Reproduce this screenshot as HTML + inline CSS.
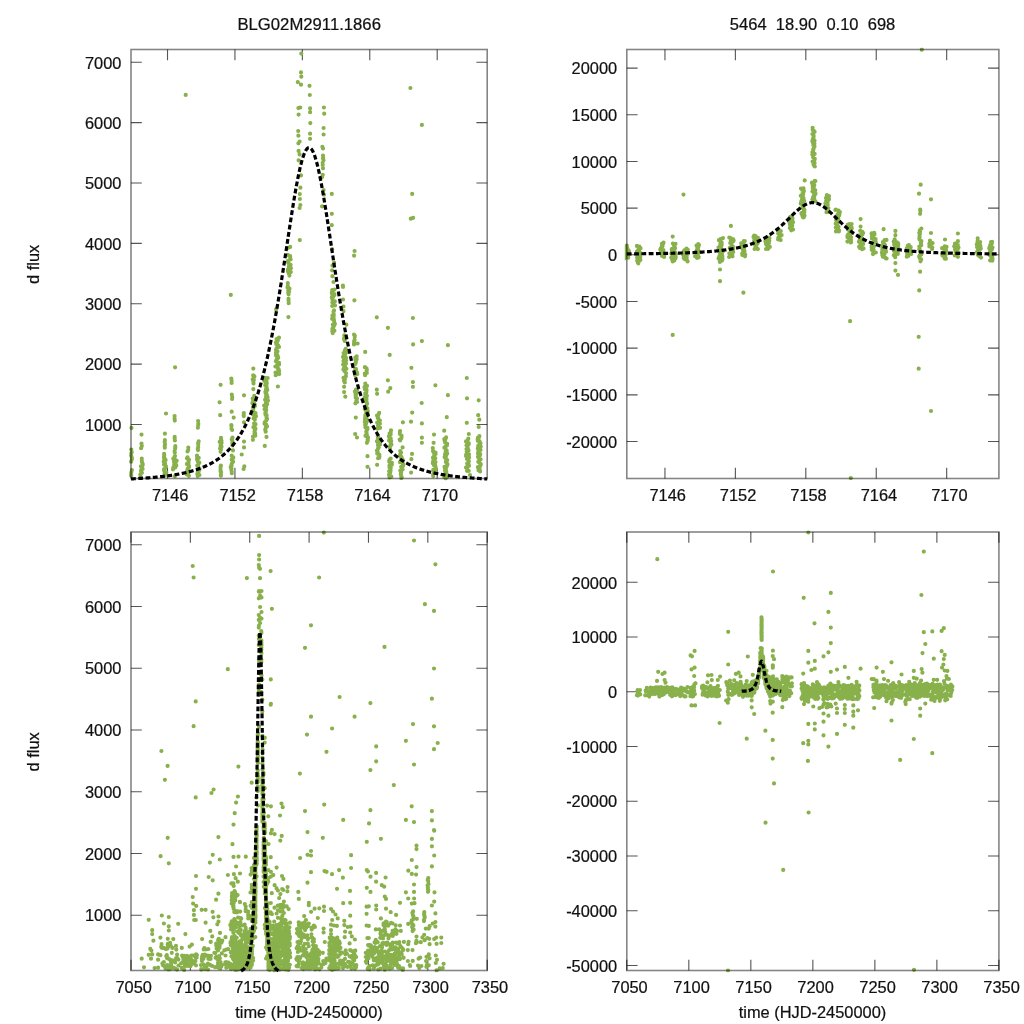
<!DOCTYPE html><html><head><meta charset="utf-8"><style>html,body{margin:0;padding:0;background:#fff;overflow:hidden}svg{display:block}</style></head><body><svg width="1024" height="1024" viewBox="0 0 1024 1024" font-family="'Liberation Sans', sans-serif" font-size="16.4">
<style>text{fill:#111;stroke:#111;stroke-width:0.22px}</style><rect width="1024" height="1024" fill="#fff"/>
<path d="M167.52 478.5v-10.8M167.52 49.5v10.8M234.94 478.5v-10.8M234.94 49.5v10.8M302.36 478.5v-10.8M302.36 49.5v10.8M369.78 478.5v-10.8M369.78 49.5v10.8M437.20 478.5v-10.8M437.20 49.5v10.8M131.0 424.50h10.8M487.2 424.50h-10.8M131.0 364.13h10.8M487.2 364.13h-10.8M131.0 303.77h10.8M487.2 303.77h-10.8M131.0 243.40h10.8M487.2 243.40h-10.8M131.0 183.03h10.8M487.2 183.03h-10.8M131.0 122.67h10.8M487.2 122.67h-10.8M131.0 62.30h10.8M487.2 62.30h-10.8" stroke="#555" stroke-width="1.1" fill="none"/>
<text x="170.22" y="501.30" text-anchor="middle">7146</text>
<text x="237.64" y="501.30" text-anchor="middle">7152</text>
<text x="305.06" y="501.30" text-anchor="middle">7158</text>
<text x="372.48" y="501.30" text-anchor="middle">7164</text>
<text x="439.90" y="501.30" text-anchor="middle">7170</text>
<text x="121.40" y="430.70" text-anchor="end">1000</text>
<text x="121.40" y="370.33" text-anchor="end">2000</text>
<text x="121.40" y="309.97" text-anchor="end">3000</text>
<text x="121.40" y="249.60" text-anchor="end">4000</text>
<text x="121.40" y="189.23" text-anchor="end">5000</text>
<text x="121.40" y="128.87" text-anchor="end">6000</text>
<text x="121.40" y="68.50" text-anchor="end">7000</text>
<path d="M664.95 478.5v-10.8M664.95 49.5v10.8M735.38 478.5v-10.8M735.38 49.5v10.8M805.81 478.5v-10.8M805.81 49.5v10.8M876.24 478.5v-10.8M876.24 49.5v10.8M946.67 478.5v-10.8M946.67 49.5v10.8M626.8 441.52h10.8M998.9 441.52h-10.8M626.8 394.84h10.8M998.9 394.84h-10.8M626.8 348.16h10.8M998.9 348.16h-10.8M626.8 301.48h10.8M998.9 301.48h-10.8M626.8 254.80h10.8M998.9 254.80h-10.8M626.8 208.12h10.8M998.9 208.12h-10.8M626.8 161.44h10.8M998.9 161.44h-10.8M626.8 114.76h10.8M998.9 114.76h-10.8M626.8 68.08h10.8M998.9 68.08h-10.8" stroke="#555" stroke-width="1.1" fill="none"/>
<text x="667.65" y="501.30" text-anchor="middle">7146</text>
<text x="738.08" y="501.30" text-anchor="middle">7152</text>
<text x="808.51" y="501.30" text-anchor="middle">7158</text>
<text x="878.94" y="501.30" text-anchor="middle">7164</text>
<text x="949.37" y="501.30" text-anchor="middle">7170</text>
<text x="617.20" y="447.72" text-anchor="end">-20000</text>
<text x="617.20" y="401.04" text-anchor="end">-15000</text>
<text x="617.20" y="354.36" text-anchor="end">-10000</text>
<text x="617.20" y="307.68" text-anchor="end">-5000</text>
<text x="617.20" y="261.00" text-anchor="end">0</text>
<text x="617.20" y="214.32" text-anchor="end">5000</text>
<text x="617.20" y="167.64" text-anchor="end">10000</text>
<text x="617.20" y="120.96" text-anchor="end">15000</text>
<text x="617.20" y="74.28" text-anchor="end">20000</text>
<path d="M131.00 970.5v-10.8M131.00 532.0v10.8M190.37 970.5v-10.8M190.37 532.0v10.8M249.73 970.5v-10.8M249.73 532.0v10.8M309.10 970.5v-10.8M309.10 532.0v10.8M368.47 970.5v-10.8M368.47 532.0v10.8M427.83 970.5v-10.8M427.83 532.0v10.8M487.20 970.5v-10.8M487.20 532.0v10.8M131.0 915.20h10.8M487.2 915.20h-10.8M131.0 853.47h10.8M487.2 853.47h-10.8M131.0 791.73h10.8M487.2 791.73h-10.8M131.0 730.00h10.8M487.2 730.00h-10.8M131.0 668.27h10.8M487.2 668.27h-10.8M131.0 606.54h10.8M487.2 606.54h-10.8M131.0 544.80h10.8M487.2 544.80h-10.8" stroke="#555" stroke-width="1.1" fill="none"/>
<text x="133.70" y="993.30" text-anchor="middle">7050</text>
<text x="193.07" y="993.30" text-anchor="middle">7100</text>
<text x="252.43" y="993.30" text-anchor="middle">7150</text>
<text x="311.80" y="993.30" text-anchor="middle">7200</text>
<text x="371.17" y="993.30" text-anchor="middle">7250</text>
<text x="430.53" y="993.30" text-anchor="middle">7300</text>
<text x="489.90" y="993.30" text-anchor="middle">7350</text>
<text x="121.40" y="921.40" text-anchor="end">1000</text>
<text x="121.40" y="859.67" text-anchor="end">2000</text>
<text x="121.40" y="797.93" text-anchor="end">3000</text>
<text x="121.40" y="736.20" text-anchor="end">4000</text>
<text x="121.40" y="674.47" text-anchor="end">5000</text>
<text x="121.40" y="612.74" text-anchor="end">6000</text>
<text x="121.40" y="551.00" text-anchor="end">7000</text>
<path d="M626.80 970.5v-10.8M626.80 532.0v10.8M688.82 970.5v-10.8M688.82 532.0v10.8M750.83 970.5v-10.8M750.83 532.0v10.8M812.85 970.5v-10.8M812.85 532.0v10.8M874.87 970.5v-10.8M874.87 532.0v10.8M936.88 970.5v-10.8M936.88 532.0v10.8M998.90 970.5v-10.8M998.90 532.0v10.8M626.8 965.48h10.8M998.9 965.48h-10.8M626.8 910.74h10.8M998.9 910.74h-10.8M626.8 856.00h10.8M998.9 856.00h-10.8M626.8 801.26h10.8M998.9 801.26h-10.8M626.8 746.52h10.8M998.9 746.52h-10.8M626.8 691.78h10.8M998.9 691.78h-10.8M626.8 637.04h10.8M998.9 637.04h-10.8M626.8 582.30h10.8M998.9 582.30h-10.8" stroke="#555" stroke-width="1.1" fill="none"/>
<text x="629.50" y="993.30" text-anchor="middle">7050</text>
<text x="691.52" y="993.30" text-anchor="middle">7100</text>
<text x="753.53" y="993.30" text-anchor="middle">7150</text>
<text x="815.55" y="993.30" text-anchor="middle">7200</text>
<text x="877.57" y="993.30" text-anchor="middle">7250</text>
<text x="939.58" y="993.30" text-anchor="middle">7300</text>
<text x="1001.60" y="993.30" text-anchor="middle">7350</text>
<text x="617.20" y="971.68" text-anchor="end">-50000</text>
<text x="617.20" y="916.94" text-anchor="end">-40000</text>
<text x="617.20" y="862.20" text-anchor="end">-30000</text>
<text x="617.20" y="807.46" text-anchor="end">-20000</text>
<text x="617.20" y="752.72" text-anchor="end">-10000</text>
<text x="617.20" y="697.98" text-anchor="end">0</text>
<text x="617.20" y="643.24" text-anchor="end">10000</text>
<text x="617.20" y="588.50" text-anchor="end">20000</text>
<defs><clipPath id="cTL"><rect x="129.0" y="47.5" width="360.20" height="433.00"/></clipPath><clipPath id="cTR"><rect x="624.8" y="47.5" width="376.10" height="433.00"/></clipPath><clipPath id="cBL"><rect x="129.0" y="530.0" width="360.20" height="442.50"/></clipPath><clipPath id="cBR"><rect x="624.8" y="530.0" width="376.10" height="442.50"/></clipPath></defs>
<path clip-path="url(#cTL)" d="M185.7 94.9h0M230.8 294.9h0M131.5 427.9h0M131.3 449.5h0M131.7 452.1h0M131.3 453.6h0M131.2 455.8h0M131.9 457.8h0M131.9 459.2h0M131.1 461.7h0M131.9 470.2h0M131.3 472.5h0M131.2 474.5h0M131.2 475.7h0M141.5 434.6h0M141.5 443.7h0M141.8 446.0h0M141.1 448.2h0M141.8 458.7h0M141.8 461.0h0M142.1 462.6h0M142.7 463.9h0M142.7 464.9h0M140.9 466.3h0M142.0 467.6h0M142.6 468.9h0M141.1 470.2h0M141.1 471.7h0M141.9 472.8h0M140.3 474.5h0M140.6 476.3h0M166.0 413.5h0M164.9 433.7h0M164.9 440.2h0M164.7 441.9h0M165.0 444.2h0M164.8 445.8h0M164.8 447.7h0M164.1 453.9h0M164.2 455.2h0M164.0 456.9h0M164.0 458.3h0M165.2 459.4h0M165.6 460.1h0M163.7 461.5h0M165.0 463.2h0M164.0 464.6h0M165.4 465.4h0M166.0 466.5h0M165.2 468.2h0M164.0 469.4h0M164.1 470.4h0M166.2 472.7h0M164.6 473.5h0M166.2 474.6h0M164.6 475.7h0M175.1 367.3h0M174.6 416.0h0M174.6 418.8h0M174.8 420.6h0M174.7 436.9h0M174.7 438.7h0M174.9 440.5h0M175.3 446.2h0M175.3 446.9h0M175.1 448.7h0M174.6 451.4h0M174.8 452.5h0M175.0 456.0h0M174.6 456.7h0M173.3 458.8h0M174.8 459.4h0M176.7 460.8h0M174.0 461.8h0M174.3 462.9h0M175.6 464.0h0M176.3 465.4h0M174.1 465.3h0M175.3 467.4h0M173.2 467.8h0M173.0 469.4h0M174.9 476.2h0M188.3 447.5h0M188.2 450.1h0M187.5 451.5h0M187.6 457.4h0M186.9 458.3h0M189.0 459.8h0M188.4 462.0h0M188.5 463.0h0M186.9 464.1h0M188.9 465.9h0M189.0 467.1h0M187.8 468.7h0M188.1 469.8h0M187.3 470.4h0M188.9 471.7h0M187.9 472.9h0M186.8 474.5h0M188.9 475.8h0M198.1 421.0h0M198.3 423.8h0M198.2 425.1h0M197.9 427.7h0M198.7 441.3h0M198.2 442.9h0M198.2 444.3h0M198.2 447.0h0M197.8 448.7h0M198.0 450.1h0M197.0 455.7h0M197.0 456.1h0M198.7 457.9h0M197.0 458.9h0M197.4 460.3h0M197.9 461.6h0M199.3 462.7h0M198.2 464.6h0M197.2 465.5h0M198.3 467.1h0M199.6 468.8h0M199.3 470.0h0M197.9 470.9h0M198.4 472.2h0M197.3 473.9h0M199.4 475.0h0M197.7 475.9h0M220.6 384.8h0M219.6 402.3h0M220.2 415.2h0M221.0 437.9h0M221.0 439.5h0M221.5 440.8h0M219.7 441.9h0M221.6 442.8h0M221.1 444.3h0M220.5 445.8h0M221.5 446.7h0M220.1 448.5h0M220.9 449.6h0M220.6 451.8h0M220.9 465.6h0M220.6 466.9h0M220.5 469.4h0M220.6 471.4h0M221.1 472.2h0M220.9 474.4h0M220.9 475.7h0M231.3 378.5h0M231.6 380.7h0M231.6 383.0h0M231.8 394.7h0M232.2 397.3h0M232.1 398.9h0M231.7 411.7h0M233.7 417.6h0M231.4 425.1h0M231.4 426.0h0M231.5 428.8h0M232.1 430.0h0M232.5 437.7h0M231.7 439.3h0M232.4 441.2h0M232.3 443.2h0M232.4 445.4h0M233.0 450.4h0M231.7 455.7h0M233.3 457.4h0M231.7 459.4h0M232.6 460.2h0M233.1 461.8h0M232.0 463.3h0M231.5 464.9h0M231.6 465.6h0M230.7 467.1h0M231.5 468.4h0M231.3 469.6h0M231.7 471.6h0M231.8 473.2h0M244.0 395.3h0M243.8 413.1h0M243.7 415.0h0M243.8 416.1h0M244.0 422.3h0M244.0 441.6h0M244.0 447.4h0M241.7 454.5h0M244.3 466.4h0M243.6 469.0h0M301.3 53.6h0M301.0 72.4h0M301.3 76.7h0M297.8 82.1h0M301.0 84.7h0M298.4 108.1h0M300.2 107.5h0M298.6 114.6h0M298.2 131.0h0M298.4 135.7h0M299.6 141.5h0M298.4 143.3h0M298.6 150.9h0M299.6 154.4h0M298.6 160.3h0M309.5 85.8h0M309.8 95.0h0M310.1 108.3h0M310.1 112.2h0M310.3 123.1h0M310.1 133.7h0M310.1 138.8h0M323.9 107.5h0M324.2 113.7h0M323.6 128.0h0M323.6 134.5h0M322.4 146.8h0M323.0 148.5h0M323.0 155.6h0M323.2 157.4h0M323.0 158.6h0M323.5 160.3h0M322.7 162.8h0M322.7 164.9h0M410.4 88.0h0M421.9 124.9h0M301.0 175.4h0M300.4 187.7h0M299.8 194.1h0M299.9 199.0h0M300.4 205.0h0M299.6 208.0h0M299.8 240.1h0M290.2 246.9h0M287.8 248.0h0M287.8 254.9h0M290.1 256.1h0M290.2 257.0h0M290.3 258.5h0M290.6 259.4h0M287.8 261.2h0M287.9 262.1h0M288.8 263.6h0M290.6 264.8h0M290.3 265.2h0M288.9 266.7h0M290.9 268.2h0M288.4 269.4h0M288.0 269.7h0M287.9 271.2h0M290.8 272.1h0M288.8 273.4h0M289.4 275.6h0M287.8 283.2h0M323.0 168.3h0M322.7 174.8h0M322.1 177.1h0M323.6 190.0h0M324.0 194.7h0M322.1 206.4h0M331.8 193.9h0M331.8 213.8h0M331.8 225.2h0M332.1 249.2h0M334.1 262.7h0M332.4 265.6h0M332.1 270.3h0M332.4 276.2h0M333.5 282.0h0M354.6 251.0h0M354.1 255.7h0M342.9 285.5h0M412.2 193.9h0M410.8 218.7h0M413.1 217.8h0M287.8 286.2h0M287.5 287.6h0M289.5 288.5h0M288.3 290.4h0M289.1 291.4h0M288.2 292.7h0M288.6 294.3h0M288.5 298.9h0M288.6 300.8h0M288.7 303.2h0M288.4 317.1h0M276.1 309.4h0M279.0 337.7h0M277.9 338.5h0M276.6 339.1h0M277.9 340.2h0M277.3 341.2h0M276.0 342.4h0M276.3 344.1h0M276.9 344.2h0M278.1 345.4h0M279.0 346.9h0M276.6 348.2h0M276.4 349.2h0M276.0 350.2h0M277.5 351.3h0M276.9 351.7h0M276.0 352.7h0M276.8 354.0h0M275.9 355.3h0M277.6 355.8h0M277.9 357.1h0M278.2 357.8h0M276.8 359.1h0M276.7 359.8h0M275.9 361.2h0M277.6 362.3h0M279.0 362.8h0M279.1 364.5h0M277.3 364.5h0M275.4 366.5h0M277.1 366.8h0M277.6 367.7h0M278.6 369.1h0M278.3 369.7h0M279.1 371.0h0M275.5 372.5h0M276.4 373.0h0M279.2 374.1h0M275.7 375.2h0M277.9 386.5h0M253.3 368.6h0M253.2 375.4h0M254.4 376.4h0M253.6 378.3h0M252.7 379.4h0M253.8 380.0h0M253.4 382.0h0M253.5 383.6h0M253.3 389.1h0M254.3 395.9h0M255.1 397.8h0M252.7 398.5h0M253.2 400.7h0M254.0 402.2h0M252.4 403.2h0M254.8 404.5h0M265.7 378.0h0M267.7 378.0h0M266.0 379.3h0M266.4 380.4h0M264.4 380.9h0M266.7 382.7h0M266.8 383.3h0M265.4 384.7h0M265.2 385.3h0M266.5 386.0h0M266.6 387.7h0M266.7 388.1h0M266.0 389.3h0M267.3 389.9h0M265.4 391.9h0M266.2 392.3h0M265.7 393.3h0M266.8 394.8h0M266.7 395.2h0M266.0 396.7h0M267.6 397.2h0M267.0 397.9h0M265.1 399.8h0M268.0 400.6h0M266.6 401.2h0M266.0 402.4h0M266.4 403.8h0M267.1 404.2h0M265.5 405.6h0M334.4 289.6h0M332.2 290.0h0M332.5 291.4h0M331.8 292.7h0M334.4 294.1h0M332.2 294.5h0M334.4 295.1h0M333.2 296.8h0M331.8 297.5h0M332.4 299.0h0M332.5 299.5h0M332.7 300.9h0M334.9 301.3h0M332.4 302.4h0M333.3 304.1h0M335.0 305.4h0M332.2 306.0h0M334.0 310.4h0M333.5 311.7h0M333.7 312.8h0M333.8 315.1h0M332.4 315.6h0M333.6 317.3h0M332.1 318.8h0M333.8 319.4h0M334.1 321.2h0M334.3 322.9h0M334.9 323.9h0M332.8 324.8h0M333.9 326.1h0M333.2 327.2h0M332.4 328.8h0M334.4 330.7h0M332.3 331.3h0M332.7 333.1h0M343.0 286.9h0M343.0 299.5h0M343.5 306.5h0M343.5 311.2h0M346.4 324.7h0M344.3 335.3h0M344.2 337.6h0M344.0 339.2h0M344.8 340.9h0M345.7 348.9h0M344.9 350.3h0M346.2 351.8h0M346.6 352.3h0M343.6 353.1h0M345.0 354.5h0M344.0 355.4h0M344.9 356.3h0M343.0 356.9h0M346.0 357.9h0M344.0 359.6h0M346.1 360.6h0M343.5 361.0h0M344.5 362.3h0M346.0 363.4h0M343.1 364.6h0M344.7 365.3h0M345.2 366.9h0M344.0 368.2h0M346.4 368.8h0M343.4 369.6h0M344.3 370.3h0M344.6 371.2h0M346.1 373.3h0M345.9 376.3h0M343.5 377.8h0M344.9 379.3h0M344.0 380.8h0M344.8 382.4h0M344.1 386.8h0M344.1 392.1h0M345.3 396.7h0M354.4 300.3h0M354.0 334.6h0M354.8 335.8h0M354.7 337.1h0M354.6 339.8h0M354.1 341.3h0M354.0 343.3h0M354.0 344.4h0M357.6 343.5h0M356.7 356.3h0M355.3 357.7h0M356.7 359.2h0M355.5 360.1h0M355.9 361.4h0M355.8 362.6h0M355.3 364.0h0M355.2 368.6h0M356.1 369.2h0M355.3 371.2h0M357.0 372.7h0M357.3 374.1h0M355.1 375.1h0M356.0 389.6h0M357.1 390.1h0M354.9 391.5h0M356.5 393.5h0M355.5 394.3h0M355.7 396.1h0M355.7 397.5h0M357.0 398.4h0M356.4 400.5h0M357.1 402.0h0M355.4 403.3h0M365.2 351.9h0M364.9 367.2h0M366.5 368.4h0M366.8 369.7h0M366.7 370.6h0M366.8 372.9h0M364.8 373.6h0M365.1 375.2h0M365.3 383.5h0M365.5 384.9h0M367.0 385.9h0M364.5 387.2h0M364.9 389.2h0M366.5 389.7h0M366.5 390.7h0M366.3 392.6h0M365.2 393.7h0M366.9 395.8h0M365.4 396.7h0M364.6 397.4h0M366.5 398.9h0M365.1 400.3h0M366.6 401.9h0M367.1 403.8h0M376.8 317.3h0M412.9 318.0h0M387.9 327.8h0M421.9 341.1h0M413.1 344.4h0M447.9 345.2h0M389.7 354.9h0M411.4 367.8h0M387.9 380.3h0M412.9 382.1h0M412.9 386.8h0M435.4 385.3h0M466.8 378.0h0M376.8 389.7h0M377.1 393.8h0M390.3 388.2h0M388.2 391.7h0M447.9 395.2h0M467.0 398.3h0M478.7 400.3h0M421.7 403.0h0M254.9 405.9h0M253.2 406.8h0M253.3 408.3h0M253.2 409.8h0M252.9 410.7h0M253.4 411.9h0M255.5 413.0h0M253.9 413.5h0M253.6 414.8h0M256.0 416.2h0M255.0 417.4h0M253.6 418.4h0M254.8 419.8h0M254.1 423.5h0M255.5 424.2h0M254.7 425.8h0M253.4 427.2h0M255.4 428.6h0M255.2 429.6h0M254.9 430.1h0M254.5 431.3h0M254.5 433.3h0M255.2 433.4h0M255.3 435.7h0M253.0 436.5h0M252.9 439.8h0M264.1 405.5h0M266.1 406.9h0M265.2 408.5h0M264.6 409.2h0M266.2 410.0h0M265.9 411.6h0M265.3 413.1h0M265.5 414.4h0M266.6 415.2h0M266.4 416.1h0M266.5 417.3h0M267.1 418.8h0M266.4 419.8h0M266.3 420.5h0M264.7 422.3h0M264.6 423.8h0M266.1 424.6h0M265.8 425.2h0M267.0 426.4h0M265.8 427.8h0M265.4 429.8h0M265.2 429.8h0M265.7 431.7h0M266.5 436.9h0M264.8 445.9h0M355.8 417.6h0M355.2 434.0h0M357.0 437.5h0M365.1 406.6h0M366.0 406.7h0M367.4 408.3h0M364.8 409.1h0M366.2 410.9h0M367.8 411.3h0M366.3 412.5h0M367.9 414.0h0M365.4 415.2h0M366.5 416.9h0M365.2 417.3h0M365.0 419.0h0M367.0 419.8h0M366.9 421.4h0M364.8 421.9h0M366.0 423.7h0M365.2 424.7h0M365.3 425.4h0M365.4 427.3h0M367.4 427.8h0M367.4 429.2h0M366.7 430.5h0M366.3 431.5h0M366.5 432.7h0M366.8 434.5h0M366.8 435.3h0M365.5 435.8h0M368.0 437.4h0M367.8 439.0h0M367.6 439.9h0M367.7 441.0h0M366.9 442.8h0M367.5 456.2h0M367.5 466.8h0M379.2 412.9h0M378.4 414.6h0M377.0 415.5h0M377.9 416.5h0M377.8 417.9h0M378.5 418.9h0M379.7 420.5h0M379.9 420.6h0M377.2 422.6h0M379.9 423.7h0M378.7 424.4h0M378.1 425.4h0M378.3 426.9h0M380.1 427.8h0M377.4 428.7h0M377.7 436.1h0M378.2 436.9h0M377.9 438.3h0M379.7 439.4h0M376.9 441.3h0M379.0 441.6h0M378.0 443.1h0M380.0 444.5h0M378.0 445.2h0M378.8 447.2h0M378.5 447.9h0M378.0 448.7h0M376.9 450.6h0M377.4 451.5h0M377.8 452.4h0M377.2 453.6h0M379.4 454.8h0M379.4 456.4h0M379.2 457.8h0M378.1 458.2h0M377.1 464.8h0M391.0 430.3h0M390.7 432.0h0M389.6 433.6h0M390.7 434.3h0M388.9 436.3h0M389.6 437.7h0M390.7 438.4h0M389.1 440.4h0M391.2 441.2h0M390.6 442.6h0M390.7 444.2h0M391.4 444.7h0M390.1 446.3h0M389.9 448.4h0M390.7 458.5h0M389.6 459.6h0M389.2 461.0h0M389.4 462.0h0M391.9 462.8h0M391.8 464.8h0M389.5 465.5h0M389.5 467.3h0M390.7 467.9h0M390.3 468.8h0M390.6 470.6h0M389.1 471.3h0M390.2 472.6h0M389.9 473.5h0M389.0 474.8h0M391.3 476.6h0M389.5 477.4h0M402.9 422.3h0M400.1 431.1h0M399.9 432.1h0M399.9 434.0h0M401.5 435.5h0M401.6 437.0h0M401.2 438.6h0M399.7 439.6h0M400.2 440.5h0M402.6 447.4h0M400.2 451.0h0M401.0 452.4h0M400.3 454.4h0M400.0 455.2h0M400.2 456.6h0M401.5 457.2h0M401.4 458.9h0M402.5 459.4h0M403.0 460.5h0M399.9 462.2h0M402.7 463.8h0M403.1 464.1h0M403.1 465.5h0M401.2 466.8h0M402.3 467.8h0M402.6 469.4h0M400.3 470.6h0M400.8 470.9h0M401.1 472.4h0M400.8 473.9h0M401.1 475.5h0M401.2 475.8h0M401.7 477.3h0M401.3 478.1h0M412.2 412.6h0M411.0 421.7h0M412.0 453.9h0M411.4 459.2h0M411.1 472.6h0M421.9 423.4h0M421.9 437.7h0M421.9 442.8h0M434.0 434.6h0M433.6 442.8h0M432.8 448.0h0M433.0 450.9h0M433.4 451.9h0M435.5 452.5h0M435.6 453.9h0M434.4 454.5h0M434.2 455.8h0M433.0 457.7h0M435.3 458.3h0M434.4 460.1h0M433.2 461.1h0M435.5 462.1h0M432.8 463.2h0M435.1 465.0h0M433.9 465.1h0M435.5 466.4h0M435.6 468.2h0M435.8 469.1h0M433.3 469.8h0M434.5 471.9h0M433.8 473.2h0M434.1 473.3h0M433.1 474.6h0M433.2 475.9h0M446.8 417.2h0M444.2 430.7h0M446.1 437.4h0M444.3 439.0h0M445.4 439.3h0M444.6 440.8h0M445.1 442.4h0M446.4 443.8h0M447.2 443.8h0M446.9 445.4h0M445.2 446.9h0M444.4 447.7h0M445.4 448.3h0M446.7 450.5h0M445.6 451.5h0M446.1 452.9h0M447.2 453.6h0M445.0 454.3h0M446.0 455.8h0M444.6 457.0h0M445.1 457.7h0M446.2 459.1h0M447.2 460.2h0M446.0 461.3h0M445.9 462.1h0M447.2 464.2h0M447.5 464.2h0M446.9 466.0h0M444.5 466.8h0M445.9 468.7h0M445.1 469.1h0M445.0 470.4h0M446.2 471.4h0M446.4 473.3h0M444.8 474.0h0M447.1 474.5h0M447.1 476.7h0M444.3 477.0h0M445.7 478.5h0M466.8 422.8h0M468.8 434.0h0M468.3 438.7h0M467.6 440.3h0M466.0 441.4h0M466.8 441.9h0M468.8 443.3h0M468.7 444.2h0M466.5 445.3h0M467.5 446.7h0M467.9 448.5h0M466.5 449.0h0M468.5 450.5h0M466.7 451.5h0M467.4 452.5h0M469.0 454.4h0M466.2 454.6h0M466.0 456.0h0M469.1 457.5h0M467.0 458.9h0M468.1 459.2h0M468.8 461.2h0M468.4 462.6h0M467.2 463.4h0M468.6 464.3h0M469.0 465.8h0M466.7 467.1h0M466.0 467.5h0M467.1 468.6h0M467.0 470.8h0M468.7 470.9h0M470.0 475.0h0M478.2 415.2h0M479.3 419.7h0M478.7 427.0h0M479.4 436.2h0M478.0 437.6h0M478.6 438.6h0M477.7 439.4h0M477.8 440.8h0M479.6 441.5h0M480.5 443.3h0M479.3 444.7h0M478.2 445.8h0M480.7 446.6h0M480.3 447.1h0M477.8 448.4h0M480.5 450.0h0M478.4 450.9h0M478.4 452.0h0M478.0 453.4h0M480.2 454.1h0M479.9 455.3h0M478.0 456.7h0M478.4 457.7h0M480.6 459.3h0M479.3 460.4h0M478.3 461.8h0M478.4 461.9h0M480.1 463.5h0M480.8 464.2h0M480.3 465.8h0M477.9 467.2h0M478.8 468.5h0M479.7 469.3h0M478.5 470.2h0M480.1 471.4h0" stroke="#88b04b" stroke-width="4.2" stroke-linecap="round" fill="none"/>
<path clip-path="url(#cTR)" d="M626.8 245.6h0M625.3 246.6h0M626.3 247.5h0M627.0 247.2h0M625.7 248.5h0M627.8 249.4h0M624.6 250.7h0M629.0 251.1h0M628.8 251.6h0M627.9 252.3h0M627.5 253.2h0M625.1 254.3h0M626.9 254.5h0M628.4 255.3h0M624.8 256.7h0M628.2 257.7h0M624.4 258.5h0M636.9 245.9h0M639.3 246.7h0M639.7 248.5h0M640.5 248.2h0M638.4 249.4h0M639.0 250.6h0M637.1 251.6h0M636.9 251.6h0M638.7 252.4h0M640.4 253.0h0M639.9 254.7h0M638.9 255.6h0M637.6 256.1h0M640.3 257.2h0M637.1 257.6h0M637.9 258.4h0M638.5 258.7h0M640.4 260.0h0M637.1 260.5h0M639.0 261.2h0M637.8 262.4h0M638.2 263.4h0M663.5 242.6h0M661.9 243.8h0M663.2 243.6h0M662.4 244.5h0M662.5 246.2h0M661.6 247.0h0M661.7 246.9h0M660.8 248.6h0M660.3 249.5h0M663.4 250.0h0M663.2 250.3h0M661.2 251.9h0M661.1 251.9h0M663.9 253.1h0M664.2 253.7h0M662.3 255.0h0M664.2 255.7h0M661.9 255.8h0M664.1 256.9h0M672.7 236.6h0M672.9 243.5h0M675.5 243.8h0M673.8 244.7h0M674.5 246.3h0M674.1 247.1h0M674.1 247.8h0M675.1 248.3h0M672.2 248.9h0M671.7 249.4h0M672.6 250.9h0M672.0 252.0h0M675.1 252.3h0M671.4 253.4h0M675.9 254.2h0M675.3 254.4h0M672.4 255.6h0M675.7 256.9h0M671.3 257.5h0M673.4 258.1h0M675.4 258.4h0M671.9 259.1h0M674.3 260.4h0M672.7 261.4h0M686.5 248.6h0M687.8 249.8h0M684.4 250.3h0M684.3 250.7h0M683.8 251.4h0M683.8 252.6h0M685.0 253.5h0M687.6 253.9h0M683.2 255.0h0M685.8 255.9h0M685.5 256.7h0M686.7 257.2h0M683.7 258.0h0M684.6 259.1h0M685.7 259.2h0M686.9 260.1h0M687.6 261.4h0M683.5 194.6h0M698.2 244.0h0M699.0 245.1h0M696.5 245.5h0M698.1 246.8h0M698.3 247.3h0M697.3 248.0h0M697.6 249.7h0M698.2 250.3h0M696.7 250.7h0M696.5 251.8h0M699.4 252.3h0M696.0 252.7h0M696.7 253.7h0M697.7 255.4h0M695.1 256.2h0M698.7 257.1h0M696.9 257.8h0M698.2 257.6h0M723.0 238.1h0M720.5 239.0h0M718.9 240.2h0M720.3 240.6h0M720.8 241.6h0M721.7 242.7h0M720.4 243.6h0M721.4 244.3h0M721.7 244.8h0M721.3 246.1h0M719.7 246.4h0M718.5 247.7h0M720.0 248.1h0M721.2 248.6h0M722.6 250.5h0M720.8 250.2h0M722.9 251.3h0M722.1 252.5h0M720.9 252.6h0M720.1 253.6h0M721.4 254.7h0M722.2 255.4h0M719.4 256.2h0M722.4 257.1h0M718.8 258.5h0M718.6 258.4h0M722.5 259.2h0M722.0 260.6h0M719.8 261.5h0M719.9 261.9h0M720.0 269.5h0M720.0 281.2h0M730.9 225.9h0M729.3 237.6h0M731.0 238.4h0M733.3 239.3h0M730.9 240.6h0M733.6 240.4h0M733.3 241.3h0M731.1 242.0h0M730.2 243.0h0M731.4 244.1h0M731.5 245.3h0M732.1 246.3h0M732.9 246.6h0M729.8 247.9h0M733.2 248.7h0M731.5 249.1h0M732.4 249.7h0M731.6 250.7h0M733.2 251.9h0M730.9 252.8h0M729.3 253.3h0M731.3 254.4h0M732.2 254.5h0M731.6 255.4h0M732.5 256.3h0M729.1 257.0h0M744.8 241.0h0M743.8 241.2h0M743.7 242.4h0M741.2 243.3h0M743.6 243.5h0M744.0 245.0h0M741.8 245.1h0M744.6 246.5h0M742.7 247.2h0M741.1 247.5h0M744.0 248.5h0M742.7 249.2h0M744.5 251.0h0M743.4 251.7h0M743.0 252.4h0M744.3 252.8h0M742.2 253.8h0M745.2 254.7h0M742.4 254.9h0M745.0 256.3h0M743.4 292.7h0M754.2 235.6h0M755.5 236.1h0M753.5 237.1h0M757.9 237.8h0M755.3 238.8h0M755.2 239.4h0M754.2 240.6h0M757.3 241.4h0M754.3 242.0h0M757.9 242.7h0M757.3 243.8h0M756.0 245.0h0M755.2 245.5h0M755.6 245.9h0M756.0 246.8h0M757.1 248.3h0M754.6 249.0h0M757.9 249.1h0M767.8 237.5h0M769.4 237.9h0M768.9 239.6h0M765.8 239.7h0M769.3 240.8h0M765.4 241.3h0M768.9 242.9h0M767.4 243.5h0M766.0 243.9h0M766.3 244.7h0M767.9 246.4h0M769.8 246.9h0M767.5 247.4h0M768.1 248.8h0M766.0 249.0h0M778.3 229.6h0M778.3 230.2h0M780.8 231.1h0M779.3 231.9h0M778.2 233.4h0M779.8 233.5h0M779.2 234.6h0M781.6 235.1h0M780.5 236.0h0M778.3 237.8h0M778.5 238.6h0M779.1 238.8h0M778.1 239.5h0M780.7 240.1h0M790.4 216.8h0M791.6 217.8h0M792.5 218.3h0M791.6 219.1h0M789.9 220.7h0M792.4 220.8h0M789.3 222.1h0M793.0 222.3h0M791.1 223.9h0M790.4 224.6h0M789.9 224.5h0M792.3 225.5h0M790.4 226.2h0M789.8 228.0h0M791.8 228.4h0M793.1 229.5h0M791.3 230.3h0M801.0 188.5h0M803.5 188.3h0M802.2 190.0h0M803.9 191.1h0M803.3 192.5h0M803.2 193.2h0M802.4 193.9h0M803.1 194.6h0M800.8 195.8h0M802.9 197.4h0M803.5 198.1h0M802.2 198.7h0M801.7 200.5h0M804.2 200.8h0M801.2 201.7h0M801.4 202.6h0M800.7 203.6h0M803.3 204.4h0M803.5 206.2h0M802.5 207.0h0M803.2 208.4h0M804.1 209.3h0M804.4 210.1h0M803.9 211.0h0M804.3 212.1h0M801.5 213.1h0M801.6 214.1h0M804.5 215.4h0M802.6 216.4h0M804.0 216.9h0M803.3 217.5h0M804.7 180.4h0M812.6 127.8h0M812.7 129.9h0M813.6 130.5h0M814.6 131.8h0M812.4 134.0h0M813.5 135.2h0M813.6 136.3h0M813.5 137.4h0M812.9 139.1h0M814.5 140.7h0M812.3 141.0h0M812.9 142.6h0M814.4 143.7h0M813.2 145.0h0M814.5 146.5h0M813.7 148.6h0M813.2 149.3h0M813.2 150.8h0M812.4 152.4h0M814.6 153.9h0M812.3 154.5h0M812.9 156.4h0M813.2 157.4h0M814.8 158.8h0M814.4 160.0h0M812.6 161.6h0M814.6 163.0h0M813.4 164.1h0M814.2 165.8h0M814.8 166.5h0M814.8 180.9h0M815.4 181.1h0M811.9 182.7h0M813.7 183.9h0M812.4 183.9h0M814.3 185.2h0M812.7 186.1h0M813.8 187.1h0M812.7 188.2h0M814.9 190.1h0M815.3 190.3h0M812.4 191.5h0M814.1 192.9h0M815.5 193.7h0M814.1 194.5h0M814.5 195.4h0M813.1 197.0h0M813.1 197.2h0M814.2 198.4h0M812.4 199.6h0M813.9 200.8h0M815.4 201.4h0M826.9 195.0h0M829.0 196.2h0M826.0 197.9h0M827.6 198.9h0M829.0 199.2h0M826.2 200.8h0M827.8 202.1h0M827.2 202.7h0M825.4 203.4h0M827.7 204.8h0M826.9 205.8h0M826.0 206.8h0M828.4 208.1h0M827.9 208.4h0M827.7 209.1h0M828.3 211.1h0M828.3 211.9h0M826.5 212.2h0M835.8 209.7h0M835.4 210.0h0M838.5 210.6h0M839.9 212.2h0M838.8 213.1h0M839.4 213.9h0M837.6 214.4h0M838.7 215.3h0M839.2 215.3h0M837.8 216.6h0M835.9 217.4h0M838.3 218.7h0M836.9 218.8h0M836.1 219.9h0M837.4 220.8h0M839.0 221.8h0M837.5 222.6h0M836.6 223.2h0M835.7 223.7h0M836.9 225.2h0M837.5 225.4h0M838.5 226.9h0M836.1 227.5h0M835.8 227.6h0M838.3 229.4h0M837.7 229.5h0M839.1 230.6h0M838.9 231.4h0M836.0 231.4h0M851.6 224.0h0M849.3 224.1h0M847.9 224.6h0M847.9 225.7h0M850.3 227.0h0M851.6 227.3h0M848.0 227.9h0M851.7 228.7h0M847.8 229.4h0M850.6 230.8h0M849.5 231.2h0M851.3 232.1h0M851.8 233.2h0M848.2 234.4h0M850.3 234.5h0M848.3 236.0h0M847.4 235.9h0M851.1 237.3h0M847.5 237.3h0M850.0 239.0h0M850.2 239.2h0M851.0 240.1h0M847.4 241.6h0M851.1 242.2h0M850.7 242.4h0M860.6 219.1h0M860.6 226.6h0M860.2 230.8h0M862.4 231.8h0M863.1 233.0h0M862.2 232.8h0M862.5 234.2h0M859.3 235.3h0M859.8 235.9h0M859.1 236.3h0M861.6 237.8h0M860.8 238.2h0M859.9 238.7h0M860.7 239.3h0M859.4 240.8h0M858.9 241.8h0M862.7 242.6h0M862.6 243.2h0M863.2 243.9h0M862.3 244.0h0M860.5 244.7h0M861.6 246.3h0M859.1 246.8h0M859.8 247.9h0M863.5 248.4h0M862.1 249.2h0M874.2 232.9h0M871.6 233.4h0M874.5 234.2h0M872.0 235.1h0M872.7 236.4h0M871.9 237.2h0M873.6 237.5h0M871.9 238.4h0M875.6 239.0h0M874.3 240.5h0M875.7 241.7h0M875.8 242.2h0M873.0 242.8h0M873.1 243.3h0M872.7 244.6h0M871.6 245.8h0M873.8 246.6h0M872.2 246.8h0M871.6 247.3h0M872.3 248.0h0M871.7 249.8h0M873.5 249.7h0M872.9 250.8h0M873.2 251.3h0M875.8 252.5h0M873.0 254.1h0M883.6 229.2h0M884.6 240.0h0M886.5 239.9h0M884.2 241.0h0M882.9 242.2h0M883.0 242.7h0M883.5 243.2h0M884.9 244.8h0M883.4 245.0h0M882.5 245.8h0M883.6 247.2h0M882.3 247.5h0M884.3 248.8h0M882.3 249.7h0M884.8 249.7h0M885.7 250.6h0M886.0 251.7h0M881.9 252.7h0M882.5 253.7h0M884.4 253.8h0M883.2 255.2h0M882.3 255.0h0M882.8 256.7h0M885.1 257.4h0M886.6 258.5h0M885.9 258.5h0M895.4 230.9h0M895.4 235.2h0M894.7 239.4h0M894.6 240.1h0M893.7 241.7h0M897.0 242.4h0M894.7 242.9h0M898.2 243.4h0M894.2 244.8h0M898.2 245.2h0M896.1 245.5h0M894.9 247.1h0M898.1 247.6h0M897.7 248.6h0M894.7 249.6h0M896.5 249.7h0M893.9 250.8h0M897.5 251.3h0M897.7 252.9h0M896.5 252.8h0M897.8 253.8h0M893.8 255.2h0M894.8 256.3h0M895.2 257.2h0M895.4 263.1h0M895.4 270.6h0M898.0 274.9h0M908.9 245.2h0M907.9 245.7h0M910.7 247.2h0M906.9 248.0h0M908.9 248.4h0M909.5 248.9h0M910.1 250.5h0M908.2 251.0h0M906.5 251.7h0M909.6 252.2h0M907.1 253.5h0M911.2 254.0h0M907.3 254.7h0M908.3 255.9h0M906.8 256.7h0M920.7 184.7h0M919.0 193.7h0M920.2 209.6h0M920.3 211.1h0M920.1 213.8h0M921.4 228.5h0M919.8 230.3h0M920.0 231.8h0M919.3 232.8h0M919.9 233.9h0M919.5 235.9h0M919.6 236.9h0M919.3 238.5h0M919.6 239.5h0M921.4 241.1h0M920.8 242.8h0M921.0 243.0h0M921.2 245.2h0M919.3 246.5h0M919.6 248.1h0M919.3 249.3h0M919.7 249.8h0M919.8 251.1h0M921.3 252.5h0M921.3 254.6h0M919.6 255.7h0M919.2 256.4h0M919.7 258.0h0M921.2 259.4h0M920.5 261.3h0M920.1 271.7h0M919.2 290.4h0M931.0 199.3h0M931.0 233.0h0M930.0 240.5h0M930.1 241.8h0M932.6 243.1h0M929.3 243.9h0M930.3 245.1h0M929.4 246.5h0M932.0 247.3h0M932.3 247.6h0M932.1 248.9h0M945.0 239.5h0M944.7 246.4h0M946.5 246.9h0M944.5 247.2h0M942.1 248.2h0M943.7 248.7h0M946.1 250.4h0M945.5 250.6h0M946.0 251.7h0M943.5 252.7h0M945.3 253.6h0M942.4 253.5h0M945.8 254.3h0M942.5 255.6h0M945.2 256.6h0M945.0 257.7h0M944.7 258.6h0M945.9 258.7h0M957.9 233.5h0M957.9 241.2h0M955.0 243.5h0M957.8 244.9h0M954.8 245.6h0M954.2 246.3h0M958.5 247.5h0M955.7 247.3h0M957.9 249.1h0M955.0 249.3h0M955.7 250.3h0M956.3 250.5h0M955.6 251.7h0M956.7 252.3h0M958.6 253.2h0M957.6 254.4h0M954.8 255.5h0M957.7 256.3h0M957.9 256.8h0M977.7 238.4h0M977.5 241.5h0M980.1 242.2h0M978.8 243.3h0M976.8 244.4h0M979.1 244.3h0M980.4 245.9h0M979.5 246.4h0M977.0 247.1h0M980.8 248.5h0M979.3 248.5h0M979.6 249.9h0M977.9 250.4h0M977.6 251.2h0M976.9 252.2h0M979.0 252.9h0M978.9 254.2h0M979.2 254.4h0M977.8 254.8h0M979.3 256.2h0M980.1 256.6h0M981.0 257.6h0M991.0 242.1h0M992.1 241.8h0M991.7 243.7h0M991.3 244.5h0M991.1 244.9h0M990.2 245.1h0M991.6 246.9h0M992.5 247.5h0M989.4 247.7h0M989.3 248.5h0M991.9 249.4h0M990.2 250.4h0M990.5 251.6h0M989.9 252.6h0M990.2 252.6h0M989.9 253.3h0M989.8 255.1h0M990.7 255.9h0M990.9 255.7h0M992.3 256.9h0M991.8 258.3h0M992.5 258.7h0M991.3 259.0h0M990.1 260.5h0M992.4 260.6h0M921.8 49.7h0M672.7 334.9h0M850.1 321.2h0M918.7 336.8h0M918.7 368.7h0M931.0 411.0h0M850.8 478.1h0" stroke="#88b04b" stroke-width="4.2" stroke-linecap="round" fill="none"/>
<path clip-path="url(#cBL)" d="M192.7 566.0h0M193.6 577.5h0M305.0 647.8h0M227.8 669.2h0M195.7 701.4h0M323.8 532.6h0M414.0 540.5h0M435.4 564.3h0M319.1 577.5h0M424.9 604.2h0M434.0 610.9h0M311.0 625.3h0M384.5 646.9h0M434.0 668.5h0M339.6 697.0h0M370.4 703.1h0M431.9 698.7h0M193.6 726.2h0M161.4 751.0h0M167.6 765.9h0M164.9 779.8h0M238.4 766.6h0M213.6 789.5h0M211.5 793.0h0M195.7 797.4h0M237.9 796.5h0M236.1 802.6h0M234.7 813.2h0M233.5 824.6h0M307.0 734.6h0M299.9 773.6h0M305.0 811.1h0M281.5 803.5h0M282.7 807.2h0M280.0 815.5h0M311.0 716.7h0M354.6 716.7h0M332.1 728.5h0M413.0 724.1h0M434.0 726.3h0M405.9 740.8h0M437.7 743.0h0M434.0 749.2h0M376.2 746.4h0M326.5 751.8h0M376.2 761.3h0M414.0 764.5h0M370.4 770.1h0M393.8 785.1h0M324.2 804.6h0M411.7 806.3h0M370.4 810.2h0M431.9 811.1h0M343.2 819.9h0M369.0 823.4h0M405.9 819.9h0M414.0 822.1h0M431.9 820.4h0M434.0 830.0h0M167.7 837.8h0M218.4 837.1h0M232.5 844.2h0M160.6 856.2h0M168.8 863.3h0M212.7 854.8h0M209.9 862.6h0M219.8 859.5h0M233.5 856.9h0M238.5 856.6h0M236.1 866.5h0M196.0 876.0h0M208.7 877.0h0M212.7 880.3h0M227.9 875.0h0M233.9 874.2h0M235.6 878.2h0M237.8 881.7h0M231.4 883.4h0M196.0 888.8h0M218.4 893.7h0M234.6 891.0h0M235.3 892.9h0M232.1 893.0h0M234.4 894.5h0M232.0 895.4h0M233.0 896.2h0M235.1 897.5h0M233.3 898.6h0M233.6 900.2h0M231.7 900.2h0M232.5 901.6h0M233.7 902.9h0M231.7 903.4h0M307.5 832.1h0M322.8 837.8h0M311.0 851.0h0M307.5 854.8h0M311.0 855.5h0M300.1 858.0h0M351.1 855.2h0M351.1 868.0h0M311.0 872.2h0M324.5 871.1h0M326.6 871.8h0M332.0 874.2h0M339.1 870.1h0M342.9 877.7h0M307.5 882.7h0M337.0 888.8h0M350.0 890.9h0M281.7 835.9h0M280.3 840.6h0M282.0 876.0h0M283.4 878.9h0M298.3 891.9h0M366.8 841.8h0M380.9 838.8h0M434.2 830.7h0M431.9 838.9h0M431.9 846.3h0M434.2 855.5h0M431.9 866.4h0M416.5 845.6h0M416.5 849.1h0M411.8 860.0h0M416.5 867.1h0M408.3 870.7h0M411.8 873.9h0M416.1 874.6h0M366.8 870.1h0M367.9 871.4h0M376.1 872.9h0M370.5 876.7h0M385.6 877.5h0M376.1 881.7h0M381.8 885.2h0M384.2 886.7h0M366.8 887.8h0M370.5 891.9h0M414.0 884.5h0M414.0 891.9h0M428.3 878.0h0M427.7 880.0h0M428.2 881.2h0M428.5 884.1h0M427.6 885.6h0M427.9 887.3h0M427.9 889.3h0M428.3 890.4h0M428.0 891.8h0M434.5 892.3h0M405.9 892.3h0M161.8 915.5h0M168.8 917.0h0M148.7 919.8h0M163.9 923.5h0M168.8 926.3h0M168.8 930.5h0M178.2 923.8h0M152.2 930.2h0M152.2 934.1h0M185.4 934.1h0M160.4 937.6h0M153.4 940.7h0M167.8 938.8h0M173.3 939.1h0M181.8 947.9h0M150.3 948.9h0M151.4 950.5h0M148.7 954.8h0M152.2 954.4h0M151.0 958.7h0M141.7 958.7h0M144.0 967.3h0M158.1 954.4h0M160.4 955.2h0M158.1 959.7h0M154.6 968.0h0M158.1 967.7h0M171.8 952.8h0M182.7 956.7h0M186.6 957.5h0M192.7 897.0h0M216.1 899.7h0M193.1 903.6h0M196.2 905.9h0M193.9 910.2h0M193.9 914.9h0M194.2 920.0h0M195.8 920.0h0M201.7 909.8h0M205.6 909.8h0M205.6 922.7h0M212.6 911.8h0M213.4 917.3h0M218.5 916.5h0M218.5 921.6h0M217.3 924.3h0M210.3 930.9h0M220.0 932.9h0M212.2 936.4h0M210.7 941.9h0M202.1 939.1h0M225.5 937.2h0M191.9 944.6h0M189.6 946.6h0M225.5 955.5h0M288.6 909.1h0M279.2 898.1h0M283.9 901.6h0M298.8 898.9h0M304.2 916.1h0M306.0 920.0h0M308.0 926.2h0M308.8 902.8h0M308.8 905.2h0M311.1 911.8h0M314.6 908.7h0M319.3 908.3h0M324.0 906.7h0M324.0 911.0h0M317.8 918.0h0M308.8 923.5h0M343.2 903.2h0M350.2 902.8h0M350.2 915.7h0M331.0 909.0h0M333.0 911.5h0M335.5 914.5h0M337.7 918.4h0M332.2 920.0h0M344.3 920.8h0M344.3 925.1h0M347.8 927.0h0M350.6 926.6h0M345.1 931.7h0M350.2 932.5h0M344.7 937.2h0M351.8 936.4h0M354.9 939.5h0M337.3 937.6h0M331.0 924.7h0M334.0 925.5h0M336.9 925.9h0M331.0 930.2h0M331.0 934.1h0M323.6 928.6h0M323.6 932.5h0M308.8 946.2h0M322.8 952.8h0M326.4 958.7h0M366.6 906.7h0M366.6 913.8h0M366.6 925.5h0M367.4 938.0h0M384.8 896.6h0M386.0 898.9h0M400.0 902.8h0M408.2 898.5h0M414.1 898.5h0M411.8 903.6h0M414.5 903.2h0M368.8 906.3h0M376.2 905.5h0M376.2 909.5h0M386.0 908.7h0M390.7 912.2h0M396.1 914.9h0M380.9 918.4h0M386.0 921.6h0M368.8 925.9h0M375.8 929.4h0M380.9 930.9h0M380.9 934.8h0M368.8 938.0h0M375.8 939.9h0M400.0 925.5h0M400.8 930.9h0M413.1 911.4h0M412.4 912.9h0M412.8 915.0h0M413.4 916.3h0M413.4 917.0h0M413.4 919.1h0M411.8 920.3h0M411.5 921.4h0M411.6 922.7h0M412.6 924.5h0M413.4 925.3h0M412.1 926.9h0M412.7 928.3h0M413.6 929.4h0M412.6 931.1h0M408.2 923.9h0M416.8 918.8h0M424.3 912.0h0M424.2 913.2h0M424.1 914.7h0M424.6 916.2h0M424.7 917.7h0M423.9 920.1h0M424.0 921.1h0M425.8 928.6h0M424.2 934.8h0M427.4 938.0h0M408.6 941.8h0M408.2 944.2h0M407.8 950.1h0M412.5 950.1h0M434.2 901.6h0M431.9 905.5h0M435.4 913.4h0M435.4 922.0h0M432.7 923.5h0M429.6 926.2h0M428.8 928.6h0M435.4 926.6h0M429.2 938.8h0M429.6 944.2h0M436.2 937.6h0M434.2 939.1h0M441.3 937.6h0M436.6 943.8h0M441.3 943.0h0M428.8 954.4h0M429.6 958.3h0M428.8 965.3h0M435.8 955.5h0M437.0 959.8h0M435.8 963.0h0M443.6 963.8h0M442.8 968.0h0M439.7 968.4h0M436.6 970.4h0M240.0 873.5h0M233.7 885.9h0M233.4 883.4h0M280.4 894.1h0M287.4 891.3h0M287.6 887.1h0M283.3 890.0h0M282.2 889.1h0M170.1 942.9h0M168.4 944.3h0M166.9 948.2h0M176.0 945.9h0M163.5 947.8h0M161.2 946.8h0M167.7 944.5h0M161.6 944.1h0M162.0 948.0h0M165.7 948.9h0M172.4 947.9h0M176.3 949.6h0M170.8 945.8h0M168.2 946.6h0M167.8 943.9h0M167.5 948.6h0M166.8 955.2h0M187.6 965.8h0M178.4 959.6h0M171.2 960.0h0M162.8 965.0h0M168.7 967.9h0M187.1 963.2h0M170.0 965.1h0M166.7 966.5h0M181.7 967.9h0M163.9 962.0h0M185.0 961.8h0M174.9 960.2h0M184.9 966.1h0M176.2 958.0h0M177.8 959.1h0M166.3 956.1h0M185.2 962.8h0M174.0 967.9h0M184.8 965.1h0M163.4 965.5h0M187.5 959.7h0M165.6 968.5h0M171.2 962.6h0M164.7 966.6h0M172.5 960.8h0M170.5 968.7h0M183.5 959.3h0M171.3 965.8h0M184.0 956.6h0M162.4 963.4h0M184.1 969.9h0M170.7 960.9h0M175.4 968.6h0M177.3 958.1h0M167.8 958.0h0M178.5 965.5h0M181.1 963.3h0M168.6 969.4h0M169.2 959.2h0M182.1 955.6h0M175.1 962.4h0M187.0 955.8h0M177.1 969.6h0M171.3 965.5h0M187.5 966.0h0M167.1 958.2h0M177.1 954.6h0M185.2 961.1h0M184.1 955.8h0M183.0 961.9h0M167.2 965.1h0M206.0 949.4h0M204.4 948.1h0M208.4 949.0h0M203.7 949.4h0M219.2 941.6h0M218.8 938.8h0M221.8 953.4h0M219.0 956.2h0M215.2 952.9h0M216.6 948.4h0M221.5 942.6h0M216.3 945.5h0M219.5 947.8h0M219.6 946.0h0M222.3 940.7h0M218.1 940.0h0M218.0 950.5h0M216.2 943.7h0M214.4 952.8h0M219.2 945.3h0M224.3 950.3h0M226.5 949.5h0M228.1 949.1h0M190.5 964.6h0M195.4 961.1h0M193.9 962.7h0M191.1 964.8h0M188.8 964.0h0M191.5 959.8h0M193.1 955.7h0M188.6 959.7h0M193.2 963.4h0M196.1 954.3h0M190.0 956.9h0M196.6 957.5h0M193.1 961.2h0M191.6 962.5h0M195.9 957.7h0M190.4 966.3h0M190.8 960.7h0M191.0 959.6h0M196.0 965.3h0M191.3 955.5h0M196.9 955.2h0M215.1 967.2h0M207.9 963.7h0M221.3 966.5h0M208.0 969.5h0M207.7 955.6h0M212.0 965.9h0M204.8 954.6h0M220.3 967.0h0M217.0 966.9h0M206.3 966.2h0M205.0 956.0h0M203.8 964.6h0M220.3 968.4h0M209.9 956.1h0M210.3 959.1h0M204.4 968.1h0M201.9 958.7h0M202.7 954.9h0M201.3 969.0h0M210.6 958.8h0M218.6 967.7h0M202.1 956.4h0M217.8 965.7h0M220.3 966.8h0M215.6 957.7h0M203.4 958.8h0M201.9 959.2h0M205.1 968.9h0M204.5 967.9h0M219.7 966.7h0M218.0 962.8h0M216.4 956.9h0M201.9 961.0h0M220.5 962.1h0M209.9 964.9h0M217.4 959.2h0M208.4 958.8h0M219.2 962.0h0M201.0 965.1h0M208.9 957.9h0M219.9 958.3h0M222.0 964.9h0M219.8 966.6h0M201.3 969.6h0M210.9 955.8h0M225.4 962.3h0M226.3 967.7h0M229.7 964.0h0M226.0 962.2h0M228.5 962.6h0M228.5 966.7h0M227.4 963.6h0M225.6 964.6h0M238.1 954.9h0M231.2 951.5h0M240.6 967.2h0M240.0 941.4h0M232.2 965.4h0M239.0 946.2h0M235.4 959.5h0M234.6 960.2h0M234.3 957.0h0M240.5 968.3h0M238.5 956.2h0M236.5 942.9h0M237.3 945.5h0M238.5 954.2h0M236.2 952.3h0M230.6 942.0h0M239.9 958.5h0M240.4 952.0h0M230.6 964.0h0M235.1 968.1h0M239.6 948.3h0M238.6 956.3h0M236.2 969.9h0M238.5 956.9h0M240.0 948.6h0M238.8 969.2h0M233.4 939.4h0M240.6 949.1h0M238.5 963.6h0M237.3 950.7h0M237.3 942.3h0M235.6 956.7h0M234.5 942.8h0M232.4 965.6h0M237.9 961.0h0M234.2 952.7h0M239.3 946.7h0M234.8 961.6h0M233.0 952.0h0M231.5 941.0h0M234.5 957.0h0M230.6 967.8h0M231.8 968.2h0M230.8 945.2h0M237.6 949.2h0M240.1 954.6h0M235.1 945.8h0M237.2 948.8h0M237.6 946.9h0M231.0 969.0h0M234.5 950.4h0M238.0 967.7h0M238.8 962.0h0M238.9 960.6h0M237.9 956.3h0M237.2 966.6h0M233.3 944.1h0M240.7 951.8h0M233.8 954.0h0M230.9 952.4h0M231.7 939.0h0M237.6 958.8h0M237.7 965.8h0M236.4 956.1h0M239.2 962.0h0M231.4 956.3h0M238.4 947.0h0M237.1 957.7h0M235.3 945.7h0M236.5 962.7h0M230.5 943.0h0M234.1 952.6h0M235.8 965.6h0M240.6 943.4h0M233.4 940.7h0M232.9 958.5h0M233.5 964.7h0M238.4 948.3h0M235.2 969.7h0M238.1 965.4h0M239.5 964.6h0M234.9 940.6h0M234.9 963.3h0M240.1 955.9h0M240.2 953.6h0M233.5 959.8h0M234.2 947.5h0M232.8 940.1h0M232.6 948.0h0M233.4 964.8h0M239.2 960.6h0M231.5 929.5h0M235.3 921.1h0M236.9 922.6h0M240.6 924.0h0M239.7 933.3h0M231.1 929.4h0M230.3 925.0h0M240.4 922.2h0M236.7 937.8h0M235.7 923.5h0M235.4 926.0h0M239.9 930.9h0M240.4 930.8h0M238.3 924.7h0M238.9 932.9h0M235.7 922.7h0M237.2 931.6h0M231.3 923.2h0M231.2 927.5h0M234.8 936.0h0M233.7 924.3h0M233.8 929.2h0M240.7 935.1h0M233.3 932.8h0M233.4 921.6h0M232.0 937.2h0M240.5 924.7h0M232.6 926.2h0M235.4 927.5h0M234.4 924.8h0M231.3 929.5h0M240.7 929.8h0M231.7 921.3h0M239.3 928.0h0M239.7 924.0h0M233.5 906.0h0M236.0 911.1h0M234.3 912.1h0M238.0 911.3h0M238.1 917.6h0M233.1 906.3h0M236.4 895.1h0M236.9 912.4h0M231.9 897.0h0M232.1 897.4h0M236.3 896.1h0M240.2 911.6h0M235.3 900.3h0M233.5 907.2h0M240.0 902.2h0M237.6 895.1h0M240.7 918.2h0M239.9 901.8h0M233.6 908.7h0M234.3 919.1h0M288.0 936.1h0M282.1 955.3h0M284.6 941.1h0M281.9 922.4h0M286.7 935.2h0M288.7 955.3h0M279.1 952.1h0M282.1 934.2h0M280.6 935.2h0M281.0 930.9h0M281.2 953.4h0M279.9 965.5h0M290.0 936.9h0M287.9 945.1h0M283.1 942.7h0M289.7 939.1h0M280.8 963.8h0M285.3 930.1h0M282.4 937.5h0M285.4 929.1h0M285.0 930.8h0M280.5 968.7h0M280.6 923.4h0M285.1 960.5h0M285.0 923.6h0M286.6 931.8h0M290.0 953.1h0M289.8 945.4h0M287.9 953.4h0M280.6 953.3h0M287.9 929.8h0M281.5 926.0h0M289.4 952.5h0M282.1 961.1h0M283.5 950.5h0M287.3 952.9h0M286.6 940.3h0M288.0 960.9h0M282.9 937.4h0M281.0 938.9h0M285.3 961.8h0M283.5 940.8h0M289.4 927.3h0M286.9 927.9h0M286.1 956.0h0M284.2 939.4h0M287.4 943.9h0M280.6 956.8h0M287.0 942.0h0M279.8 925.9h0M284.2 943.1h0M282.1 964.1h0M279.8 923.9h0M284.8 937.4h0M285.9 967.6h0M282.0 951.0h0M280.1 961.9h0M284.2 952.7h0M284.7 927.9h0M285.7 964.4h0M279.5 957.8h0M288.4 969.9h0M285.1 967.5h0M281.7 951.7h0M288.5 958.3h0M289.3 950.7h0M290.0 922.7h0M281.7 938.3h0M282.7 922.4h0M280.3 936.2h0M282.7 933.1h0M288.4 929.6h0M279.9 928.6h0M284.1 966.6h0M286.4 952.1h0M281.2 929.9h0M282.4 935.5h0M281.3 944.9h0M290.2 957.2h0M288.9 931.1h0M280.1 927.5h0M283.0 931.4h0M285.5 927.4h0M280.7 954.6h0M282.1 950.5h0M279.3 940.6h0M289.5 955.5h0M287.9 948.3h0M282.6 922.1h0M289.7 943.2h0M282.5 943.8h0M281.1 939.3h0M284.9 959.1h0M285.5 969.5h0M285.8 941.0h0M280.6 936.7h0M282.9 947.0h0M279.8 939.3h0M280.3 932.9h0M279.8 947.1h0M287.9 949.9h0M289.1 945.9h0M281.7 940.6h0M282.5 963.2h0M283.0 948.0h0M286.0 956.6h0M287.7 965.2h0M284.3 939.0h0M282.1 933.1h0M285.8 935.4h0M285.9 947.5h0M288.4 941.3h0M279.8 969.6h0M284.4 934.2h0M289.2 933.6h0M280.4 937.7h0M281.9 952.2h0M286.8 948.3h0M285.1 930.4h0M284.4 946.2h0M281.6 921.6h0M281.4 933.2h0M286.1 940.2h0M284.4 955.1h0M288.5 941.7h0M283.0 968.9h0M281.5 944.7h0M286.4 923.5h0M281.6 963.8h0M280.9 955.2h0M287.8 953.1h0M286.6 924.9h0M283.0 934.8h0M281.2 947.1h0M283.3 939.5h0M289.1 967.6h0M282.8 938.7h0M284.2 944.1h0M280.3 942.1h0M288.5 938.9h0M284.6 955.8h0M287.3 945.8h0M286.8 944.3h0M281.7 932.6h0M279.9 939.2h0M288.8 964.9h0M288.8 966.3h0M283.0 961.2h0M288.4 946.2h0M289.8 964.8h0M286.4 951.2h0M282.3 947.3h0M285.3 959.0h0M283.4 919.9h0M280.5 904.9h0M282.5 906.9h0M280.5 907.3h0M286.7 906.3h0M284.0 920.7h0M285.6 920.3h0M284.9 906.4h0M283.9 913.0h0M282.3 915.9h0M284.9 919.9h0M282.6 908.0h0M280.8 918.3h0M284.6 920.3h0M282.8 911.7h0M280.5 911.5h0M283.0 904.8h0M305.8 928.1h0M297.5 942.0h0M304.2 952.0h0M305.7 963.3h0M300.1 958.1h0M307.6 956.1h0M306.1 963.1h0M296.8 959.8h0M299.2 930.2h0M297.8 946.1h0M303.2 969.1h0M307.2 935.3h0M304.6 952.4h0M296.6 966.1h0M299.9 935.2h0M307.8 968.0h0M304.9 937.0h0M298.7 922.3h0M302.6 964.0h0M301.5 968.1h0M296.6 948.2h0M299.2 936.1h0M307.2 954.9h0M305.1 930.1h0M297.0 933.0h0M302.1 933.8h0M303.3 946.1h0M307.8 960.3h0M301.7 938.3h0M298.8 961.0h0M302.9 962.3h0M297.3 957.2h0M297.9 933.8h0M302.2 924.5h0M303.5 950.8h0M298.4 931.2h0M305.8 966.8h0M306.6 952.8h0M304.0 965.1h0M303.7 949.1h0M298.0 929.0h0M297.3 933.6h0M304.0 954.7h0M300.2 943.1h0M297.0 929.0h0M302.8 926.1h0M304.7 943.9h0M297.8 952.0h0M304.2 935.9h0M302.9 955.4h0M297.8 966.3h0M301.1 950.6h0M300.4 931.0h0M299.4 959.2h0M305.3 924.9h0M300.5 936.1h0M299.7 943.5h0M301.6 923.7h0M304.3 928.1h0M306.5 925.1h0M307.2 926.1h0M298.0 960.4h0M299.7 957.2h0M307.6 964.5h0M298.8 930.3h0M301.0 941.2h0M298.9 925.2h0M306.4 957.1h0M299.0 943.1h0M296.4 959.0h0M298.0 946.0h0M307.8 943.5h0M301.5 933.1h0M299.7 947.9h0M304.2 922.6h0M297.1 965.9h0M306.3 954.2h0M307.8 939.3h0M299.5 948.7h0M298.9 961.6h0M300.7 950.2h0M304.8 922.4h0M299.4 958.4h0M305.8 949.1h0M307.0 962.9h0M299.3 928.4h0M298.8 941.7h0M302.9 965.5h0M306.3 927.6h0M306.3 968.3h0M307.3 937.6h0M303.6 934.7h0M298.6 964.3h0M306.5 925.2h0M298.0 930.4h0M302.4 927.5h0M314.0 927.3h0M311.6 927.6h0M311.6 929.6h0M314.9 926.9h0M313.9 925.6h0M312.3 937.8h0M312.6 941.3h0M315.9 946.2h0M313.9 939.2h0M311.4 937.5h0M315.0 947.2h0M313.8 947.6h0M311.4 934.3h0M313.1 945.1h0M313.9 941.7h0M324.8 942.0h0M349.6 943.4h0M317.1 964.1h0M313.7 968.0h0M316.0 951.9h0M314.8 957.7h0M312.3 951.9h0M313.4 957.0h0M313.6 967.6h0M315.0 964.8h0M317.3 950.4h0M319.5 969.3h0M311.3 961.1h0M310.8 956.6h0M315.8 963.7h0M318.7 952.7h0M312.6 959.2h0M316.7 949.7h0M310.9 965.0h0M317.4 955.2h0M312.7 965.1h0M316.8 958.2h0M312.8 953.0h0M318.7 963.1h0M317.7 952.8h0M311.5 966.0h0M312.8 958.5h0M308.5 964.4h0M316.3 955.0h0M313.5 962.6h0M312.9 962.5h0M308.8 956.3h0M314.0 962.7h0M317.4 963.6h0M315.3 951.1h0M312.2 959.9h0M315.2 969.3h0M316.4 957.6h0M312.3 951.7h0M308.1 963.3h0M317.2 968.4h0M312.4 949.9h0M318.4 958.8h0M313.0 950.0h0M317.6 958.1h0M314.9 966.6h0M316.6 968.8h0M310.8 968.2h0M309.1 963.7h0M316.8 960.5h0M310.9 959.9h0M312.3 966.1h0M309.9 954.9h0M316.1 957.4h0M317.7 961.3h0M309.9 955.0h0M315.9 950.1h0M312.1 954.6h0M319.1 951.6h0M316.6 952.2h0M310.7 967.8h0M309.9 961.4h0M314.0 961.6h0M315.3 953.2h0M316.0 968.9h0M317.7 949.9h0M315.9 950.8h0M314.1 964.5h0M309.1 966.4h0M318.3 961.3h0M310.7 954.0h0M311.3 953.2h0M319.1 954.7h0M315.4 954.2h0M308.2 955.2h0M314.8 965.0h0M313.7 952.3h0M309.3 961.3h0M311.0 960.4h0M321.4 965.1h0M323.2 961.0h0M321.3 967.5h0M323.3 964.2h0M325.4 963.1h0M325.9 960.8h0M331.2 964.9h0M336.7 955.3h0M329.3 960.3h0M333.6 938.3h0M329.7 937.6h0M333.4 955.9h0M334.6 954.3h0M336.4 947.2h0M336.1 947.4h0M332.1 941.2h0M330.3 954.9h0M336.8 943.4h0M334.4 961.2h0M333.6 958.3h0M337.4 940.7h0M340.5 962.4h0M339.2 941.6h0M334.2 959.9h0M332.1 941.0h0M338.2 967.7h0M330.4 967.4h0M336.7 943.9h0M332.3 964.0h0M337.4 942.2h0M336.3 942.4h0M335.3 950.8h0M333.3 944.2h0M335.5 969.0h0M335.7 948.3h0M330.3 966.0h0M330.1 949.9h0M334.6 939.4h0M333.4 960.1h0M329.9 949.7h0M329.2 950.2h0M333.2 967.4h0M329.2 953.9h0M335.7 954.4h0M340.2 960.7h0M336.7 939.1h0M330.9 960.7h0M339.5 943.2h0M336.3 967.7h0M332.2 937.8h0M334.4 947.3h0M333.3 941.3h0M337.8 940.1h0M338.5 956.2h0M331.2 959.1h0M329.2 968.1h0M338.7 968.5h0M329.3 943.1h0M339.8 943.2h0M334.5 941.3h0M339.8 948.2h0M336.5 938.3h0M335.0 963.1h0M331.8 947.3h0M331.0 953.9h0M330.3 968.7h0M332.4 951.7h0M332.4 951.8h0M332.6 969.5h0M332.3 946.2h0M339.8 964.5h0M331.5 962.2h0M331.1 937.6h0M338.7 963.5h0M334.5 960.4h0M333.4 939.0h0M334.0 959.8h0M338.2 950.5h0M340.5 953.8h0M331.4 939.5h0M329.3 957.7h0M330.7 953.9h0M333.3 954.4h0M339.3 963.0h0M331.8 950.7h0M336.4 955.5h0M333.4 948.3h0M337.4 957.0h0M329.8 937.5h0M336.0 947.3h0M332.9 961.6h0M340.2 952.2h0M338.7 967.5h0M337.2 968.5h0M332.1 968.1h0M335.0 946.9h0M329.5 946.1h0M338.9 945.1h0M330.7 940.0h0M329.9 938.2h0M338.0 943.1h0M332.2 969.8h0M333.9 953.5h0M333.8 952.1h0M337.3 945.3h0M340.5 947.9h0M330.8 948.6h0M335.3 965.3h0M334.5 966.2h0M331.8 968.1h0M333.4 950.2h0M351.5 968.6h0M354.2 960.3h0M342.9 964.9h0M354.6 958.1h0M342.7 963.6h0M345.7 950.4h0M352.3 962.0h0M348.2 961.8h0M344.7 963.9h0M346.8 953.7h0M354.8 955.1h0M352.6 957.9h0M354.2 965.2h0M343.0 964.2h0M355.3 967.6h0M347.3 967.0h0M343.0 968.1h0M356.2 957.0h0M352.1 955.9h0M352.8 951.4h0M345.3 965.7h0M350.2 950.1h0M355.0 968.7h0M346.8 953.5h0M354.0 953.1h0M350.2 966.8h0M343.2 967.1h0M346.2 966.2h0M345.0 958.8h0M350.3 963.2h0M349.4 962.2h0M345.4 954.3h0M355.1 950.7h0M356.3 965.2h0M351.9 957.8h0M349.6 956.3h0M355.3 950.7h0M356.0 967.3h0M349.8 966.0h0M343.1 960.6h0M351.6 964.6h0M352.5 963.0h0M345.6 953.8h0M350.6 950.5h0M342.0 952.6h0M365.8 952.8h0M366.9 958.1h0M366.9 959.6h0M369.9 954.0h0M367.7 968.8h0M367.1 954.1h0M367.9 968.6h0M365.8 957.0h0M367.0 957.9h0M366.4 962.8h0M369.7 969.3h0M365.9 961.5h0M410.2 965.9h0M407.9 961.0h0M412.7 960.9h0M409.8 965.2h0M420.2 957.5h0M418.6 958.7h0M419.8 957.9h0M418.0 965.6h0M419.3 968.0h0M421.4 966.0h0M426.9 964.8h0M426.1 961.1h0M426.5 956.8h0M426.4 966.8h0M416.9 942.2h0M416.4 940.8h0M422.4 937.4h0M420.8 942.2h0M424.7 940.2h0M416.5 936.6h0M415.9 943.2h0M392.7 936.0h0M384.6 929.1h0M383.0 938.5h0M390.4 935.4h0M384.1 935.3h0M386.8 922.0h0M388.6 925.1h0M384.6 931.2h0M392.5 923.5h0M385.3 932.1h0M383.5 925.1h0M380.3 937.8h0M391.1 922.9h0M384.8 929.2h0M384.0 930.2h0M396.9 930.9h0M379.1 929.3h0M383.6 923.3h0M387.4 935.0h0M392.6 930.8h0M396.5 933.8h0M395.4 929.3h0M380.8 932.4h0M394.6 933.7h0M385.7 924.1h0M395.8 932.8h0M380.5 933.8h0M395.7 925.3h0M388.1 925.7h0M392.1 933.7h0M384.6 926.3h0M388.5 938.3h0M390.4 961.3h0M368.9 955.4h0M377.7 942.2h0M371.5 952.1h0M382.1 945.2h0M384.5 963.0h0M385.1 951.5h0M375.3 942.9h0M397.0 963.8h0M380.0 946.0h0M400.8 946.8h0M403.4 957.6h0M373.6 958.6h0M398.3 953.0h0M392.9 963.1h0M374.6 947.1h0M373.9 968.5h0M401.6 947.6h0M396.8 964.1h0M369.7 966.0h0M369.6 945.2h0M394.8 947.7h0M395.4 949.6h0M396.2 963.4h0M391.2 959.1h0M381.6 961.4h0M377.7 961.1h0M394.4 960.7h0M378.2 964.3h0M382.0 953.0h0M400.4 946.1h0M371.2 948.0h0M384.5 968.3h0M399.2 966.4h0M395.1 956.4h0M395.6 947.3h0M391.3 954.9h0M383.5 959.3h0M382.6 943.1h0M401.0 953.7h0M391.3 944.1h0M373.6 953.6h0M379.6 955.1h0M397.2 960.1h0M368.1 945.0h0M394.8 964.9h0M376.4 960.8h0M392.7 958.5h0M400.7 954.5h0M374.2 953.2h0M391.4 963.6h0M381.7 950.4h0M386.1 942.9h0M389.4 968.6h0M378.5 963.6h0M397.6 953.0h0M402.8 969.9h0M369.0 945.7h0M372.8 965.3h0M382.8 956.1h0M394.7 953.5h0M383.9 943.1h0M388.4 956.5h0M382.3 943.6h0M395.3 958.3h0M387.3 942.6h0M378.0 964.0h0M403.9 941.9h0M397.3 943.1h0M403.6 957.8h0M382.0 947.5h0M377.0 964.6h0M388.3 957.8h0M373.8 966.3h0M380.5 952.8h0M390.4 948.6h0M377.8 951.6h0M368.6 954.5h0M385.2 966.0h0M375.3 965.6h0M393.1 949.0h0M392.6 963.2h0M370.7 951.3h0M372.5 956.6h0M368.0 950.7h0M394.2 963.9h0M396.8 943.0h0M385.4 967.5h0M381.0 957.0h0M370.9 945.3h0M390.8 964.6h0M388.6 944.1h0M392.8 942.7h0M396.0 942.6h0M379.5 959.3h0M401.7 954.0h0M385.1 965.6h0M392.1 968.0h0M400.0 959.1h0M398.5 951.7h0M368.1 956.3h0M403.2 949.9h0M386.8 965.4h0M398.2 966.1h0M396.9 958.5h0M369.2 945.1h0M389.0 950.4h0M387.0 957.4h0M391.2 967.9h0M399.1 943.6h0M382.9 956.7h0M401.3 952.3h0M373.0 952.3h0M377.1 957.5h0M386.2 965.0h0M378.7 962.4h0M398.1 949.1h0M387.1 952.8h0M392.2 956.4h0M403.0 968.3h0M380.6 951.4h0M382.0 962.9h0M392.2 957.5h0M375.0 948.3h0M387.1 961.1h0M402.9 949.0h0M374.5 966.4h0M399.3 955.5h0M398.0 967.6h0M397.3 957.2h0M384.7 966.7h0M391.3 963.9h0M379.1 953.2h0M384.8 969.7h0M378.4 957.6h0M400.0 968.0h0M392.4 960.8h0M383.8 956.6h0M394.4 963.5h0M399.3 942.1h0M377.0 951.1h0M384.8 957.9h0M390.2 945.1h0M374.2 960.0h0M392.0 944.9h0M378.2 969.5h0M399.4 967.1h0M378.7 953.8h0M387.6 967.6h0M377.4 948.1h0M396.2 951.6h0M373.4 950.4h0M368.5 967.3h0M383.8 966.1h0M397.6 950.1h0M386.4 945.0h0M388.1 953.5h0M399.1 966.3h0M399.0 954.0h0M390.4 945.5h0M398.0 943.4h0M380.5 968.6h0M397.8 967.0h0M374.6 942.3h0M373.8 960.3h0M394.6 959.5h0M378.1 960.6h0M386.8 967.7h0M399.3 958.0h0M396.4 959.0h0M381.0 957.7h0M368.6 958.2h0M386.8 957.9h0M386.4 955.4h0M392.1 949.4h0M391.2 948.5h0M246.9 578.1h0M251.7 782.7h0M241.2 918.7h0M241.2 940.7h0M241.2 943.4h0M241.2 944.9h0M241.1 947.2h0M241.2 949.3h0M241.2 950.7h0M241.1 953.2h0M241.2 962.0h0M241.2 964.3h0M241.1 966.3h0M241.1 967.6h0M242.2 925.5h0M242.2 934.8h0M242.3 937.2h0M242.2 939.5h0M242.3 950.2h0M242.3 952.6h0M242.3 954.1h0M242.4 955.5h0M242.4 956.5h0M242.2 957.9h0M242.3 959.3h0M242.4 960.6h0M242.2 962.0h0M242.2 963.4h0M242.3 964.6h0M242.1 966.4h0M242.1 968.2h0M244.8 904.0h0M244.7 924.6h0M244.7 931.2h0M244.7 933.0h0M244.7 935.3h0M244.7 937.0h0M244.7 939.0h0M244.6 945.2h0M244.6 946.6h0M244.6 948.4h0M244.6 949.7h0M244.7 950.9h0M244.8 951.6h0M244.6 953.0h0M244.7 954.8h0M244.6 956.2h0M244.8 957.0h0M244.8 958.2h0M244.7 959.9h0M244.6 961.1h0M244.6 962.1h0M244.8 964.5h0M244.7 965.3h0M244.8 966.5h0M244.7 967.5h0M245.8 856.7h0M245.7 906.5h0M245.7 909.4h0M245.7 911.2h0M245.7 927.9h0M245.7 929.7h0M245.8 931.6h0M245.8 937.4h0M245.8 938.1h0M245.8 940.0h0M245.7 942.7h0M245.8 943.8h0M245.8 947.4h0M245.7 948.1h0M245.6 950.3h0M245.8 950.9h0M246.0 952.4h0M245.7 953.4h0M245.7 954.4h0M245.8 955.6h0M245.9 957.0h0M245.7 957.0h0M245.8 959.1h0M245.6 959.5h0M245.6 961.1h0M245.8 968.1h0M247.2 938.7h0M247.2 941.4h0M247.1 942.8h0M247.1 948.9h0M247.0 949.8h0M247.3 951.3h0M247.2 953.6h0M247.2 954.6h0M247.0 955.7h0M247.2 957.5h0M247.3 958.7h0M247.1 960.4h0M247.2 961.5h0M247.1 962.1h0M247.2 963.4h0M247.1 964.7h0M247.0 966.3h0M247.2 967.7h0M248.2 911.6h0M248.2 914.4h0M248.2 915.8h0M248.2 918.5h0M248.3 932.4h0M248.2 934.0h0M248.2 935.5h0M248.2 938.2h0M248.2 939.9h0M248.2 941.3h0M248.1 947.1h0M248.1 947.5h0M248.3 949.4h0M248.1 950.3h0M248.1 951.8h0M248.2 953.1h0M248.3 954.2h0M248.2 956.2h0M248.1 957.2h0M248.2 958.8h0M248.4 960.5h0M248.3 961.7h0M248.2 962.7h0M248.2 964.0h0M248.1 965.8h0M248.4 966.8h0M248.2 967.7h0M250.6 874.6h0M250.5 892.5h0M250.6 905.7h0M250.6 928.9h0M250.6 930.5h0M250.7 931.9h0M250.5 933.0h0M250.7 933.9h0M250.6 935.4h0M250.6 937.0h0M250.7 937.9h0M250.5 939.7h0M250.6 940.9h0M250.6 943.2h0M250.6 957.2h0M250.6 958.5h0M250.6 961.1h0M250.6 963.1h0M250.6 964.0h0M250.6 966.2h0M250.6 967.6h0M251.7 868.1h0M251.8 870.4h0M251.8 872.7h0M251.8 884.8h0M251.8 887.4h0M251.8 889.0h0M251.8 902.1h0M252.0 908.1h0M251.7 915.9h0M251.7 916.8h0M251.7 919.6h0M251.8 920.9h0M251.8 928.7h0M251.8 930.4h0M251.8 932.2h0M251.8 934.4h0M251.8 936.5h0M251.9 941.7h0M251.8 947.1h0M251.9 948.9h0M251.8 950.9h0M251.9 951.7h0M251.9 953.4h0M251.8 954.8h0M251.7 956.5h0M251.8 957.2h0M251.7 958.8h0M251.7 960.1h0M251.7 961.3h0M251.8 963.4h0M251.8 965.0h0M253.1 885.3h0M253.0 903.6h0M253.0 905.5h0M253.0 906.6h0M253.1 913.0h0M253.1 932.7h0M253.1 938.6h0M252.8 945.9h0M253.1 958.0h0M253.0 960.7h0M259.1 535.9h0M259.1 555.1h0M259.1 559.5h0M258.8 565.1h0M259.1 567.7h0M258.8 591.6h0M259.0 591.0h0M258.8 598.3h0M258.8 615.1h0M258.8 619.9h0M258.9 625.8h0M258.8 627.6h0M258.8 635.4h0M258.9 639.0h0M258.8 645.0h0M260.0 568.8h0M260.0 578.2h0M260.1 591.8h0M260.1 595.8h0M260.1 607.0h0M260.1 617.8h0M260.1 623.0h0M261.5 591.0h0M261.5 597.4h0M261.5 612.0h0M261.5 618.6h0M261.3 631.2h0M261.4 633.0h0M261.4 640.3h0M261.4 642.0h0M261.4 643.3h0M261.5 645.1h0M261.4 647.6h0M261.4 649.7h0M270.6 571.1h0M271.9 608.8h0M259.1 660.5h0M259.0 673.0h0M259.0 679.6h0M259.0 684.6h0M259.0 690.7h0M258.9 693.8h0M259.0 726.6h0M257.9 733.6h0M257.7 734.7h0M257.7 741.8h0M257.9 743.0h0M257.9 743.9h0M258.0 745.5h0M258.0 746.4h0M257.7 748.2h0M257.7 749.1h0M257.8 750.6h0M258.0 751.9h0M258.0 752.3h0M257.8 753.8h0M258.0 755.3h0M257.8 756.6h0M257.7 756.9h0M257.7 758.5h0M258.0 759.4h0M257.8 760.7h0M257.9 762.9h0M257.7 770.7h0M261.4 653.2h0M261.4 659.8h0M261.3 662.2h0M261.5 675.4h0M261.5 680.2h0M261.3 692.2h0M262.3 679.4h0M262.3 699.7h0M262.3 711.4h0M262.4 735.9h0M262.6 749.7h0M262.4 752.7h0M262.4 757.5h0M262.4 763.5h0M262.5 769.5h0M264.8 737.8h0M264.7 742.6h0M263.5 773.1h0M270.8 679.4h0M270.7 704.7h0M270.9 703.8h0M257.7 773.8h0M257.7 775.2h0M257.9 776.2h0M257.7 778.0h0M257.8 779.1h0M257.7 780.4h0M257.8 782.0h0M257.8 786.7h0M257.8 788.7h0M257.8 791.1h0M257.8 805.4h0M256.5 797.5h0M256.8 826.4h0M256.6 827.3h0M256.5 827.9h0M256.7 829.0h0M256.6 830.0h0M256.5 831.2h0M256.5 832.9h0M256.5 833.1h0M256.7 834.3h0M256.8 835.8h0M256.5 837.1h0M256.5 838.2h0M256.4 839.2h0M256.6 840.3h0M256.5 840.8h0M256.4 841.7h0M256.5 843.1h0M256.4 844.4h0M256.6 845.0h0M256.6 846.3h0M256.7 847.0h0M256.5 848.4h0M256.5 849.0h0M256.4 850.5h0M256.6 851.6h0M256.8 852.1h0M256.8 853.8h0M256.6 853.8h0M256.4 855.9h0M256.6 856.1h0M256.6 857.2h0M256.7 858.5h0M256.7 859.2h0M256.8 860.5h0M256.4 862.0h0M256.5 862.5h0M256.8 863.6h0M256.4 864.8h0M256.6 876.3h0M254.0 858.0h0M254.0 865.0h0M254.2 866.0h0M254.1 868.0h0M254.0 869.1h0M254.1 869.7h0M254.1 871.8h0M254.1 873.4h0M254.0 879.0h0M254.2 886.0h0M254.2 887.9h0M254.0 888.6h0M254.0 890.9h0M254.1 892.3h0M254.0 893.4h0M254.2 894.7h0M255.4 867.6h0M255.6 867.7h0M255.4 869.0h0M255.4 870.1h0M255.2 870.6h0M255.5 872.5h0M255.5 873.1h0M255.3 874.5h0M255.3 875.1h0M255.4 875.8h0M255.5 877.6h0M255.5 878.0h0M255.4 879.2h0M255.5 879.8h0M255.3 881.9h0M255.4 882.3h0M255.4 883.3h0M255.5 884.8h0M255.5 885.3h0M255.4 886.8h0M255.6 887.3h0M255.5 888.0h0M255.3 890.0h0M255.6 890.7h0M255.5 891.4h0M255.4 892.6h0M255.4 894.0h0M255.5 894.5h0M255.3 895.8h0M262.6 777.3h0M262.4 777.7h0M262.4 779.1h0M262.3 780.4h0M262.6 781.9h0M262.4 782.3h0M262.6 782.9h0M262.5 784.6h0M262.3 785.3h0M262.4 786.9h0M262.4 787.3h0M262.4 788.8h0M262.7 789.2h0M262.4 790.4h0M262.5 792.1h0M262.7 793.4h0M262.4 794.0h0M262.6 798.5h0M262.5 799.8h0M262.5 800.9h0M262.6 803.3h0M262.4 803.8h0M262.5 805.6h0M262.4 807.1h0M262.6 807.7h0M262.6 809.5h0M262.6 811.3h0M262.7 812.3h0M262.4 813.3h0M262.6 814.5h0M262.5 815.7h0M262.4 817.3h0M262.6 819.2h0M262.4 819.9h0M262.4 821.7h0M263.5 774.5h0M263.5 787.4h0M263.6 794.5h0M263.6 799.3h0M263.9 813.1h0M263.7 824.0h0M263.7 826.3h0M263.6 827.9h0M263.7 829.7h0M263.8 837.9h0M263.7 839.3h0M263.9 840.9h0M263.9 841.3h0M263.6 842.2h0M263.7 843.6h0M263.6 844.6h0M263.7 845.5h0M263.5 846.0h0M263.8 847.1h0M263.6 848.8h0M263.9 849.8h0M263.6 850.3h0M263.7 851.6h0M263.8 852.7h0M263.5 854.0h0M263.7 854.7h0M263.8 856.3h0M263.6 857.6h0M263.9 858.2h0M263.6 859.0h0M263.7 859.8h0M263.7 860.7h0M263.9 862.8h0M263.8 865.9h0M263.6 867.5h0M263.7 869.0h0M263.6 870.5h0M263.7 872.1h0M263.6 876.6h0M263.6 882.1h0M263.8 886.8h0M264.7 788.2h0M264.7 823.2h0M264.8 824.5h0M264.8 825.9h0M264.8 828.6h0M264.7 830.1h0M264.7 832.2h0M264.7 833.3h0M265.1 832.4h0M265.0 845.4h0M264.8 846.9h0M265.0 848.4h0M264.8 849.3h0M264.9 850.7h0M264.9 851.9h0M264.8 853.3h0M264.8 858.0h0M264.9 858.6h0M264.8 860.7h0M265.0 862.2h0M265.0 863.6h0M264.8 864.7h0M264.9 879.5h0M265.0 880.0h0M264.8 881.5h0M264.9 883.5h0M264.8 884.3h0M264.9 886.1h0M264.9 887.6h0M265.0 888.5h0M264.9 890.6h0M265.0 892.2h0M264.8 893.5h0M265.9 841.0h0M265.8 856.6h0M266.0 857.8h0M266.0 859.2h0M266.0 860.1h0M266.0 862.4h0M265.8 863.1h0M265.9 864.8h0M265.9 873.3h0M265.9 874.7h0M266.1 875.8h0M265.8 877.0h0M265.8 879.1h0M266.0 879.6h0M266.0 880.6h0M266.0 882.6h0M265.9 883.7h0M266.1 885.8h0M265.9 886.8h0M265.8 887.5h0M266.0 889.1h0M265.9 890.4h0M266.0 892.1h0M266.1 894.0h0M267.1 805.6h0M270.9 806.3h0M268.3 816.3h0M271.9 829.9h0M270.9 833.3h0M274.6 834.1h0M268.5 844.0h0M270.8 857.2h0M268.3 870.0h0M270.9 871.8h0M270.9 876.6h0M273.3 875.1h0M276.6 867.6h0M267.1 879.6h0M267.1 883.8h0M268.5 878.1h0M268.3 881.7h0M274.6 885.2h0M276.6 888.4h0M277.9 890.5h0M271.8 893.2h0M254.2 896.2h0M254.0 897.1h0M254.0 898.6h0M254.0 900.2h0M254.0 901.1h0M254.1 902.3h0M254.3 903.5h0M254.1 903.9h0M254.1 905.2h0M254.3 906.7h0M254.2 907.9h0M254.1 909.0h0M254.2 910.4h0M254.1 914.2h0M254.3 914.9h0M254.2 916.5h0M254.1 918.0h0M254.3 919.4h0M254.3 920.4h0M254.2 920.9h0M254.2 922.2h0M254.2 924.1h0M254.2 924.3h0M254.3 926.7h0M254.0 927.5h0M254.0 930.8h0M255.2 895.8h0M255.4 897.2h0M255.3 898.9h0M255.2 899.5h0M255.4 900.3h0M255.4 902.0h0M255.3 903.5h0M255.3 904.9h0M255.5 905.7h0M255.4 906.6h0M255.4 907.8h0M255.5 909.4h0M255.4 910.4h0M255.4 911.1h0M255.3 912.9h0M255.2 914.4h0M255.4 915.3h0M255.4 916.0h0M255.5 917.2h0M255.4 918.5h0M255.3 920.6h0M255.3 920.7h0M255.4 922.6h0M255.4 927.9h0M255.3 937.1h0M264.9 908.1h0M264.8 924.9h0M265.0 928.5h0M265.9 896.8h0M266.0 897.0h0M266.1 898.6h0M265.8 899.5h0M266.0 901.3h0M266.1 901.7h0M266.0 902.9h0M266.2 904.5h0M265.9 905.7h0M266.0 907.5h0M265.9 907.8h0M265.8 909.5h0M266.1 910.4h0M266.1 912.1h0M265.8 912.6h0M266.0 914.4h0M265.9 915.5h0M265.9 916.1h0M265.9 918.0h0M266.1 918.6h0M266.1 920.0h0M266.0 921.4h0M266.0 922.4h0M266.0 923.6h0M266.0 925.4h0M266.0 926.2h0M265.9 926.7h0M266.2 928.4h0M266.1 930.0h0M266.1 931.0h0M266.1 932.1h0M266.1 933.9h0M266.1 947.6h0M266.1 958.5h0M267.4 903.3h0M267.3 905.1h0M267.1 906.0h0M267.2 907.0h0M267.2 908.5h0M267.3 909.5h0M267.4 911.1h0M267.4 911.2h0M267.1 913.2h0M267.4 914.4h0M267.3 915.1h0M267.2 916.1h0M267.3 917.7h0M267.4 918.5h0M267.2 919.5h0M267.2 927.0h0M267.2 927.9h0M267.2 929.3h0M267.4 930.4h0M267.1 932.4h0M267.3 932.7h0M267.2 934.2h0M267.4 935.7h0M267.2 936.4h0M267.3 938.4h0M267.3 939.1h0M267.2 939.9h0M267.1 941.9h0M267.2 942.9h0M267.2 943.7h0M267.1 944.9h0M267.4 946.2h0M267.4 947.8h0M267.4 949.3h0M267.2 949.7h0M267.1 956.4h0M268.6 921.1h0M268.6 922.9h0M268.4 924.5h0M268.6 925.2h0M268.4 927.3h0M268.5 928.7h0M268.6 929.4h0M268.4 931.5h0M268.6 932.3h0M268.6 933.7h0M268.6 935.4h0M268.6 935.9h0M268.5 937.5h0M268.5 939.7h0M268.6 950.0h0M268.4 951.1h0M268.4 952.5h0M268.4 953.5h0M268.7 954.4h0M268.7 956.4h0M268.4 957.1h0M268.4 958.9h0M268.6 959.5h0M268.5 960.5h0M268.6 962.4h0M268.4 963.0h0M268.5 964.3h0M268.5 965.3h0M268.4 966.7h0M268.6 968.5h0M268.4 969.3h0M269.9 913.0h0M269.6 921.9h0M269.5 923.0h0M269.5 924.9h0M269.7 926.4h0M269.7 928.0h0M269.7 929.6h0M269.5 930.6h0M269.6 931.5h0M269.8 938.6h0M269.6 942.3h0M269.7 943.8h0M269.6 945.8h0M269.5 946.6h0M269.6 948.0h0M269.7 948.7h0M269.7 950.4h0M269.8 950.9h0M269.9 952.0h0M269.5 953.8h0M269.8 955.4h0M269.9 955.7h0M269.9 957.1h0M269.7 958.4h0M269.8 959.5h0M269.8 961.1h0M269.6 962.4h0M269.6 962.7h0M269.7 964.2h0M269.6 965.7h0M269.7 967.4h0M269.7 967.7h0M269.7 969.2h0M269.7 970.0h0M270.8 903.0h0M270.7 912.3h0M270.8 945.3h0M270.8 950.7h0M270.7 964.4h0M271.9 914.1h0M271.9 928.7h0M271.9 933.9h0M273.1 925.5h0M273.1 933.9h0M273.0 939.2h0M273.0 942.2h0M273.1 943.3h0M273.3 943.9h0M273.3 945.2h0M273.2 945.9h0M273.2 947.2h0M273.0 949.2h0M273.3 949.7h0M273.2 951.6h0M273.1 952.6h0M273.3 953.7h0M273.0 954.8h0M273.3 956.6h0M273.1 956.8h0M273.3 958.0h0M273.3 959.9h0M273.3 960.8h0M273.1 961.6h0M273.2 963.7h0M273.1 965.0h0M273.2 965.1h0M273.0 966.4h0M273.1 967.7h0M274.5 907.7h0M274.2 921.5h0M274.4 928.4h0M274.2 930.1h0M274.3 930.3h0M274.3 931.9h0M274.3 933.5h0M274.5 934.9h0M274.5 935.0h0M274.5 936.6h0M274.3 938.1h0M274.2 939.0h0M274.3 939.6h0M274.5 941.8h0M274.4 942.8h0M274.4 944.2h0M274.5 944.9h0M274.3 945.6h0M274.4 947.2h0M274.3 948.5h0M274.3 949.2h0M274.4 950.6h0M274.5 951.7h0M274.4 952.8h0M274.4 953.7h0M274.5 955.8h0M274.6 955.8h0M274.5 957.7h0M274.2 958.4h0M274.4 960.4h0M274.3 960.8h0M274.3 962.1h0M274.4 963.1h0M274.5 965.1h0M274.3 965.8h0M274.5 966.3h0M274.5 968.5h0M274.2 968.9h0M274.4 970.4h0M276.6 913.5h0M276.8 924.9h0M276.8 929.7h0M276.7 931.4h0M276.5 932.5h0M276.6 933.0h0M276.8 934.4h0M276.8 935.3h0M276.6 936.5h0M276.7 937.9h0M276.7 939.7h0M276.6 940.2h0M276.8 941.8h0M276.6 942.8h0M276.7 943.9h0M276.8 945.8h0M276.5 946.0h0M276.5 947.4h0M276.9 948.9h0M276.6 950.4h0M276.7 950.7h0M276.8 952.8h0M276.8 954.1h0M276.7 954.9h0M276.8 955.9h0M276.8 957.4h0M276.6 958.8h0M276.5 959.2h0M276.6 960.3h0M276.6 962.6h0M276.8 962.7h0M276.9 966.8h0M277.8 905.7h0M277.9 910.3h0M277.9 917.8h0M277.9 927.2h0M277.8 928.6h0M277.9 929.6h0M277.8 930.4h0M277.8 931.9h0M278.0 932.6h0M278.1 934.4h0M277.9 935.9h0M277.8 937.0h0M278.1 937.8h0M278.0 938.3h0M277.8 939.6h0M278.1 941.2h0M277.8 942.2h0M277.8 943.3h0M277.8 944.7h0M278.0 945.5h0M278.0 946.7h0M277.8 948.1h0M277.8 949.2h0M278.1 950.8h0M277.9 951.9h0M277.8 953.4h0M277.8 953.5h0M278.0 955.1h0M278.1 955.8h0M278.0 957.5h0M277.8 958.9h0M277.9 960.2h0M278.0 961.0h0M277.8 961.9h0M278.0 963.2h0" stroke="#88b04b" stroke-width="4.2" stroke-linecap="round" fill="none"/>
<path clip-path="url(#cBR)" d="M728.2 631.8h0M694.6 650.9h0M690.6 655.4h0M692.0 656.3h0M694.6 667.6h0M691.5 669.4h0M694.2 676.0h0M658.2 671.8h0M662.4 674.0h0M664.6 672.7h0M657.0 680.9h0M664.6 680.0h0M665.5 682.7h0M691.5 705.4h0M695.1 705.4h0M728.2 664.5h0M711.5 675.0h0M717.8 680.0h0M738.7 672.7h0M727.8 702.7h0M719.6 723.0h0M782.3 707.2h0M808.3 650.9h0M808.3 662.7h0M803.2 673.6h0M808.3 701.7h0M808.3 723.9h0M803.2 743.2h0M808.3 740.8h0M808.3 744.4h0M811.4 670.0h0M657.3 559.2h0M803.7 597.8h0M808.3 532.5h0M814.5 623.3h0M830.8 627.6h0M830.8 643.1h0M828.4 652.3h0M823.5 656.3h0M814.8 660.9h0M814.8 668.7h0M830.8 671.8h0M837.0 669.6h0M844.8 666.9h0M860.6 668.7h0M848.4 677.8h0M876.6 667.6h0M882.9 671.8h0M891.5 662.3h0M901.5 674.5h0M913.8 670.9h0M913.8 677.8h0M921.6 669.0h0M922.4 672.7h0M923.8 632.2h0M932.3 631.4h0M941.6 630.9h0M943.8 628.2h0M925.3 644.0h0M922.5 653.1h0M933.8 658.7h0M941.6 651.2h0M944.7 654.9h0M943.8 659.1h0M943.4 664.5h0M942.0 667.6h0M944.7 670.5h0M947.4 670.9h0M814.8 723.5h0M814.8 729.4h0M823.5 704.5h0M823.5 713.5h0M828.4 715.7h0M823.5 721.7h0M823.5 735.3h0M828.4 746.6h0M835.7 703.6h0M837.0 708.5h0M837.0 713.0h0M837.0 733.9h0M844.8 705.0h0M844.8 709.0h0M844.8 713.0h0M844.8 724.8h0M853.3 705.4h0M853.3 711.7h0M853.3 715.7h0M858.0 710.3h0M853.3 727.7h0M874.2 708.1h0M891.5 703.6h0M891.5 720.5h0M905.9 700.2h0M905.3 701.9h0M905.7 704.1h0M920.2 708.5h0M920.2 715.7h0M925.3 703.6h0M939.8 700.8h0M945.2 700.3h0M913.8 739.0h0M932.3 753.2h0M900.2 759.9h0M923.8 551.6h0M830.8 592.9h0M921.4 595.0h0M828.4 611.9h0M807.9 760.9h0M808.6 812.5h0M783.2 869.9h0M728.0 970.5h0M914.0 969.8h0M638.1 691.0h0M636.9 695.2h0M638.0 692.7h0M640.2 694.4h0M640.0 690.1h0M639.2 692.8h0M637.6 690.2h0M637.9 695.6h0M679.4 692.3h0M657.0 691.7h0M685.8 690.3h0M662.5 689.6h0M672.5 688.5h0M682.6 695.2h0M670.0 687.9h0M693.1 691.7h0M655.1 693.9h0M649.7 694.4h0M661.9 688.6h0M651.7 691.0h0M664.4 691.4h0M690.4 696.2h0M684.7 690.7h0M679.1 691.7h0M667.2 688.4h0M659.4 696.6h0M664.4 688.3h0M673.2 692.9h0M659.7 695.7h0M646.0 691.6h0M693.4 693.0h0M672.0 696.3h0M663.7 694.3h0M655.0 690.2h0M667.2 687.2h0M657.8 689.7h0M671.5 692.2h0M667.2 691.4h0M679.2 694.2h0M692.1 691.1h0M651.3 689.0h0M657.3 687.3h0M652.8 692.7h0M693.6 688.5h0M675.2 690.2h0M681.2 687.8h0M661.6 694.0h0M672.9 693.0h0M655.9 687.3h0M673.1 693.9h0M676.6 689.2h0M687.5 687.0h0M655.0 690.8h0M651.3 688.3h0M681.4 689.2h0M672.5 691.2h0M691.2 693.9h0M661.9 688.7h0M650.6 687.7h0M662.0 695.1h0M646.8 687.9h0M662.8 691.4h0M684.7 696.5h0M675.1 688.9h0M673.8 692.2h0M666.6 692.1h0M667.3 688.9h0M673.5 690.5h0M675.4 695.2h0M687.2 691.5h0M677.3 689.3h0M665.4 691.5h0M692.7 696.5h0M691.8 689.6h0M675.9 693.5h0M685.5 696.4h0M664.0 691.7h0M673.3 695.0h0M682.1 690.5h0M667.3 692.0h0M672.7 689.8h0M693.7 694.8h0M691.6 692.9h0M654.9 687.9h0M660.5 688.2h0M677.9 693.6h0M687.0 692.0h0M690.3 692.1h0M680.4 691.2h0M694.2 690.7h0M680.2 696.1h0M691.3 690.3h0M649.9 694.8h0M658.7 687.5h0M691.1 692.0h0M663.5 690.0h0M660.1 694.1h0M659.9 691.2h0M670.0 689.5h0M691.2 690.1h0M672.2 687.3h0M686.6 691.0h0M663.3 688.0h0M662.3 691.2h0M674.9 689.4h0M659.4 694.7h0M662.4 694.1h0M676.2 694.5h0M645.7 690.6h0M672.8 695.3h0M648.3 695.6h0M677.9 694.1h0M645.2 695.3h0M671.7 689.7h0M659.1 695.3h0M648.0 691.0h0M681.1 687.7h0M654.1 691.2h0M692.3 694.5h0M655.0 688.3h0M681.3 694.1h0M693.3 696.1h0M670.2 688.1h0M664.4 687.5h0M673.3 694.3h0M662.1 688.2h0M652.2 693.9h0M661.6 691.6h0M666.2 692.5h0M669.8 690.8h0M670.2 694.8h0M661.2 687.0h0M693.2 691.6h0M680.5 689.0h0M649.1 693.7h0M672.3 691.2h0M682.7 690.8h0M649.2 696.6h0M680.7 688.9h0M664.1 692.5h0M652.7 690.1h0M652.3 688.1h0M678.8 689.8h0M690.4 687.9h0M683.8 688.5h0M654.5 694.0h0M651.5 693.6h0M680.9 695.2h0M688.2 692.5h0M679.5 690.3h0M658.7 694.3h0M702.6 694.7h0M710.7 687.3h0M706.0 688.2h0M701.9 688.0h0M719.8 690.1h0M718.8 695.1h0M703.6 691.5h0M710.5 686.3h0M715.1 689.0h0M713.7 693.8h0M715.0 693.0h0M707.2 692.5h0M714.9 691.0h0M714.0 695.3h0M705.4 686.9h0M709.7 695.0h0M707.6 696.5h0M707.1 696.1h0M718.1 692.4h0M716.3 687.7h0M703.1 685.5h0M703.8 692.0h0M702.0 686.4h0M712.9 693.1h0M705.1 694.7h0M703.7 693.4h0M705.7 695.5h0M717.1 695.7h0M710.0 695.2h0M715.8 696.1h0M711.2 694.5h0M703.7 687.0h0M702.5 686.9h0M705.4 692.3h0M712.8 695.5h0M703.7 693.9h0M710.7 692.2h0M703.6 686.5h0M711.8 696.0h0M711.4 692.0h0M713.7 688.0h0M717.3 687.9h0M709.2 690.2h0M718.1 694.6h0M710.5 686.1h0M703.4 686.4h0M716.0 693.0h0M707.1 687.5h0M719.1 695.8h0M703.1 692.6h0M718.1 692.1h0M718.0 685.8h0M711.4 688.6h0M716.9 691.0h0M715.5 691.1h0M713.0 692.7h0M715.5 688.2h0M713.9 688.4h0M703.3 690.6h0M713.5 694.5h0M713.5 689.0h0M705.9 693.0h0M707.2 695.9h0M712.0 692.0h0M716.8 696.4h0M741.5 694.7h0M731.9 685.2h0M740.8 692.4h0M740.9 683.8h0M736.7 683.1h0M740.6 691.9h0M738.3 688.3h0M730.1 685.7h0M728.3 695.0h0M727.8 691.7h0M737.2 687.3h0M728.2 688.7h0M729.4 694.0h0M726.8 683.6h0M731.6 694.8h0M739.6 686.9h0M733.1 691.9h0M732.0 684.8h0M733.3 688.1h0M730.3 685.4h0M732.4 687.2h0M739.1 694.9h0M739.7 693.3h0M730.5 688.0h0M738.0 690.0h0M731.6 694.4h0M737.4 687.4h0M729.2 687.1h0M734.3 685.1h0M727.3 685.6h0M739.6 684.1h0M741.2 690.2h0M734.0 693.6h0M731.7 693.9h0M731.0 688.1h0M739.1 689.9h0M726.3 682.2h0M741.1 692.2h0M731.7 684.2h0M734.4 691.2h0M735.0 692.4h0M734.8 693.2h0M733.0 690.5h0M734.7 690.4h0M737.6 687.2h0M728.9 693.5h0M732.7 694.6h0M738.8 690.5h0M738.7 693.1h0M733.7 687.5h0M738.2 688.6h0M737.1 688.1h0M733.3 688.8h0M727.9 684.0h0M728.0 684.9h0M741.1 685.6h0M731.7 686.2h0M740.5 676.4h0M740.6 681.8h0M786.5 687.5h0M786.1 687.4h0M791.9 683.3h0M781.7 687.9h0M786.4 676.7h0M783.4 677.0h0M782.0 688.0h0M782.0 691.4h0M785.5 690.9h0M781.8 688.6h0M784.6 694.4h0M787.3 685.1h0M786.9 677.0h0M791.2 693.2h0M785.5 693.9h0M790.6 677.5h0M783.2 693.2h0M782.7 693.7h0M782.5 693.1h0M789.1 690.9h0M790.3 677.3h0M784.9 681.0h0M784.9 689.1h0M790.9 684.0h0M784.1 693.3h0M784.6 686.6h0M789.5 692.8h0M781.8 682.5h0M788.3 694.9h0M791.0 684.0h0M782.9 690.3h0M785.9 684.3h0M784.7 687.9h0M786.3 681.2h0M783.3 696.6h0M791.9 686.3h0M784.0 693.2h0M783.7 691.1h0M787.9 681.9h0M788.9 684.6h0M782.3 676.0h0M784.3 693.4h0M787.2 680.7h0M785.6 682.5h0M784.9 686.6h0M791.6 677.4h0M788.7 677.9h0M782.4 679.6h0M789.4 696.1h0M789.9 690.6h0M785.5 685.3h0M784.2 681.4h0M782.5 677.4h0M786.6 678.4h0M788.1 694.7h0M787.1 689.8h0M786.6 685.3h0M783.6 692.1h0M782.2 694.3h0M790.4 686.2h0M788.2 679.7h0M785.2 682.7h0M786.9 691.4h0M783.0 699.6h0M782.8 700.1h0M804.5 690.3h0M827.6 690.4h0M819.5 690.7h0M825.5 687.9h0M832.1 690.2h0M838.0 685.9h0M840.7 691.0h0M827.2 688.8h0M806.1 698.5h0M834.0 688.5h0M848.8 686.2h0M858.4 687.4h0M851.2 698.3h0M855.3 689.4h0M831.3 685.0h0M808.4 695.5h0M815.0 689.5h0M852.3 699.2h0M853.9 687.2h0M852.6 695.9h0M826.6 695.6h0M859.4 696.0h0M809.6 691.1h0M847.6 687.2h0M823.3 692.4h0M846.6 691.1h0M843.4 685.0h0M833.0 693.9h0M817.6 693.5h0M813.8 691.8h0M808.9 694.1h0M810.8 688.0h0M858.9 685.3h0M804.3 697.2h0M841.4 691.9h0M848.4 685.8h0M819.1 692.0h0M831.4 693.0h0M831.3 693.6h0M844.5 687.8h0M830.9 688.6h0M850.3 696.0h0M849.5 690.1h0M804.6 697.9h0M821.4 693.2h0M840.1 694.1h0M835.1 694.7h0M817.6 698.8h0M829.0 688.7h0M817.2 693.2h0M849.4 692.3h0M832.1 697.5h0M810.4 695.9h0M850.5 686.0h0M846.0 693.3h0M823.9 697.8h0M801.7 698.8h0M857.2 690.3h0M845.0 685.6h0M813.1 696.7h0M806.0 686.4h0M839.2 692.9h0M815.8 688.3h0M806.5 693.2h0M854.1 698.9h0M834.4 686.1h0M854.0 691.7h0M824.8 693.2h0M842.7 690.8h0M848.9 686.3h0M834.4 689.6h0M817.1 698.1h0M846.7 695.5h0M854.4 686.4h0M823.2 692.8h0M827.6 690.3h0M808.3 698.7h0M809.1 696.4h0M856.7 691.9h0M815.2 691.9h0M829.8 689.8h0M816.6 685.4h0M805.3 687.4h0M819.4 685.9h0M847.8 687.0h0M814.8 685.6h0M840.8 691.6h0M811.7 695.0h0M850.3 689.2h0M806.7 686.1h0M832.0 698.5h0M823.3 699.5h0M833.1 689.3h0M807.8 694.0h0M842.8 697.2h0M849.1 688.9h0M825.3 693.2h0M837.7 685.7h0M812.9 688.7h0M816.4 698.7h0M832.1 693.2h0M841.7 691.9h0M817.9 688.1h0M818.0 686.9h0M810.5 696.3h0M805.9 697.8h0M803.0 695.2h0M835.0 688.0h0M835.8 685.8h0M856.8 685.0h0M843.1 692.5h0M829.0 692.9h0M824.4 690.8h0M857.6 696.0h0M816.2 690.5h0M843.5 689.9h0M857.8 698.9h0M836.2 696.0h0M858.6 698.0h0M850.4 689.7h0M818.4 698.1h0M824.2 698.7h0M831.9 695.2h0M852.3 690.2h0M830.9 689.7h0M859.4 690.4h0M848.5 689.8h0M842.4 698.4h0M823.5 696.4h0M851.9 689.0h0M829.0 685.4h0M839.4 687.0h0M851.2 694.7h0M851.4 687.2h0M802.5 691.0h0M821.8 692.7h0M802.0 685.6h0M840.1 698.8h0M833.2 685.7h0M843.8 687.9h0M850.9 695.6h0M820.6 693.0h0M801.6 688.6h0M817.8 692.0h0M816.6 697.9h0M828.8 690.3h0M845.5 687.7h0M833.8 698.1h0M846.3 690.3h0M804.7 689.9h0M815.4 695.7h0M820.6 690.1h0M804.9 692.7h0M806.8 695.6h0M851.9 692.7h0M811.0 693.8h0M805.5 689.1h0M809.8 688.9h0M810.5 695.4h0M845.8 697.2h0M813.2 695.7h0M858.0 690.2h0M847.4 695.4h0M845.2 690.6h0M843.3 696.4h0M853.6 693.5h0M803.5 691.4h0M813.3 685.6h0M849.6 690.7h0M814.0 697.7h0M857.1 694.5h0M854.5 690.6h0M844.0 694.8h0M821.7 687.8h0M831.5 688.1h0M837.3 689.8h0M803.3 693.2h0M851.6 693.7h0M825.7 690.8h0M813.6 695.4h0M828.4 689.1h0M837.3 689.3h0M825.1 689.8h0M801.5 698.1h0M813.1 692.0h0M806.3 696.8h0M804.6 685.3h0M842.1 691.6h0M841.5 686.5h0M802.4 696.4h0M844.9 689.0h0M818.8 690.5h0M805.2 692.0h0M842.8 689.7h0M835.1 689.4h0M824.2 687.4h0M832.5 689.2h0M815.4 698.9h0M856.9 699.0h0M803.6 691.9h0M836.6 694.2h0M810.4 696.0h0M807.9 686.6h0M806.5 690.5h0M852.9 688.7h0M820.5 690.5h0M806.2 691.2h0M846.3 697.5h0M828.3 685.7h0M848.9 698.6h0M805.5 695.4h0M837.7 691.6h0M809.9 692.3h0M858.4 693.8h0M847.4 698.7h0M859.3 685.6h0M829.9 691.5h0M838.7 697.1h0M847.2 686.1h0M810.0 693.9h0M816.8 688.5h0M830.7 688.4h0M803.4 689.7h0M850.9 698.2h0M829.4 697.9h0M851.1 689.8h0M841.2 692.0h0M806.2 697.0h0M808.5 694.4h0M828.9 692.7h0M851.5 685.6h0M856.8 689.8h0M850.3 687.6h0M852.5 694.3h0M849.7 695.3h0M827.7 699.0h0M851.9 685.7h0M803.6 690.0h0M839.4 685.4h0M822.5 693.4h0M817.6 695.8h0M802.7 689.2h0M846.6 695.6h0M810.9 688.5h0M841.5 686.6h0M822.2 693.8h0M840.2 692.4h0M841.3 694.4h0M828.1 693.8h0M842.2 695.9h0M831.0 689.1h0M836.7 688.8h0M813.9 692.0h0M834.3 695.6h0M806.5 689.5h0M849.8 693.7h0M804.4 694.4h0M801.6 684.2h0M838.4 682.1h0M856.6 681.8h0M804.0 683.2h0M851.6 684.8h0M817.0 682.0h0M818.6 684.4h0M830.4 683.5h0M812.8 684.4h0M804.0 704.1h0M804.9 700.9h0M826.5 707.3h0M813.3 706.5h0M819.4 708.2h0M831.3 706.4h0M827.6 703.9h0M824.3 703.0h0M827.9 707.1h0M822.1 707.0h0M830.3 704.7h0M925.8 693.8h0M926.2 684.6h0M952.2 690.0h0M877.4 686.9h0M912.3 693.0h0M940.0 689.3h0M919.9 693.9h0M936.1 697.9h0M882.3 687.9h0M884.6 692.5h0M918.9 689.5h0M893.3 692.6h0M935.3 692.4h0M934.7 687.7h0M933.9 692.1h0M884.4 690.6h0M918.8 686.2h0M932.2 694.7h0M907.3 695.5h0M922.3 692.7h0M879.7 686.2h0M933.9 686.9h0M925.9 694.1h0M931.1 687.9h0M890.8 691.2h0M875.4 696.9h0M876.9 694.8h0M925.9 693.3h0M926.6 687.9h0M916.1 691.1h0M916.2 695.9h0M911.7 684.8h0M940.7 689.5h0M950.4 688.2h0M929.4 695.9h0M907.4 694.9h0M927.5 692.5h0M923.1 684.9h0M883.0 690.1h0M937.2 684.8h0M876.3 684.9h0M941.9 697.0h0M874.0 690.7h0M915.0 693.6h0M909.1 685.0h0M913.6 690.4h0M886.1 695.7h0M921.0 693.3h0M893.2 684.7h0M899.2 697.3h0M942.3 687.7h0M891.6 695.7h0M939.9 684.5h0M924.8 690.7h0M941.9 694.0h0M881.8 694.8h0M881.1 690.1h0M877.7 686.2h0M902.1 690.9h0M921.5 693.2h0M906.0 689.5h0M916.6 685.2h0M917.5 697.7h0M903.9 685.9h0M935.9 688.1h0M920.1 696.6h0M873.4 684.8h0M913.5 685.9h0M912.9 693.1h0M906.3 685.2h0M914.6 685.1h0M928.2 689.0h0M910.4 689.4h0M938.8 695.2h0M919.9 687.6h0M902.1 686.5h0M901.2 697.8h0M924.3 692.1h0M945.6 693.8h0M909.9 687.4h0M894.5 688.2h0M927.5 693.1h0M874.6 684.5h0M877.0 690.5h0M910.9 693.2h0M879.2 689.7h0M876.3 691.5h0M876.7 689.1h0M947.9 688.0h0M905.3 686.6h0M944.4 687.6h0M928.8 694.8h0M879.2 696.3h0M913.4 684.9h0M937.1 697.2h0M947.7 689.6h0M921.7 695.2h0M939.7 697.2h0M877.4 697.6h0M916.0 697.5h0M916.5 686.5h0M952.4 686.4h0M895.5 685.9h0M893.2 695.7h0M915.5 695.8h0M931.2 687.1h0M900.1 687.0h0M951.3 691.7h0M893.6 684.7h0M873.4 687.2h0M909.5 694.3h0M949.3 688.1h0M911.5 684.6h0M916.7 691.1h0M937.4 691.8h0M925.8 687.8h0M879.0 697.4h0M913.8 686.1h0M873.7 687.6h0M904.8 694.3h0M876.2 695.3h0M917.6 687.7h0M892.4 696.7h0M915.0 690.9h0M937.1 697.6h0M932.5 696.6h0M896.9 693.0h0M876.1 687.3h0M903.2 694.8h0M885.0 685.4h0M874.5 692.4h0M899.5 690.1h0M916.6 697.8h0M913.5 686.4h0M939.8 686.1h0M922.5 685.9h0M923.0 690.8h0M893.7 685.0h0M877.2 689.7h0M918.3 691.4h0M908.8 689.6h0M940.1 686.9h0M892.7 689.7h0M882.4 685.1h0M908.9 691.4h0M895.2 686.9h0M909.2 689.7h0M942.0 687.0h0M883.3 691.9h0M914.1 691.7h0M873.1 697.3h0M910.7 694.8h0M914.8 689.4h0M898.5 696.4h0M897.0 696.2h0M912.5 695.9h0M950.4 685.9h0M946.0 695.1h0M879.0 697.8h0M888.5 695.8h0M932.9 687.5h0M919.2 686.2h0M890.4 691.3h0M906.5 693.0h0M914.0 692.2h0M917.2 692.9h0M886.0 685.4h0M932.8 697.4h0M941.0 694.6h0M890.8 693.2h0M879.3 693.0h0M927.9 688.9h0M900.8 697.2h0M881.9 691.6h0M895.9 687.5h0M938.5 690.7h0M930.6 694.9h0M950.9 684.7h0M933.9 684.9h0M934.7 690.6h0M946.3 693.6h0M888.3 687.3h0M939.6 685.8h0M884.1 685.3h0M912.6 693.4h0M914.9 695.2h0M925.9 685.5h0M937.9 684.8h0M925.7 685.5h0M951.5 686.6h0M942.4 689.1h0M873.8 689.9h0M944.5 687.9h0M930.0 686.1h0M901.3 693.0h0M918.1 688.0h0M881.7 688.1h0M883.4 689.5h0M928.5 690.5h0M886.1 694.5h0M917.2 696.1h0M877.1 690.6h0M907.8 694.4h0M947.6 690.4h0M951.2 693.0h0M902.5 686.7h0M892.6 695.4h0M911.0 685.5h0M931.5 694.4h0M946.1 696.3h0M902.5 687.7h0M895.7 688.8h0M945.1 696.5h0M905.1 686.8h0M906.8 695.9h0M886.0 688.1h0M938.4 694.0h0M915.6 693.6h0M922.5 691.7h0M910.5 692.2h0M948.4 694.8h0M925.7 694.8h0M940.4 694.1h0M927.2 696.1h0M902.9 688.0h0M880.1 694.2h0M896.8 692.6h0M914.1 687.5h0M939.4 686.2h0M884.5 691.6h0M901.8 685.1h0M875.3 687.3h0M916.5 695.6h0M889.9 692.2h0M915.7 696.0h0M938.9 686.2h0M947.0 685.9h0M950.7 696.0h0M939.3 693.5h0M908.3 694.1h0M937.4 684.8h0M888.9 688.5h0M880.3 696.6h0M892.2 692.6h0M920.9 693.9h0M884.8 694.3h0M892.5 689.6h0M933.6 692.3h0M919.4 688.3h0M880.2 696.6h0M889.1 690.8h0M917.7 696.4h0M895.8 696.0h0M927.3 687.7h0M891.7 694.1h0M900.3 694.2h0M921.5 689.0h0M908.8 689.1h0M890.3 689.8h0M892.3 687.5h0M933.0 691.7h0M879.9 685.3h0M936.1 692.2h0M937.7 687.7h0M926.4 692.8h0M879.9 692.9h0M940.9 690.7h0M921.5 689.5h0M924.3 695.1h0M916.4 694.2h0M916.3 695.6h0M887.4 692.7h0M950.0 687.8h0M885.1 685.3h0M888.6 693.3h0M936.5 696.9h0M885.1 694.8h0M946.0 697.9h0M945.4 694.3h0M885.3 687.8h0M935.0 691.4h0M951.7 687.2h0M900.6 697.2h0M885.6 696.2h0M939.4 695.0h0M885.6 686.0h0M911.1 687.9h0M893.8 687.3h0M886.1 697.6h0M916.9 689.3h0M947.1 686.8h0M890.6 685.1h0M943.0 690.1h0M941.2 692.3h0M899.8 687.1h0M879.2 696.8h0M908.7 688.1h0M929.8 685.0h0M924.4 684.7h0M881.7 688.2h0M933.7 692.4h0M938.7 697.6h0M924.2 691.1h0M923.3 684.9h0M884.4 695.4h0M907.1 691.9h0M938.8 686.1h0M891.3 689.0h0M933.8 696.9h0M888.5 697.8h0M911.8 686.3h0M900.6 687.2h0M908.3 686.9h0M906.3 690.4h0M889.2 687.6h0M918.7 695.8h0M933.3 697.7h0M899.4 693.7h0M933.7 688.0h0M910.9 689.7h0M874.2 688.0h0M923.9 689.3h0M899.3 685.6h0M900.8 684.8h0M897.1 693.9h0M924.1 696.0h0M908.0 689.9h0M916.7 678.7h0M876.5 680.6h0M909.2 681.9h0M888.1 680.8h0M893.2 683.1h0M899.1 682.2h0M933.7 679.8h0M884.0 679.1h0M948.9 679.0h0M944.0 681.0h0M932.5 683.9h0M937.2 679.8h0M914.8 683.0h0M886.5 701.2h0M888.8 698.2h0M940.7 698.0h0M947.2 699.3h0M891.8 702.3h0M892.9 700.1h0M909.7 699.2h0M907.1 699.6h0M931.2 699.7h0M934.5 701.0h0M871.7 679.0h0M873.8 679.2h0M876.6 682.0h0M921.1 680.5h0M927.0 683.6h0M920.0 683.1h0M925.1 684.2h0M923.7 684.5h0M946.5 676.2h0M947.0 678.6h0M944.4 683.4h0M720.1 676.6h0M708.0 675.3h0M707.4 682.3h0M711.8 680.1h0M735.9 673.9h0M729.9 680.6h0M734.2 680.3h0M694.9 694.1h0M694.3 684.5h0M694.1 687.3h0M693.1 686.5h0M695.3 683.3h0M695.5 683.3h0M726.1 700.6h0M728.6 699.2h0M782.7 679.6h0M784.2 678.0h0M785.6 699.2h0M785.2 697.2h0M786.2 698.7h0M741.8 686.4h0M741.7 687.0h0M741.8 687.5h0M741.9 687.3h0M741.7 688.1h0M741.9 688.6h0M741.6 689.4h0M742.1 689.6h0M742.1 689.9h0M742.0 690.3h0M741.9 690.9h0M741.7 691.5h0M741.8 691.6h0M742.0 692.1h0M741.6 692.9h0M742.0 693.5h0M741.6 694.0h0M742.9 686.6h0M743.2 687.0h0M743.2 688.1h0M743.3 687.9h0M743.1 688.6h0M743.1 689.3h0M742.9 689.9h0M742.9 689.9h0M743.1 690.4h0M743.3 690.8h0M743.2 691.7h0M743.1 692.3h0M743.0 692.6h0M743.3 693.2h0M742.9 693.4h0M743.0 693.9h0M743.1 694.1h0M743.3 694.8h0M742.9 695.1h0M743.1 695.5h0M743.0 696.2h0M743.0 696.8h0M745.7 684.6h0M745.5 685.3h0M745.7 685.2h0M745.6 685.8h0M745.6 686.7h0M745.5 687.2h0M745.5 687.1h0M745.4 688.1h0M745.4 688.7h0M745.7 689.0h0M745.7 689.1h0M745.5 690.1h0M745.5 690.1h0M745.8 690.8h0M745.8 691.1h0M745.6 691.9h0M745.8 692.3h0M745.6 692.4h0M745.8 693.0h0M746.7 681.1h0M746.7 685.2h0M747.0 685.3h0M746.8 685.8h0M746.9 686.8h0M746.8 687.3h0M746.8 687.7h0M746.9 687.9h0M746.6 688.3h0M746.6 688.6h0M746.7 689.5h0M746.6 690.1h0M746.9 690.3h0M746.6 690.9h0M747.0 691.4h0M747.0 691.5h0M746.7 692.2h0M747.0 693.0h0M746.5 693.3h0M746.8 693.7h0M747.0 693.9h0M746.6 694.3h0M746.9 695.1h0M746.7 695.7h0M748.2 688.1h0M748.3 688.8h0M747.9 689.1h0M747.9 689.4h0M747.9 689.8h0M747.9 690.5h0M748.0 691.0h0M748.3 691.2h0M747.8 691.9h0M748.1 692.4h0M748.0 692.9h0M748.2 693.2h0M747.8 693.7h0M747.9 694.3h0M748.1 694.3h0M748.2 694.9h0M748.3 695.7h0M747.8 656.5h0M749.4 685.5h0M749.5 686.1h0M749.2 686.4h0M749.4 687.1h0M749.4 687.4h0M749.3 687.8h0M749.3 688.8h0M749.4 689.1h0M749.2 689.4h0M749.2 690.0h0M749.5 690.3h0M749.2 690.6h0M749.2 691.1h0M749.3 692.1h0M749.1 692.6h0M749.4 693.1h0M749.2 693.5h0M749.4 693.4h0M752.0 682.0h0M751.7 682.5h0M751.6 683.2h0M751.7 683.5h0M751.8 684.1h0M751.9 684.7h0M751.7 685.2h0M751.8 685.6h0M751.9 685.9h0M751.8 686.7h0M751.7 686.8h0M751.5 687.6h0M751.7 687.8h0M751.8 688.2h0M752.0 689.2h0M751.8 689.1h0M752.0 689.7h0M751.9 690.4h0M751.8 690.5h0M751.7 691.1h0M751.8 691.7h0M751.9 692.1h0M751.6 692.6h0M751.9 693.2h0M751.6 694.0h0M751.5 693.9h0M751.9 694.3h0M751.9 695.2h0M751.7 695.7h0M751.7 695.9h0M751.7 700.4h0M751.7 707.3h0M752.8 674.8h0M752.7 681.7h0M752.9 682.2h0M753.1 682.7h0M752.8 683.4h0M753.1 683.3h0M753.1 683.8h0M752.9 684.3h0M752.8 684.9h0M752.9 685.5h0M752.9 686.2h0M753.0 686.8h0M753.1 687.0h0M752.7 687.7h0M753.1 688.2h0M752.9 688.4h0M753.0 688.8h0M752.9 689.4h0M753.1 690.1h0M752.8 690.6h0M752.7 690.9h0M752.9 691.6h0M753.0 691.6h0M752.9 692.1h0M753.0 692.7h0M752.7 693.1h0M754.3 683.7h0M754.2 683.8h0M754.2 684.5h0M753.9 685.0h0M754.2 685.2h0M754.2 686.1h0M754.0 686.1h0M754.3 686.9h0M754.1 687.3h0M753.9 687.5h0M754.2 688.1h0M754.1 688.5h0M754.3 689.5h0M754.2 690.0h0M754.1 690.4h0M754.3 690.6h0M754.0 691.2h0M754.4 691.7h0M754.1 691.8h0M754.3 692.7h0M754.2 714.0h0M755.3 680.5h0M755.4 680.8h0M755.2 681.4h0M755.7 681.8h0M755.4 682.4h0M755.4 682.7h0M755.3 683.4h0M755.6 683.9h0M755.3 684.3h0M755.7 684.7h0M755.6 685.3h0M755.5 686.0h0M755.4 686.3h0M755.4 686.6h0M755.5 687.1h0M755.6 688.0h0M755.3 688.4h0M755.7 688.4h0M756.7 681.6h0M756.9 681.9h0M756.9 682.9h0M756.5 682.9h0M756.9 683.6h0M756.5 683.8h0M756.9 684.8h0M756.7 685.1h0M756.5 685.4h0M756.6 685.9h0M756.8 686.8h0M757.0 687.2h0M756.7 687.5h0M756.8 688.3h0M756.6 688.4h0M757.9 677.0h0M757.9 677.3h0M758.1 677.9h0M757.9 678.3h0M757.8 679.2h0M758.0 679.3h0M757.9 680.0h0M758.2 680.2h0M758.1 680.8h0M757.8 681.8h0M757.9 682.3h0M757.9 682.4h0M757.8 682.8h0M758.1 683.2h0M759.1 669.5h0M759.3 670.1h0M759.4 670.4h0M759.3 670.8h0M759.1 671.8h0M759.3 671.8h0M759.0 672.6h0M759.4 672.7h0M759.2 673.7h0M759.1 674.1h0M759.1 674.0h0M759.3 674.6h0M759.1 675.0h0M759.1 676.1h0M759.3 676.3h0M759.4 676.9h0M759.2 677.4h0M760.2 652.9h0M760.5 652.8h0M760.4 653.8h0M760.6 654.4h0M760.5 655.3h0M760.5 655.6h0M760.4 656.1h0M760.5 656.5h0M760.2 657.2h0M760.5 658.2h0M760.5 658.5h0M760.4 658.9h0M760.3 660.0h0M760.6 660.1h0M760.3 660.6h0M760.3 661.1h0M760.2 661.8h0M760.5 662.2h0M760.5 663.3h0M760.4 663.7h0M760.5 664.5h0M760.6 665.1h0M760.6 665.5h0M760.6 666.1h0M760.6 666.8h0M760.3 667.3h0M760.3 667.9h0M760.6 668.7h0M760.4 669.3h0M760.6 669.6h0M760.5 669.9h0M760.6 648.2h0M761.5 617.3h0M761.5 618.5h0M761.6 618.9h0M761.7 619.7h0M761.5 621.0h0M761.6 621.7h0M761.6 622.3h0M761.6 622.9h0M761.5 623.9h0M761.7 624.9h0M761.4 625.1h0M761.5 626.0h0M761.7 626.6h0M761.5 627.4h0M761.7 628.3h0M761.6 629.5h0M761.5 629.9h0M761.5 630.8h0M761.5 631.7h0M761.7 632.6h0M761.4 633.0h0M761.5 634.1h0M761.5 634.7h0M761.7 635.5h0M761.7 636.2h0M761.5 637.1h0M761.7 638.0h0M761.6 638.6h0M761.6 639.6h0M761.7 640.0h0M761.7 648.4h0M761.8 648.6h0M761.4 649.5h0M761.6 650.2h0M761.5 650.2h0M761.7 651.0h0M761.5 651.5h0M761.6 652.1h0M761.5 652.7h0M761.7 653.8h0M761.8 654.0h0M761.4 654.7h0M761.6 655.5h0M761.8 656.0h0M761.6 656.4h0M761.7 657.0h0M761.5 657.9h0M761.5 658.0h0M761.6 658.7h0M761.5 659.4h0M761.6 660.1h0M761.8 660.5h0M763.0 656.7h0M763.2 657.4h0M762.9 658.4h0M763.1 659.0h0M763.2 659.2h0M762.9 660.1h0M763.1 660.9h0M763.0 661.2h0M762.8 661.6h0M763.1 662.5h0M763.0 663.0h0M762.9 663.7h0M763.1 664.4h0M763.1 664.6h0M763.1 665.0h0M763.1 666.1h0M763.1 666.6h0M762.9 666.8h0M763.9 665.3h0M763.9 665.5h0M764.2 665.9h0M764.4 666.8h0M764.2 667.3h0M764.3 667.8h0M764.1 668.1h0M764.2 668.6h0M764.3 668.6h0M764.1 669.4h0M763.9 669.8h0M764.2 670.6h0M764.0 670.7h0M764.0 671.3h0M764.1 671.9h0M764.3 672.5h0M764.1 672.9h0M764.0 673.2h0M763.9 673.6h0M764.0 674.4h0M764.1 674.6h0M764.2 675.4h0M764.0 675.8h0M763.9 675.8h0M764.2 676.9h0M764.1 677.0h0M764.3 677.6h0M764.3 678.0h0M763.9 678.1h0M765.6 673.7h0M765.4 673.8h0M765.2 674.1h0M765.2 674.7h0M765.5 675.5h0M765.6 675.6h0M765.2 676.0h0M765.6 676.5h0M765.2 676.9h0M765.5 677.7h0M765.4 677.9h0M765.6 678.5h0M765.6 679.1h0M765.2 679.8h0M765.5 679.9h0M765.2 680.7h0M765.2 680.7h0M765.5 681.5h0M765.2 681.5h0M765.4 682.5h0M765.4 682.6h0M765.5 683.2h0M765.2 684.0h0M765.5 684.4h0M765.5 684.5h0M766.5 670.8h0M766.5 675.2h0M766.5 677.7h0M766.7 678.3h0M766.8 679.0h0M766.7 678.9h0M766.7 679.7h0M766.4 680.3h0M766.5 680.7h0M766.4 681.0h0M766.7 681.8h0M766.6 682.1h0M766.5 682.3h0M766.6 682.7h0M766.4 683.6h0M766.4 684.1h0M766.8 684.6h0M766.8 685.0h0M766.8 685.4h0M766.7 685.4h0M766.5 685.8h0M766.6 686.8h0M766.4 687.1h0M766.5 687.7h0M766.9 688.0h0M766.7 688.5h0M768.0 678.9h0M767.7 679.2h0M768.0 679.7h0M767.8 680.2h0M767.8 681.0h0M767.7 681.5h0M767.9 681.6h0M767.7 682.2h0M768.1 682.5h0M768.0 683.4h0M768.1 684.1h0M768.2 684.4h0M767.9 684.8h0M767.9 685.0h0M767.8 685.8h0M767.7 686.5h0M767.9 687.0h0M767.8 687.1h0M767.7 687.4h0M767.8 687.8h0M767.7 688.9h0M767.9 688.8h0M767.8 689.5h0M767.9 689.7h0M768.2 690.5h0M767.9 691.3h0M769.0 676.8h0M769.1 683.1h0M769.3 683.0h0M769.0 683.7h0M768.9 684.4h0M768.9 684.7h0M769.0 685.0h0M769.1 685.9h0M769.0 686.0h0M768.9 686.5h0M769.0 687.3h0M768.8 687.5h0M769.0 688.3h0M768.8 688.8h0M769.1 688.8h0M769.2 689.3h0M769.2 689.9h0M768.8 690.6h0M768.9 691.1h0M769.1 691.2h0M768.9 692.0h0M768.8 691.9h0M768.9 692.9h0M769.1 693.3h0M769.3 694.0h0M769.2 693.9h0M770.2 677.8h0M770.2 680.3h0M770.1 682.7h0M770.1 683.2h0M770.0 684.1h0M770.4 684.5h0M770.1 684.8h0M770.5 685.1h0M770.1 685.9h0M770.5 686.1h0M770.3 686.3h0M770.2 687.3h0M770.5 687.5h0M770.5 688.2h0M770.1 688.7h0M770.3 688.8h0M770.1 689.4h0M770.4 689.7h0M770.5 690.7h0M770.3 690.6h0M770.5 691.2h0M770.1 692.0h0M770.2 692.7h0M770.2 693.2h0M770.2 696.6h0M770.2 701.0h0M770.5 703.6h0M771.7 686.2h0M771.5 686.5h0M771.8 687.3h0M771.4 687.8h0M771.6 688.0h0M771.7 688.3h0M771.8 689.3h0M771.6 689.5h0M771.4 690.0h0M771.7 690.3h0M771.5 691.0h0M771.9 691.3h0M771.5 691.7h0M771.6 692.4h0M771.4 692.9h0M772.9 650.7h0M772.7 656.0h0M772.8 665.3h0M772.9 666.1h0M772.8 667.7h0M773.0 676.3h0M772.8 677.4h0M772.8 678.3h0M772.7 678.9h0M772.8 679.5h0M772.8 680.7h0M772.8 681.3h0M772.8 682.2h0M772.8 682.8h0M773.0 683.8h0M772.9 684.7h0M772.9 684.8h0M772.9 686.1h0M772.8 686.9h0M772.8 687.9h0M772.7 688.6h0M772.8 688.8h0M772.8 689.6h0M773.0 690.5h0M773.0 691.7h0M772.8 692.3h0M772.7 692.7h0M772.8 693.7h0M773.0 694.5h0M772.9 695.6h0M772.8 701.7h0M772.7 712.7h0M774.0 659.2h0M774.0 679.0h0M773.9 683.4h0M773.9 684.2h0M774.2 684.9h0M773.8 685.4h0M773.9 686.1h0M773.8 686.9h0M774.1 687.4h0M774.1 687.5h0M774.1 688.3h0M775.5 682.8h0M775.4 686.9h0M775.6 687.2h0M775.4 687.3h0M775.2 687.9h0M775.3 688.2h0M775.6 689.2h0M775.5 689.3h0M775.6 690.0h0M775.3 690.6h0M775.5 691.1h0M775.2 691.0h0M775.6 691.5h0M775.2 692.2h0M775.5 692.8h0M775.5 693.5h0M775.4 694.0h0M775.6 694.1h0M776.8 679.3h0M776.8 683.8h0M776.5 685.2h0M776.8 686.0h0M776.5 686.4h0M776.4 686.8h0M776.9 687.5h0M776.6 687.4h0M776.8 688.4h0M776.5 688.5h0M776.6 689.2h0M776.7 689.2h0M776.6 690.0h0M776.7 690.3h0M776.9 690.8h0M776.8 691.6h0M776.5 692.2h0M776.8 692.7h0M776.8 693.0h0M778.9 682.2h0M778.9 684.0h0M779.2 684.4h0M779.0 685.1h0M778.8 685.7h0M779.1 685.6h0M779.2 686.6h0M779.1 686.9h0M778.8 687.3h0M779.2 688.1h0M779.1 688.1h0M779.1 688.9h0M778.9 689.2h0M778.9 689.7h0M778.8 690.3h0M779.1 690.7h0M779.0 691.4h0M779.1 691.5h0M778.9 691.8h0M779.1 692.6h0M779.2 692.9h0M779.3 693.4h0M780.3 684.4h0M780.4 684.2h0M780.4 685.2h0M780.4 685.7h0M780.3 686.0h0M780.2 686.1h0M780.4 687.1h0M780.5 687.5h0M780.2 687.6h0M780.1 688.1h0M780.4 688.6h0M780.2 689.2h0M780.3 689.9h0M780.2 690.5h0M780.2 690.5h0M780.2 690.9h0M780.2 692.0h0M780.3 692.4h0M780.3 692.3h0M780.5 693.0h0M780.4 693.9h0M780.5 694.1h0M780.4 694.2h0M780.2 695.1h0M780.5 695.2h0M773.0 571.5h0M746.7 738.7h0M765.4 730.7h0M772.7 739.9h0M772.7 758.6h0M774.0 783.4h0M765.5 822.7h0" stroke="#88b04b" stroke-width="4.2" stroke-linecap="round" fill="none"/>
<path d="M131.00 478.92L131.24 478.90L131.48 478.89L131.71 478.88L131.95 478.87L132.19 478.85L132.43 478.84L132.66 478.83L132.90 478.82L133.14 478.81L133.38 478.79L133.61 478.78L133.85 478.77L134.09 478.75L134.33 478.74L134.56 478.73L134.80 478.72L135.04 478.70L135.28 478.69L135.51 478.68L135.75 478.66L135.99 478.65L136.23 478.64L136.47 478.62L136.70 478.61L136.94 478.60L137.18 478.58L137.42 478.57L137.65 478.55L137.89 478.54L138.13 478.53L138.37 478.51L138.60 478.50L138.84 478.48L139.08 478.47L139.32 478.45L139.55 478.44L139.79 478.42L140.03 478.41L140.27 478.39L140.51 478.38L140.74 478.36L140.98 478.35L141.22 478.33L141.46 478.32L141.69 478.30L141.93 478.29L142.17 478.27L142.41 478.25L142.64 478.24L142.88 478.22L143.12 478.21L143.36 478.19L143.59 478.17L143.83 478.16L144.07 478.14L144.31 478.12L144.54 478.11L144.78 478.09L145.02 478.07L145.26 478.06L145.50 478.04L145.73 478.02L145.97 478.01L146.21 477.99L146.45 477.97L146.68 477.95L146.92 477.94L147.16 477.92L147.40 477.90L147.63 477.88L147.87 477.86L148.11 477.84L148.35 477.83L148.58 477.81L148.82 477.79L149.06 477.77L149.30 477.75L149.53 477.73L149.77 477.71L150.01 477.69L150.25 477.67L150.49 477.65L150.72 477.63L150.96 477.61L151.20 477.59L151.44 477.57L151.67 477.55L151.91 477.53L152.15 477.51L152.39 477.49L152.62 477.47L152.86 477.45L153.10 477.43L153.34 477.41L153.57 477.39L153.81 477.37L154.05 477.34L154.29 477.32L154.52 477.30L154.76 477.28L155.00 477.26L155.24 477.23L155.48 477.21L155.71 477.19L155.95 477.17L156.19 477.14L156.43 477.12L156.66 477.10L156.90 477.07L157.14 477.05L157.38 477.03L157.61 477.00L157.85 476.98L158.09 476.96L158.33 476.93L158.56 476.91L158.80 476.88L159.04 476.86L159.28 476.83L159.52 476.81L159.75 476.78L159.99 476.76L160.23 476.73L160.47 476.70L160.70 476.68L160.94 476.65L161.18 476.63L161.42 476.60L161.65 476.57L161.89 476.55L162.13 476.52L162.37 476.49L162.60 476.46L162.84 476.44L163.08 476.41L163.32 476.38L163.55 476.35L163.79 476.32L164.03 476.30L164.27 476.27L164.51 476.24L164.74 476.21L164.98 476.18L165.22 476.15L165.46 476.12L165.69 476.09L165.93 476.06L166.17 476.03L166.41 476.00L166.64 475.97L166.88 475.94L167.12 475.91L167.36 475.88L167.59 475.84L167.83 475.81L168.07 475.78L168.31 475.75L168.54 475.71L168.78 475.68L169.02 475.65L169.26 475.62L169.50 475.58L169.73 475.55L169.97 475.51L170.21 475.48L170.45 475.45L170.68 475.41L170.92 475.38L171.16 475.34L171.40 475.31L171.63 475.27L171.87 475.23L172.11 475.20L172.35 475.16L172.58 475.12L172.82 475.09L173.06 475.05L173.30 475.01L173.53 474.98L173.77 474.94L174.01 474.90L174.25 474.86L174.49 474.82L174.72 474.78L174.96 474.74L175.20 474.70L175.44 474.66L175.67 474.62L175.91 474.58L176.15 474.54L176.39 474.50L176.62 474.46L176.86 474.42L177.10 474.38L177.34 474.33L177.57 474.29L177.81 474.25L178.05 474.20L178.29 474.16L178.53 474.12L178.76 474.07L179.00 474.03L179.24 473.98L179.48 473.94L179.71 473.89L179.95 473.85L180.19 473.80L180.43 473.75L180.66 473.71L180.90 473.66L181.14 473.61L181.38 473.56L181.61 473.52L181.85 473.47L182.09 473.42L182.33 473.37L182.56 473.32L182.80 473.27L183.04 473.22L183.28 473.17L183.52 473.12L183.75 473.06L183.99 473.01L184.23 472.96L184.47 472.91L184.70 472.85L184.94 472.80L185.18 472.75L185.42 472.69L185.65 472.64L185.89 472.58L186.13 472.53L186.37 472.47L186.60 472.41L186.84 472.36L187.08 472.30L187.32 472.24L187.55 472.18L187.79 472.12L188.03 472.06L188.27 472.01L188.51 471.94L188.74 471.88L188.98 471.82L189.22 471.76L189.46 471.70L189.69 471.64L189.93 471.57L190.17 471.51L190.41 471.45L190.64 471.38L190.88 471.32L191.12 471.25L191.36 471.19L191.59 471.12L191.83 471.05L192.07 470.99L192.31 470.92L192.54 470.85L192.78 470.78L193.02 470.71L193.26 470.64L193.50 470.57L193.73 470.50L193.97 470.43L194.21 470.35L194.45 470.28L194.68 470.21L194.92 470.13L195.16 470.06L195.40 469.98L195.63 469.91L195.87 469.83L196.11 469.75L196.35 469.68L196.58 469.60L196.82 469.52L197.06 469.44L197.30 469.36L197.54 469.28L197.77 469.20L198.01 469.11L198.25 469.03L198.49 468.95L198.72 468.86L198.96 468.78L199.20 468.69L199.44 468.61L199.67 468.52L199.91 468.43L200.15 468.34L200.39 468.26L200.62 468.17L200.86 468.08L201.10 467.98L201.34 467.89L201.57 467.80L201.81 467.71L202.05 467.61L202.29 467.52L202.53 467.42L202.76 467.32L203.00 467.23L203.24 467.13L203.48 467.03L203.71 466.93L203.95 466.83L204.19 466.73L204.43 466.63L204.66 466.52L204.90 466.42L205.14 466.31L205.38 466.21L205.61 466.10L205.85 465.99L206.09 465.89L206.33 465.78L206.56 465.67L206.80 465.56L207.04 465.44L207.28 465.33L207.52 465.22L207.75 465.10L207.99 464.99L208.23 464.87L208.47 464.75L208.70 464.63L208.94 464.51L209.18 464.39L209.42 464.27L209.65 464.15L209.89 464.02L210.13 463.90L210.37 463.77L210.60 463.65L210.84 463.52L211.08 463.39L211.32 463.26L211.55 463.13L211.79 463.00L212.03 462.86L212.27 462.73L212.51 462.59L212.74 462.45L212.98 462.32L213.22 462.18L213.46 462.04L213.69 461.89L213.93 461.75L214.17 461.61L214.41 461.46L214.64 461.31L214.88 461.17L215.12 461.02L215.36 460.87L215.59 460.71L215.83 460.56L216.07 460.41L216.31 460.25L216.55 460.09L216.78 459.93L217.02 459.77L217.26 459.61L217.50 459.45L217.73 459.29L217.97 459.12L218.21 458.95L218.45 458.79L218.68 458.62L218.92 458.44L219.16 458.27L219.40 458.10L219.63 457.92L219.87 457.74L220.11 457.56L220.35 457.38L220.58 457.20L220.82 457.02L221.06 456.83L221.30 456.64L221.54 456.45L221.77 456.26L222.01 456.07L222.25 455.88L222.49 455.68L222.72 455.49L222.96 455.29L223.20 455.08L223.44 454.88L223.67 454.68L223.91 454.47L224.15 454.26L224.39 454.05L224.62 453.84L224.86 453.63L225.10 453.41L225.34 453.19L225.57 452.97L225.81 452.75L226.05 452.53L226.29 452.30L226.53 452.08L226.76 451.85L227.00 451.62L227.24 451.38L227.48 451.15L227.71 450.91L227.95 450.67L228.19 450.43L228.43 450.18L228.66 449.93L228.90 449.69L229.14 449.43L229.38 449.18L229.61 448.92L229.85 448.67L230.09 448.41L230.33 448.14L230.56 447.88L230.80 447.61L231.04 447.34L231.28 447.07L231.52 446.79L231.75 446.52L231.99 446.24L232.23 445.95L232.47 445.67L232.70 445.38L232.94 445.09L233.18 444.80L233.42 444.50L233.65 444.20L233.89 443.90L234.13 443.60L234.37 443.29L234.60 442.98L234.84 442.67L235.08 442.35L235.32 442.04L235.56 441.71L235.79 441.39L236.03 441.06L236.27 440.73L236.51 440.40L236.74 440.06L236.98 439.73L237.22 439.38L237.46 439.04L237.69 438.69L237.93 438.34L238.17 437.98L238.41 437.62L238.64 437.26L238.88 436.90L239.12 436.53L239.36 436.16L239.59 435.78L239.83 435.40L240.07 435.02L240.31 434.64L240.55 434.25L240.78 433.85L241.02 433.46L241.26 433.06L241.50 432.65L241.73 432.25L241.97 431.83L242.21 431.42L242.45 431.00L242.68 430.58L242.92 430.15L243.16 429.72L243.40 429.28L243.63 428.85L243.87 428.40L244.11 427.96L244.35 427.51L244.58 427.05L244.82 426.59L245.06 426.13L245.30 425.66L245.54 425.19L245.77 424.71L246.01 424.23L246.25 423.74L246.49 423.25L246.72 422.76L246.96 422.26L247.20 421.76L247.44 421.25L247.67 420.74L247.91 420.22L248.15 419.70L248.39 419.17L248.62 418.64L248.86 418.10L249.10 417.56L249.34 417.01L249.57 416.46L249.81 415.90L250.05 415.34L250.29 414.77L250.53 414.20L250.76 413.62L251.00 413.04L251.24 412.45L251.48 411.86L251.71 411.26L251.95 410.65L252.19 410.04L252.43 409.43L252.66 408.81L252.90 408.18L253.14 407.55L253.38 406.91L253.61 406.27L253.85 405.62L254.09 404.96L254.33 404.30L254.57 403.63L254.80 402.96L255.04 402.28L255.28 401.59L255.52 400.90L255.75 400.20L255.99 399.50L256.23 398.79L256.47 398.07L256.70 397.35L256.94 396.62L257.18 395.88L257.42 395.14L257.65 394.39L257.89 393.64L258.13 392.87L258.37 392.10L258.60 391.33L258.84 390.55L259.08 389.76L259.32 388.96L259.56 388.16L259.79 387.35L260.03 386.53L260.27 385.71L260.51 384.87L260.74 384.04L260.98 383.19L261.22 382.34L261.46 381.48L261.69 380.61L261.93 379.73L262.17 378.85L262.41 377.96L262.64 377.07L262.88 376.16L263.12 375.25L263.36 374.33L263.59 373.40L263.83 372.47L264.07 371.52L264.31 370.57L264.55 369.61L264.78 368.65L265.02 367.67L265.26 366.69L265.50 365.70L265.73 364.71L265.97 363.70L266.21 362.69L266.45 361.66L266.68 360.63L266.92 359.60L267.16 358.55L267.40 357.50L267.63 356.44L267.87 355.36L268.11 354.29L268.35 353.20L268.58 352.10L268.82 351.00L269.06 349.89L269.30 348.77L269.54 347.64L269.77 346.51L270.01 345.36L270.25 344.21L270.49 343.05L270.72 341.88L270.96 340.70L271.20 339.52L271.44 338.32L271.67 337.12L271.91 335.91L272.15 334.69L272.39 333.46L272.62 332.23L272.86 330.98L273.10 329.73L273.34 328.47L273.58 327.20L273.81 325.93L274.05 324.64L274.29 323.35L274.53 322.05L274.76 320.74L275.00 319.42L275.24 318.10L275.48 316.77L275.71 315.43L275.95 314.08L276.19 312.72L276.43 311.36L276.66 309.99L276.90 308.61L277.14 307.23L277.38 305.83L277.61 304.43L277.85 303.03L278.09 301.61L278.33 300.19L278.57 298.76L278.80 297.33L279.04 295.89L279.28 294.44L279.52 292.98L279.75 291.52L279.99 290.05L280.23 288.58L280.47 287.10L280.70 285.62L280.94 284.13L281.18 282.63L281.42 281.13L281.65 279.62L281.89 278.11L282.13 276.59L282.37 275.07L282.60 273.54L282.84 272.01L283.08 270.48L283.32 268.94L283.56 267.39L283.79 265.85L284.03 264.30L284.27 262.75L284.51 261.19L284.74 259.63L284.98 258.07L285.22 256.51L285.46 254.94L285.69 253.37L285.93 251.80L286.17 250.23L286.41 248.66L286.64 247.09L286.88 245.52L287.12 243.94L287.36 242.37L287.59 240.80L287.83 239.23L288.07 237.66L288.31 236.09L288.55 234.52L288.78 232.95L289.02 231.39L289.26 229.83L289.50 228.27L289.73 226.71L289.97 225.16L290.21 223.61L290.45 222.07L290.68 220.53L290.92 219.00L291.16 217.47L291.40 215.95L291.63 214.43L291.87 212.92L292.11 211.42L292.35 209.93L292.59 208.44L292.82 206.96L293.06 205.49L293.30 204.03L293.54 202.57L293.77 201.13L294.01 199.70L294.25 198.28L294.49 196.87L294.72 195.47L294.96 194.08L295.20 192.70L295.44 191.34L295.67 189.99L295.91 188.66L296.15 187.33L296.39 186.03L296.62 184.73L296.86 183.46L297.10 182.20L297.34 180.95L297.58 179.72L297.81 178.51L298.05 177.32L298.29 176.14L298.53 174.98L298.76 173.84L299.00 172.73L299.24 171.62L299.48 170.54L299.71 169.48L299.95 168.45L300.19 167.43L300.43 166.43L300.66 165.46L300.90 164.51L301.14 163.58L301.38 162.67L301.61 161.79L301.85 160.93L302.09 160.09L302.33 159.28L302.57 158.50L302.80 157.74L303.04 157.00L303.28 156.29L303.52 155.61L303.75 154.96L303.99 154.33L304.23 153.72L304.47 153.15L304.70 152.60L304.94 152.08L305.18 151.59L305.42 151.12L305.65 150.68L305.89 150.28L306.13 149.90L306.37 149.55L306.60 149.23L306.84 148.93L307.08 148.67L307.32 148.44L307.56 148.23L307.79 148.06L308.03 147.91L308.27 147.80L308.51 147.71L308.74 147.66L308.98 147.63L309.22 147.64L309.46 147.67L309.69 147.74L309.93 147.83L310.17 147.95L310.41 148.11L310.64 148.29L310.88 148.50L311.12 148.74L311.36 149.01L311.60 149.31L311.83 149.64L312.07 150.00L312.31 150.39L312.55 150.81L312.78 151.25L313.02 151.72L313.26 152.22L313.50 152.75L313.73 153.31L313.97 153.89L314.21 154.50L314.45 155.14L314.68 155.80L314.92 156.49L315.16 157.21L315.40 157.95L315.63 158.72L315.87 159.51L316.11 160.33L316.35 161.17L316.59 162.04L316.82 162.92L317.06 163.84L317.30 164.77L317.54 165.73L317.77 166.71L318.01 167.71L318.25 168.74L318.49 169.78L318.72 170.85L318.96 171.94L319.20 173.04L319.44 174.17L319.67 175.31L319.91 176.47L320.15 177.65L320.39 178.85L320.62 180.07L320.86 181.30L321.10 182.55L321.34 183.82L321.58 185.10L321.81 186.40L322.05 187.71L322.29 189.03L322.53 190.37L322.76 191.73L323.00 193.09L323.24 194.47L323.48 195.86L323.71 197.27L323.95 198.68L324.19 200.10L324.43 201.54L324.66 202.99L324.90 204.44L325.14 205.90L325.38 207.38L325.61 208.86L325.85 210.35L326.09 211.85L326.33 213.35L326.57 214.86L326.80 216.38L327.04 217.90L327.28 219.43L327.52 220.97L327.75 222.51L327.99 224.05L328.23 225.60L328.47 227.15L328.70 228.71L328.94 230.27L329.18 231.83L329.42 233.40L329.65 234.96L329.89 236.53L330.13 238.10L330.37 239.67L330.61 241.24L330.84 242.82L331.08 244.39L331.32 245.96L331.56 247.53L331.79 249.11L332.03 250.68L332.27 252.25L332.51 253.82L332.74 255.38L332.98 256.95L333.22 258.51L333.46 260.07L333.69 261.63L333.93 263.19L334.17 264.74L334.41 266.29L334.64 267.83L334.88 269.37L335.12 270.91L335.36 272.45L335.60 273.98L335.83 275.50L336.07 277.02L336.31 278.54L336.55 280.05L336.78 281.55L337.02 283.05L337.26 284.55L337.50 286.04L337.73 287.52L337.97 289.00L338.21 290.47L338.45 291.94L338.68 293.40L338.92 294.85L339.16 296.30L339.40 297.74L339.63 299.17L339.87 300.60L340.11 302.01L340.35 303.43L340.59 304.83L340.82 306.23L341.06 307.62L341.30 309.00L341.54 310.38L341.77 311.75L342.01 313.11L342.25 314.46L342.49 315.81L342.72 317.15L342.96 318.48L343.20 319.80L343.44 321.11L343.67 322.42L343.91 323.72L344.15 325.01L344.39 326.29L344.62 327.56L344.86 328.83L345.10 330.09L345.34 331.34L345.58 332.58L345.81 333.81L346.05 335.04L346.29 336.25L346.53 337.46L346.76 338.66L347.00 339.85L347.24 341.04L347.48 342.21L347.71 343.38L347.95 344.54L348.19 345.69L348.43 346.83L348.66 347.96L348.90 349.09L349.14 350.21L349.38 351.32L349.62 352.42L349.85 353.51L350.09 354.59L350.33 355.67L350.57 356.74L350.80 357.80L351.04 358.85L351.28 359.89L351.52 360.93L351.75 361.96L351.99 362.97L352.23 363.99L352.47 364.99L352.70 365.98L352.94 366.97L353.18 367.95L353.42 368.92L353.65 369.89L353.89 370.84L354.13 371.79L354.37 372.73L354.61 373.67L354.84 374.59L355.08 375.51L355.32 376.42L355.56 377.32L355.79 378.22L356.03 379.10L356.27 379.98L356.51 380.86L356.74 381.72L356.98 382.58L357.22 383.43L357.46 384.27L357.69 385.11L357.93 385.94L358.17 386.76L358.41 387.58L358.64 388.39L358.88 389.19L359.12 389.98L359.36 390.77L359.60 391.55L359.83 392.32L360.07 393.09L360.31 393.85L360.55 394.60L360.78 395.35L361.02 396.09L361.26 396.83L361.50 397.55L361.73 398.28L361.97 398.99L362.21 399.70L362.45 400.40L362.68 401.10L362.92 401.79L363.16 402.47L363.40 403.15L363.63 403.82L363.87 404.49L364.11 405.15L364.35 405.80L364.59 406.45L364.82 407.09L365.06 407.73L365.30 408.36L365.54 408.98L365.77 409.60L366.01 410.22L366.25 410.83L366.49 411.43L366.72 412.03L366.96 412.62L367.20 413.21L367.44 413.79L367.67 414.36L367.91 414.93L368.15 415.50L368.39 416.06L368.63 416.62L368.86 417.17L369.10 417.71L369.34 418.25L369.58 418.79L369.81 419.32L370.05 419.84L370.29 420.37L370.53 420.88L370.76 421.39L371.00 421.90L371.24 422.40L371.48 422.90L371.71 423.39L371.95 423.88L372.19 424.37L372.43 424.85L372.66 425.32L372.90 425.79L373.14 426.26L373.38 426.72L373.62 427.18L373.85 427.63L374.09 428.08L374.33 428.53L374.57 428.97L374.80 429.41L375.04 429.84L375.28 430.27L375.52 430.70L375.75 431.12L375.99 431.54L376.23 431.95L376.47 432.36L376.70 432.77L376.94 433.17L377.18 433.57L377.42 433.97L377.65 434.36L377.89 434.75L378.13 435.13L378.37 435.51L378.61 435.89L378.84 436.26L379.08 436.63L379.32 437.00L379.56 437.37L379.79 437.73L380.03 438.08L380.27 438.44L380.51 438.79L380.74 439.14L380.98 439.48L381.22 439.82L381.46 440.16L381.69 440.50L381.93 440.83L382.17 441.16L382.41 441.48L382.64 441.81L382.88 442.13L383.12 442.44L383.36 442.76L383.60 443.07L383.83 443.38L384.07 443.68L384.31 443.99L384.55 444.29L384.78 444.59L385.02 444.88L385.26 445.17L385.50 445.46L385.73 445.75L385.97 446.03L386.21 446.32L386.45 446.59L386.68 446.87L386.92 447.15L387.16 447.42L387.40 447.69L387.64 447.95L387.87 448.22L388.11 448.48L388.35 448.74L388.59 449.00L388.82 449.25L389.06 449.51L389.30 449.76L389.54 450.00L389.77 450.25L390.01 450.49L390.25 450.74L390.49 450.98L390.72 451.21L390.96 451.45L391.20 451.68L391.44 451.91L391.67 452.14L391.91 452.37L392.15 452.59L392.39 452.82L392.63 453.04L392.86 453.26L393.10 453.47L393.34 453.69L393.58 453.90L393.81 454.11L394.05 454.32L394.29 454.53L394.53 454.74L394.76 454.94L395.00 455.14L395.24 455.34L395.48 455.54L395.71 455.74L395.95 455.93L396.19 456.13L396.43 456.32L396.66 456.51L396.90 456.70L397.14 456.88L397.38 457.07L397.62 457.25L397.85 457.43L398.09 457.61L398.33 457.79L398.57 457.97L398.80 458.15L399.04 458.32L399.28 458.49L399.52 458.66L399.75 458.83L399.99 459.00L400.23 459.17L400.47 459.33L400.70 459.50L400.94 459.66L401.18 459.82L401.42 459.98L401.65 460.14L401.89 460.29L402.13 460.45L402.37 460.60L402.61 460.76L402.84 460.91L403.08 461.06L403.32 461.21L403.56 461.36L403.79 461.50L404.03 461.65L404.27 461.79L404.51 461.93L404.74 462.08L404.98 462.22L405.22 462.35L405.46 462.49L405.69 462.63L405.93 462.77L406.17 462.90L406.41 463.03L406.65 463.16L406.88 463.30L407.12 463.43L407.36 463.55L407.60 463.68L407.83 463.81L408.07 463.93L408.31 464.06L408.55 464.18L408.78 464.31L409.02 464.43L409.26 464.55L409.50 464.67L409.73 464.79L409.97 464.90L410.21 465.02L410.45 465.13L410.68 465.25L410.92 465.36L411.16 465.48L411.40 465.59L411.64 465.70L411.87 465.81L412.11 465.92L412.35 466.03L412.59 466.13L412.82 466.24L413.06 466.34L413.30 466.45L413.54 466.55L413.77 466.66L414.01 466.76L414.25 466.86L414.49 466.96L414.72 467.06L414.96 467.16L415.20 467.26L415.44 467.35L415.67 467.45L415.91 467.54L416.15 467.64L416.39 467.73L416.63 467.83L416.86 467.92L417.10 468.01L417.34 468.10L417.58 468.19L417.81 468.28L418.05 468.37L418.29 468.46L418.53 468.55L418.76 468.63L419.00 468.72L419.24 468.80L419.48 468.89L419.71 468.97L419.95 469.06L420.19 469.14L420.43 469.22L420.66 469.30L420.90 469.38L421.14 469.46L421.38 469.54L421.62 469.62L421.85 469.70L422.09 469.78L422.33 469.85L422.57 469.93L422.80 470.01L423.04 470.08L423.28 470.15L423.52 470.23L423.75 470.30L423.99 470.37L424.23 470.45L424.47 470.52L424.70 470.59L424.94 470.66L425.18 470.73L425.42 470.80L425.66 470.87L425.89 470.94L426.13 471.00L426.37 471.07L426.61 471.14L426.84 471.21L427.08 471.27L427.32 471.34L427.56 471.40L427.79 471.47L428.03 471.53L428.27 471.59L428.51 471.66L428.74 471.72L428.98 471.78L429.22 471.84L429.46 471.90L429.69 471.96L429.93 472.02L430.17 472.08L430.41 472.14L430.65 472.20L430.88 472.26L431.12 472.32L431.36 472.37L431.60 472.43L431.83 472.49L432.07 472.54L432.31 472.60L432.55 472.65L432.78 472.71L433.02 472.76L433.26 472.82L433.50 472.87L433.73 472.92L433.97 472.97L434.21 473.03L434.45 473.08L434.68 473.13L434.92 473.18L435.16 473.23L435.40 473.28L435.64 473.33L435.87 473.38L436.11 473.43L436.35 473.48L436.59 473.53L436.82 473.58L437.06 473.63L437.30 473.67L437.54 473.72L437.77 473.77L438.01 473.81L438.25 473.86L438.49 473.91L438.72 473.95L438.96 474.00L439.20 474.04L439.44 474.09L439.67 474.13L439.91 474.17L440.15 474.22L440.39 474.26L440.63 474.30L440.86 474.35L441.10 474.39L441.34 474.43L441.58 474.47L441.81 474.51L442.05 474.55L442.29 474.59L442.53 474.63L442.76 474.68L443.00 474.71L443.24 474.75L443.48 474.79L443.71 474.83L443.95 474.87L444.19 474.91L444.43 474.95L444.67 474.99L444.90 475.02L445.14 475.06L445.38 475.10L445.62 475.14L445.85 475.17L446.09 475.21L446.33 475.24L446.57 475.28L446.80 475.32L447.04 475.35L447.28 475.39L447.52 475.42L447.75 475.46L447.99 475.49L448.23 475.52L448.47 475.56L448.70 475.59L448.94 475.63L449.18 475.66L449.42 475.69L449.66 475.72L449.89 475.76L450.13 475.79L450.37 475.82L450.61 475.85L450.84 475.88L451.08 475.92L451.32 475.95L451.56 475.98L451.79 476.01L452.03 476.04L452.27 476.07L452.51 476.10L452.74 476.13L452.98 476.16L453.22 476.19L453.46 476.22L453.69 476.25L453.93 476.28L454.17 476.30L454.41 476.33L454.65 476.36L454.88 476.39L455.12 476.42L455.36 476.44L455.60 476.47L455.83 476.50L456.07 476.53L456.31 476.55L456.55 476.58L456.78 476.61L457.02 476.63L457.26 476.66L457.50 476.69L457.73 476.71L457.97 476.74L458.21 476.76L458.45 476.79L458.68 476.81L458.92 476.84L459.16 476.86L459.40 476.89L459.64 476.91L459.87 476.94L460.11 476.96L460.35 476.99L460.59 477.01L460.82 477.03L461.06 477.06L461.30 477.08L461.54 477.10L461.77 477.13L462.01 477.15L462.25 477.17L462.49 477.20L462.72 477.22L462.96 477.24L463.20 477.26L463.44 477.29L463.68 477.31L463.91 477.33L464.15 477.35L464.39 477.37L464.63 477.39L464.86 477.41L465.10 477.44L465.34 477.46L465.58 477.48L465.81 477.50L466.05 477.52L466.29 477.54L466.53 477.56L466.76 477.58L467.00 477.60L467.24 477.62L467.48 477.64L467.71 477.66L467.95 477.68L468.19 477.70L468.43 477.72L468.67 477.74L468.90 477.76L469.14 477.78L469.38 477.79L469.62 477.81L469.85 477.83L470.09 477.85L470.33 477.87L470.57 477.89L470.80 477.90L471.04 477.92L471.28 477.94L471.52 477.96L471.75 477.98L471.99 477.99L472.23 478.01L472.47 478.03L472.70 478.05L472.94 478.06L473.18 478.08L473.42 478.10L473.66 478.11L473.89 478.13L474.13 478.15L474.37 478.16L474.61 478.18L474.84 478.20L475.08 478.21L475.32 478.23L475.56 478.24L475.79 478.26L476.03 478.28L476.27 478.29L476.51 478.31L476.74 478.32L476.98 478.34L477.22 478.35L477.46 478.37L477.69 478.38L477.93 478.40L478.17 478.41L478.41 478.43L478.65 478.44L478.88 478.46L479.12 478.47L479.36 478.49L479.60 478.50L479.83 478.52L480.07 478.53L480.31 478.54L480.55 478.56L480.78 478.57L481.02 478.59L481.26 478.60L481.50 478.61L481.73 478.63L481.97 478.64L482.21 478.65L482.45 478.67L482.69 478.68L482.92 478.69L483.16 478.71L483.40 478.72L483.64 478.73L483.87 478.75L484.11 478.76L484.35 478.77L484.59 478.78L484.82 478.80L485.06 478.81L485.30 478.82L485.54 478.83L485.77 478.85L486.01 478.86L486.25 478.87L486.49 478.88L486.72 478.89L486.96 478.91L487.20 478.92" stroke="#000" stroke-width="3.2" fill="none" stroke-dasharray="4.8 2.5"/>
<path d="M626.80 253.88L627.05 253.88L627.30 253.88L627.54 253.87L627.79 253.87L628.04 253.87L628.29 253.87L628.54 253.87L628.79 253.86L629.03 253.86L629.28 253.86L629.53 253.86L629.78 253.86L630.03 253.85L630.28 253.85L630.52 253.85L630.77 253.85L631.02 253.85L631.27 253.84L631.52 253.84L631.76 253.84L632.01 253.84L632.26 253.84L632.51 253.83L632.76 253.83L633.01 253.83L633.25 253.83L633.50 253.83L633.75 253.82L634.00 253.82L634.25 253.82L634.50 253.82L634.74 253.81L634.99 253.81L635.24 253.81L635.49 253.81L635.74 253.81L635.98 253.80L636.23 253.80L636.48 253.80L636.73 253.80L636.98 253.79L637.23 253.79L637.47 253.79L637.72 253.79L637.97 253.78L638.22 253.78L638.47 253.78L638.72 253.78L638.96 253.77L639.21 253.77L639.46 253.77L639.71 253.77L639.96 253.76L640.20 253.76L640.45 253.76L640.70 253.76L640.95 253.75L641.20 253.75L641.45 253.75L641.69 253.75L641.94 253.74L642.19 253.74L642.44 253.74L642.69 253.74L642.94 253.73L643.18 253.73L643.43 253.73L643.68 253.73L643.93 253.72L644.18 253.72L644.42 253.72L644.67 253.71L644.92 253.71L645.17 253.71L645.42 253.71L645.67 253.70L645.91 253.70L646.16 253.70L646.41 253.69L646.66 253.69L646.91 253.69L647.16 253.68L647.40 253.68L647.65 253.68L647.90 253.68L648.15 253.67L648.40 253.67L648.64 253.67L648.89 253.66L649.14 253.66L649.39 253.66L649.64 253.65L649.89 253.65L650.13 253.65L650.38 253.64L650.63 253.64L650.88 253.64L651.13 253.63L651.37 253.63L651.62 253.63L651.87 253.62L652.12 253.62L652.37 253.62L652.62 253.61L652.86 253.61L653.11 253.61L653.36 253.60L653.61 253.60L653.86 253.59L654.11 253.59L654.35 253.59L654.60 253.58L654.85 253.58L655.10 253.58L655.35 253.57L655.59 253.57L655.84 253.57L656.09 253.56L656.34 253.56L656.59 253.55L656.84 253.55L657.08 253.55L657.33 253.54L657.58 253.54L657.83 253.53L658.08 253.53L658.33 253.53L658.57 253.52L658.82 253.52L659.07 253.51L659.32 253.51L659.57 253.50L659.81 253.50L660.06 253.50L660.31 253.49L660.56 253.49L660.81 253.48L661.06 253.48L661.30 253.47L661.55 253.47L661.80 253.47L662.05 253.46L662.30 253.46L662.55 253.45L662.79 253.45L663.04 253.44L663.29 253.44L663.54 253.43L663.79 253.43L664.03 253.42L664.28 253.42L664.53 253.41L664.78 253.41L665.03 253.40L665.28 253.40L665.52 253.39L665.77 253.39L666.02 253.38L666.27 253.38L666.52 253.37L666.77 253.37L667.01 253.36L667.26 253.36L667.51 253.35L667.76 253.35L668.01 253.34L668.25 253.34L668.50 253.33L668.75 253.33L669.00 253.32L669.25 253.32L669.50 253.31L669.74 253.30L669.99 253.30L670.24 253.29L670.49 253.29L670.74 253.28L670.99 253.28L671.23 253.27L671.48 253.26L671.73 253.26L671.98 253.25L672.23 253.25L672.47 253.24L672.72 253.23L672.97 253.23L673.22 253.22L673.47 253.22L673.72 253.21L673.96 253.20L674.21 253.20L674.46 253.19L674.71 253.18L674.96 253.18L675.21 253.17L675.45 253.16L675.70 253.16L675.95 253.15L676.20 253.14L676.45 253.14L676.69 253.13L676.94 253.12L677.19 253.12L677.44 253.11L677.69 253.10L677.94 253.10L678.18 253.09L678.43 253.08L678.68 253.07L678.93 253.07L679.18 253.06L679.43 253.05L679.67 253.04L679.92 253.04L680.17 253.03L680.42 253.02L680.67 253.01L680.91 253.01L681.16 253.00L681.41 252.99L681.66 252.98L681.91 252.97L682.16 252.97L682.40 252.96L682.65 252.95L682.90 252.94L683.15 252.93L683.40 252.93L683.65 252.92L683.89 252.91L684.14 252.90L684.39 252.89L684.64 252.88L684.89 252.87L685.13 252.87L685.38 252.86L685.63 252.85L685.88 252.84L686.13 252.83L686.38 252.82L686.62 252.81L686.87 252.80L687.12 252.79L687.37 252.78L687.62 252.77L687.87 252.76L688.11 252.75L688.36 252.74L688.61 252.73L688.86 252.72L689.11 252.71L689.35 252.70L689.60 252.69L689.85 252.68L690.10 252.67L690.35 252.66L690.60 252.65L690.84 252.64L691.09 252.63L691.34 252.62L691.59 252.61L691.84 252.60L692.09 252.59L692.33 252.58L692.58 252.57L692.83 252.56L693.08 252.54L693.33 252.53L693.57 252.52L693.82 252.51L694.07 252.50L694.32 252.49L694.57 252.47L694.82 252.46L695.06 252.45L695.31 252.44L695.56 252.43L695.81 252.41L696.06 252.40L696.31 252.39L696.55 252.38L696.80 252.36L697.05 252.35L697.30 252.34L697.55 252.33L697.79 252.31L698.04 252.30L698.29 252.29L698.54 252.27L698.79 252.26L699.04 252.24L699.28 252.23L699.53 252.22L699.78 252.20L700.03 252.19L700.28 252.17L700.52 252.16L700.77 252.15L701.02 252.13L701.27 252.12L701.52 252.10L701.77 252.09L702.01 252.07L702.26 252.06L702.51 252.04L702.76 252.03L703.01 252.01L703.26 251.99L703.50 251.98L703.75 251.96L704.00 251.95L704.25 251.93L704.50 251.91L704.74 251.90L704.99 251.88L705.24 251.86L705.49 251.85L705.74 251.83L705.99 251.81L706.23 251.80L706.48 251.78L706.73 251.76L706.98 251.74L707.23 251.73L707.48 251.71L707.72 251.69L707.97 251.67L708.22 251.65L708.47 251.63L708.72 251.61L708.96 251.60L709.21 251.58L709.46 251.56L709.71 251.54L709.96 251.52L710.21 251.50L710.45 251.48L710.70 251.46L710.95 251.44L711.20 251.42L711.45 251.40L711.70 251.38L711.94 251.35L712.19 251.33L712.44 251.31L712.69 251.29L712.94 251.27L713.18 251.25L713.43 251.22L713.68 251.20L713.93 251.18L714.18 251.16L714.43 251.13L714.67 251.11L714.92 251.09L715.17 251.06L715.42 251.04L715.67 251.02L715.92 250.99L716.16 250.97L716.41 250.94L716.66 250.92L716.91 250.89L717.16 250.87L717.40 250.84L717.65 250.82L717.90 250.79L718.15 250.77L718.40 250.74L718.65 250.71L718.89 250.69L719.14 250.66L719.39 250.63L719.64 250.61L719.89 250.58L720.14 250.55L720.38 250.52L720.63 250.49L720.88 250.46L721.13 250.44L721.38 250.41L721.62 250.38L721.87 250.35L722.12 250.32L722.37 250.29L722.62 250.26L722.87 250.23L723.11 250.19L723.36 250.16L723.61 250.13L723.86 250.10L724.11 250.07L724.36 250.03L724.60 250.00L724.85 249.97L725.10 249.94L725.35 249.90L725.60 249.87L725.84 249.83L726.09 249.80L726.34 249.76L726.59 249.73L726.84 249.69L727.09 249.66L727.33 249.62L727.58 249.58L727.83 249.55L728.08 249.51L728.33 249.47L728.58 249.44L728.82 249.40L729.07 249.36L729.32 249.32L729.57 249.28L729.82 249.24L730.06 249.20L730.31 249.16L730.56 249.12L730.81 249.08L731.06 249.04L731.31 249.00L731.55 248.95L731.80 248.91L732.05 248.87L732.30 248.83L732.55 248.78L732.80 248.74L733.04 248.69L733.29 248.65L733.54 248.60L733.79 248.56L734.04 248.51L734.28 248.46L734.53 248.42L734.78 248.37L735.03 248.32L735.28 248.27L735.53 248.23L735.77 248.18L736.02 248.13L736.27 248.08L736.52 248.03L736.77 247.97L737.02 247.92L737.26 247.87L737.51 247.82L737.76 247.77L738.01 247.71L738.26 247.66L738.50 247.60L738.75 247.55L739.00 247.49L739.25 247.44L739.50 247.38L739.75 247.32L739.99 247.27L740.24 247.21L740.49 247.15L740.74 247.09L740.99 247.03L741.24 246.97L741.48 246.91L741.73 246.85L741.98 246.79L742.23 246.72L742.48 246.66L742.72 246.60L742.97 246.53L743.22 246.47L743.47 246.40L743.72 246.34L743.97 246.27L744.21 246.20L744.46 246.14L744.71 246.07L744.96 246.00L745.21 245.93L745.45 245.86L745.70 245.79L745.95 245.72L746.20 245.64L746.45 245.57L746.70 245.50L746.94 245.42L747.19 245.35L747.44 245.27L747.69 245.19L747.94 245.12L748.19 245.04L748.43 244.96L748.68 244.88L748.93 244.80L749.18 244.72L749.43 244.64L749.67 244.56L749.92 244.47L750.17 244.39L750.42 244.31L750.67 244.22L750.92 244.13L751.16 244.05L751.41 243.96L751.66 243.87L751.91 243.78L752.16 243.69L752.41 243.60L752.65 243.51L752.90 243.42L753.15 243.32L753.40 243.23L753.65 243.13L753.89 243.04L754.14 242.94L754.39 242.84L754.64 242.74L754.89 242.64L755.14 242.54L755.38 242.44L755.63 242.34L755.88 242.24L756.13 242.13L756.38 242.03L756.63 241.92L756.87 241.81L757.12 241.71L757.37 241.60L757.62 241.49L757.87 241.38L758.11 241.26L758.36 241.15L758.61 241.04L758.86 240.92L759.11 240.81L759.36 240.69L759.60 240.57L759.85 240.45L760.10 240.33L760.35 240.21L760.60 240.09L760.85 239.97L761.09 239.84L761.34 239.72L761.59 239.59L761.84 239.46L762.09 239.34L762.33 239.21L762.58 239.08L762.83 238.94L763.08 238.81L763.33 238.68L763.58 238.54L763.82 238.40L764.07 238.27L764.32 238.13L764.57 237.99L764.82 237.85L765.07 237.70L765.31 237.56L765.56 237.42L765.81 237.27L766.06 237.12L766.31 236.98L766.55 236.83L766.80 236.68L767.05 236.52L767.30 236.37L767.55 236.22L767.80 236.06L768.04 235.90L768.29 235.75L768.54 235.59L768.79 235.43L769.04 235.26L769.29 235.10L769.53 234.94L769.78 234.77L770.03 234.61L770.28 234.44L770.53 234.27L770.77 234.10L771.02 233.93L771.27 233.75L771.52 233.58L771.77 233.40L772.02 233.23L772.26 233.05L772.51 232.87L772.76 232.69L773.01 232.50L773.26 232.32L773.51 232.14L773.75 231.95L774.00 231.76L774.25 231.57L774.50 231.38L774.75 231.19L774.99 231.00L775.24 230.81L775.49 230.61L775.74 230.42L775.99 230.22L776.24 230.02L776.48 229.82L776.73 229.62L776.98 229.42L777.23 229.21L777.48 229.01L777.73 228.80L777.97 228.60L778.22 228.39L778.47 228.18L778.72 227.97L778.97 227.75L779.21 227.54L779.46 227.33L779.71 227.11L779.96 226.90L780.21 226.68L780.46 226.46L780.70 226.24L780.95 226.02L781.20 225.80L781.45 225.57L781.70 225.35L781.95 225.12L782.19 224.90L782.44 224.67L782.69 224.44L782.94 224.21L783.19 223.99L783.43 223.75L783.68 223.52L783.93 223.29L784.18 223.06L784.43 222.82L784.68 222.59L784.92 222.35L785.17 222.12L785.42 221.88L785.67 221.64L785.92 221.41L786.17 221.17L786.41 220.93L786.66 220.69L786.91 220.45L787.16 220.21L787.41 219.97L787.65 219.72L787.90 219.48L788.15 219.24L788.40 219.00L788.65 218.76L788.90 218.51L789.14 218.27L789.39 218.03L789.64 217.78L789.89 217.54L790.14 217.30L790.38 217.05L790.63 216.81L790.88 216.57L791.13 216.32L791.38 216.08L791.63 215.84L791.87 215.60L792.12 215.36L792.37 215.12L792.62 214.88L792.87 214.64L793.12 214.40L793.36 214.16L793.61 213.92L793.86 213.68L794.11 213.45L794.36 213.21L794.60 212.98L794.85 212.74L795.10 212.51L795.35 212.28L795.60 212.05L795.85 211.82L796.09 211.59L796.34 211.37L796.59 211.14L796.84 210.92L797.09 210.70L797.34 210.48L797.58 210.26L797.83 210.04L798.08 209.83L798.33 209.62L798.58 209.41L798.82 209.20L799.07 208.99L799.32 208.79L799.57 208.58L799.82 208.38L800.07 208.19L800.31 207.99L800.56 207.80L800.81 207.61L801.06 207.42L801.31 207.24L801.56 207.05L801.80 206.88L802.05 206.70L802.30 206.53L802.55 206.36L802.80 206.19L803.04 206.02L803.29 205.86L803.54 205.71L803.79 205.55L804.04 205.40L804.29 205.25L804.53 205.11L804.78 204.97L805.03 204.83L805.28 204.70L805.53 204.57L805.78 204.45L806.02 204.33L806.27 204.21L806.52 204.09L806.77 203.99L807.02 203.88L807.26 203.78L807.51 203.68L807.76 203.59L808.01 203.50L808.26 203.41L808.51 203.33L808.75 203.26L809.00 203.18L809.25 203.12L809.50 203.05L809.75 203.00L810.00 202.94L810.24 202.89L810.49 202.85L810.74 202.81L810.99 202.77L811.24 202.74L811.48 202.71L811.73 202.69L811.98 202.67L812.23 202.66L812.48 202.65L812.73 202.65L812.97 202.65L813.22 202.65L813.47 202.66L813.72 202.68L813.97 202.69L814.22 202.72L814.46 202.75L814.71 202.78L814.96 202.82L815.21 202.86L815.46 202.91L815.70 202.96L815.95 203.01L816.20 203.07L816.45 203.14L816.70 203.20L816.95 203.28L817.19 203.36L817.44 203.44L817.69 203.52L817.94 203.61L818.19 203.71L818.44 203.81L818.68 203.91L818.93 204.02L819.18 204.13L819.43 204.24L819.68 204.36L819.92 204.48L820.17 204.61L820.42 204.74L820.67 204.87L820.92 205.01L821.17 205.15L821.41 205.30L821.66 205.44L821.91 205.60L822.16 205.75L822.41 205.91L822.66 206.07L822.90 206.24L823.15 206.40L823.40 206.57L823.65 206.75L823.90 206.93L824.14 207.11L824.39 207.29L824.64 207.47L824.89 207.66L825.14 207.85L825.39 208.05L825.63 208.24L825.88 208.44L826.13 208.64L826.38 208.84L826.63 209.05L826.88 209.26L827.12 209.46L827.37 209.68L827.62 209.89L827.87 210.10L828.12 210.32L828.36 210.54L828.61 210.76L828.86 210.98L829.11 211.21L829.36 211.43L829.61 211.66L829.85 211.89L830.10 212.11L830.35 212.34L830.60 212.58L830.85 212.81L831.10 213.04L831.34 213.28L831.59 213.51L831.84 213.75L832.09 213.99L832.34 214.23L832.58 214.46L832.83 214.70L833.08 214.94L833.33 215.18L833.58 215.43L833.83 215.67L834.07 215.91L834.32 216.15L834.57 216.39L834.82 216.64L835.07 216.88L835.32 217.12L835.56 217.37L835.81 217.61L836.06 217.85L836.31 218.10L836.56 218.34L836.80 218.58L837.05 218.82L837.30 219.07L837.55 219.31L837.80 219.55L838.05 219.79L838.29 220.03L838.54 220.28L838.79 220.52L839.04 220.76L839.29 221.00L839.53 221.23L839.78 221.47L840.03 221.71L840.28 221.95L840.53 222.18L840.78 222.42L841.02 222.66L841.27 222.89L841.52 223.12L841.77 223.36L842.02 223.59L842.27 223.82L842.51 224.05L842.76 224.28L843.01 224.51L843.26 224.74L843.51 224.96L843.75 225.19L844.00 225.41L844.25 225.64L844.50 225.86L844.75 226.08L845.00 226.30L845.24 226.52L845.49 226.74L845.74 226.96L845.99 227.17L846.24 227.39L846.49 227.60L846.73 227.81L846.98 228.03L847.23 228.24L847.48 228.45L847.73 228.65L847.97 228.86L848.22 229.07L848.47 229.27L848.72 229.47L848.97 229.68L849.22 229.88L849.46 230.08L849.71 230.28L849.96 230.47L850.21 230.67L850.46 230.86L850.71 231.06L850.95 231.25L851.20 231.44L851.45 231.63L851.70 231.82L851.95 232.00L852.19 232.19L852.44 232.37L852.69 232.56L852.94 232.74L853.19 232.92L853.44 233.10L853.68 233.28L853.93 233.45L854.18 233.63L854.43 233.80L854.68 233.97L854.93 234.15L855.17 234.32L855.42 234.48L855.67 234.65L855.92 234.82L856.17 234.98L856.41 235.15L856.66 235.31L856.91 235.47L857.16 235.63L857.41 235.79L857.66 235.95L857.90 236.11L858.15 236.26L858.40 236.41L858.65 236.57L858.90 236.72L859.15 236.87L859.39 237.02L859.64 237.17L859.89 237.31L860.14 237.46L860.39 237.60L860.63 237.75L860.88 237.89L861.13 238.03L861.38 238.17L861.63 238.31L861.88 238.44L862.12 238.58L862.37 238.71L862.62 238.85L862.87 238.98L863.12 239.11L863.37 239.24L863.61 239.37L863.86 239.50L864.11 239.63L864.36 239.75L864.61 239.88L864.85 240.00L865.10 240.13L865.35 240.25L865.60 240.37L865.85 240.49L866.10 240.61L866.34 240.72L866.59 240.84L866.84 240.96L867.09 241.07L867.34 241.18L867.59 241.30L867.83 241.41L868.08 241.52L868.33 241.63L868.58 241.74L868.83 241.84L869.07 241.95L869.32 242.06L869.57 242.16L869.82 242.27L870.07 242.37L870.32 242.47L870.56 242.57L870.81 242.67L871.06 242.77L871.31 242.87L871.56 242.97L871.81 243.06L872.05 243.16L872.30 243.26L872.55 243.35L872.80 243.44L873.05 243.53L873.29 243.63L873.54 243.72L873.79 243.81L874.04 243.90L874.29 243.98L874.54 244.07L874.78 244.16L875.03 244.24L875.28 244.33L875.53 244.41L875.78 244.50L876.03 244.58L876.27 244.66L876.52 244.74L876.77 244.82L877.02 244.90L877.27 244.98L877.51 245.06L877.76 245.14L878.01 245.22L878.26 245.29L878.51 245.37L878.76 245.44L879.00 245.52L879.25 245.59L879.50 245.66L879.75 245.74L880.00 245.81L880.25 245.88L880.49 245.95L880.74 246.02L880.99 246.09L881.24 246.16L881.49 246.22L881.73 246.29L881.98 246.36L882.23 246.42L882.48 246.49L882.73 246.55L882.98 246.62L883.22 246.68L883.47 246.74L883.72 246.80L883.97 246.87L884.22 246.93L884.46 246.99L884.71 247.05L884.96 247.11L885.21 247.17L885.46 247.23L885.71 247.28L885.95 247.34L886.20 247.40L886.45 247.45L886.70 247.51L886.95 247.56L887.20 247.62L887.44 247.67L887.69 247.73L887.94 247.78L888.19 247.83L888.44 247.89L888.68 247.94L888.93 247.99L889.18 248.04L889.43 248.09L889.68 248.14L889.93 248.19L890.17 248.24L890.42 248.29L890.67 248.34L890.92 248.38L891.17 248.43L891.42 248.48L891.66 248.52L891.91 248.57L892.16 248.62L892.41 248.66L892.66 248.71L892.90 248.75L893.15 248.79L893.40 248.84L893.65 248.88L893.90 248.92L894.15 248.97L894.39 249.01L894.64 249.05L894.89 249.09L895.14 249.13L895.39 249.17L895.64 249.21L895.88 249.25L896.13 249.29L896.38 249.33L896.63 249.37L896.88 249.41L897.12 249.45L897.37 249.48L897.62 249.52L897.87 249.56L898.12 249.60L898.37 249.63L898.61 249.67L898.86 249.70L899.11 249.74L899.36 249.77L899.61 249.81L899.86 249.84L900.10 249.88L900.35 249.91L900.60 249.94L900.85 249.98L901.10 250.01L901.34 250.04L901.59 250.08L901.84 250.11L902.09 250.14L902.34 250.17L902.59 250.20L902.83 250.23L903.08 250.26L903.33 250.30L903.58 250.33L903.83 250.36L904.08 250.38L904.32 250.41L904.57 250.44L904.82 250.47L905.07 250.50L905.32 250.53L905.56 250.56L905.81 250.59L906.06 250.61L906.31 250.64L906.56 250.67L906.81 250.69L907.05 250.72L907.30 250.75L907.55 250.77L907.80 250.80L908.05 250.83L908.30 250.85L908.54 250.88L908.79 250.90L909.04 250.93L909.29 250.95L909.54 250.98L909.78 251.00L910.03 251.02L910.28 251.05L910.53 251.07L910.78 251.09L911.03 251.12L911.27 251.14L911.52 251.16L911.77 251.19L912.02 251.21L912.27 251.23L912.52 251.25L912.76 251.28L913.01 251.30L913.26 251.32L913.51 251.34L913.76 251.36L914.00 251.38L914.25 251.40L914.50 251.42L914.75 251.44L915.00 251.46L915.25 251.48L915.49 251.50L915.74 251.52L915.99 251.54L916.24 251.56L916.49 251.58L916.74 251.60L916.98 251.62L917.23 251.64L917.48 251.66L917.73 251.68L917.98 251.69L918.22 251.71L918.47 251.73L918.72 251.75L918.97 251.77L919.22 251.78L919.47 251.80L919.71 251.82L919.96 251.84L920.21 251.85L920.46 251.87L920.71 251.89L920.96 251.90L921.20 251.92L921.45 251.94L921.70 251.95L921.95 251.97L922.20 251.98L922.44 252.00L922.69 252.01L922.94 252.03L923.19 252.05L923.44 252.06L923.69 252.08L923.93 252.09L924.18 252.11L924.43 252.12L924.68 252.14L924.93 252.15L925.18 252.16L925.42 252.18L925.67 252.19L925.92 252.21L926.17 252.22L926.42 252.23L926.66 252.25L926.91 252.26L927.16 252.28L927.41 252.29L927.66 252.30L927.91 252.32L928.15 252.33L928.40 252.34L928.65 252.35L928.90 252.37L929.15 252.38L929.39 252.39L929.64 252.41L929.89 252.42L930.14 252.43L930.39 252.44L930.64 252.45L930.88 252.47L931.13 252.48L931.38 252.49L931.63 252.50L931.88 252.51L932.13 252.52L932.37 252.54L932.62 252.55L932.87 252.56L933.12 252.57L933.37 252.58L933.61 252.59L933.86 252.60L934.11 252.61L934.36 252.62L934.61 252.64L934.86 252.65L935.10 252.66L935.35 252.67L935.60 252.68L935.85 252.69L936.10 252.70L936.35 252.71L936.59 252.72L936.84 252.73L937.09 252.74L937.34 252.75L937.59 252.76L937.83 252.77L938.08 252.78L938.33 252.79L938.58 252.79L938.83 252.80L939.08 252.81L939.32 252.82L939.57 252.83L939.82 252.84L940.07 252.85L940.32 252.86L940.57 252.87L940.81 252.88L941.06 252.89L941.31 252.89L941.56 252.90L941.81 252.91L942.05 252.92L942.30 252.93L942.55 252.94L942.80 252.94L943.05 252.95L943.30 252.96L943.54 252.97L943.79 252.98L944.04 252.98L944.29 252.99L944.54 253.00L944.79 253.01L945.03 253.02L945.28 253.02L945.53 253.03L945.78 253.04L946.03 253.05L946.27 253.05L946.52 253.06L946.77 253.07L947.02 253.08L947.27 253.08L947.52 253.09L947.76 253.10L948.01 253.10L948.26 253.11L948.51 253.12L948.76 253.13L949.01 253.13L949.25 253.14L949.50 253.15L949.75 253.15L950.00 253.16L950.25 253.17L950.49 253.17L950.74 253.18L950.99 253.19L951.24 253.19L951.49 253.20L951.74 253.20L951.98 253.21L952.23 253.22L952.48 253.22L952.73 253.23L952.98 253.24L953.23 253.24L953.47 253.25L953.72 253.25L953.97 253.26L954.22 253.27L954.47 253.27L954.71 253.28L954.96 253.28L955.21 253.29L955.46 253.29L955.71 253.30L955.96 253.31L956.20 253.31L956.45 253.32L956.70 253.32L956.95 253.33L957.20 253.33L957.45 253.34L957.69 253.34L957.94 253.35L958.19 253.36L958.44 253.36L958.69 253.37L958.93 253.37L959.18 253.38L959.43 253.38L959.68 253.39L959.93 253.39L960.18 253.40L960.42 253.40L960.67 253.41L960.92 253.41L961.17 253.42L961.42 253.42L961.67 253.43L961.91 253.43L962.16 253.43L962.41 253.44L962.66 253.44L962.91 253.45L963.15 253.45L963.40 253.46L963.65 253.46L963.90 253.47L964.15 253.47L964.40 253.48L964.64 253.48L964.89 253.48L965.14 253.49L965.39 253.49L965.64 253.50L965.89 253.50L966.13 253.51L966.38 253.51L966.63 253.51L966.88 253.52L967.13 253.52L967.37 253.53L967.62 253.53L967.87 253.53L968.12 253.54L968.37 253.54L968.62 253.55L968.86 253.55L969.11 253.55L969.36 253.56L969.61 253.56L969.86 253.57L970.11 253.57L970.35 253.57L970.60 253.58L970.85 253.58L971.10 253.58L971.35 253.59L971.59 253.59L971.84 253.60L972.09 253.60L972.34 253.60L972.59 253.61L972.84 253.61L973.08 253.61L973.33 253.62L973.58 253.62L973.83 253.62L974.08 253.63L974.33 253.63L974.57 253.63L974.82 253.64L975.07 253.64L975.32 253.64L975.57 253.65L975.81 253.65L976.06 253.65L976.31 253.66L976.56 253.66L976.81 253.66L977.06 253.67L977.30 253.67L977.55 253.67L977.80 253.68L978.05 253.68L978.30 253.68L978.54 253.69L978.79 253.69L979.04 253.69L979.29 253.69L979.54 253.70L979.79 253.70L980.03 253.70L980.28 253.71L980.53 253.71L980.78 253.71L981.03 253.71L981.28 253.72L981.52 253.72L981.77 253.72L982.02 253.73L982.27 253.73L982.52 253.73L982.76 253.73L983.01 253.74L983.26 253.74L983.51 253.74L983.76 253.74L984.01 253.75L984.25 253.75L984.50 253.75L984.75 253.76L985.00 253.76L985.25 253.76L985.50 253.76L985.74 253.77L985.99 253.77L986.24 253.77L986.49 253.77L986.74 253.78L986.98 253.78L987.23 253.78L987.48 253.78L987.73 253.79L987.98 253.79L988.23 253.79L988.47 253.79L988.72 253.79L988.97 253.80L989.22 253.80L989.47 253.80L989.72 253.80L989.96 253.81L990.21 253.81L990.46 253.81L990.71 253.81L990.96 253.82L991.20 253.82L991.45 253.82L991.70 253.82L991.95 253.82L992.20 253.83L992.45 253.83L992.69 253.83L992.94 253.83L993.19 253.83L993.44 253.84L993.69 253.84L993.94 253.84L994.18 253.84L994.43 253.85L994.68 253.85L994.93 253.85L995.18 253.85L995.42 253.85L995.67 253.86L995.92 253.86L996.17 253.86L996.42 253.86L996.67 253.86L996.91 253.87L997.16 253.87L997.41 253.87L997.66 253.87L997.91 253.87L998.16 253.87L998.40 253.88L998.65 253.88L998.90 253.88" stroke="#000" stroke-width="3.2" fill="none" stroke-dasharray="4.8 2.5"/>
<path d="M241.13 970.85L241.15 970.83L241.18 970.82L241.20 970.81L241.23 970.80L241.25 970.78L241.28 970.77L241.30 970.76L241.33 970.75L241.35 970.73L241.38 970.72L241.40 970.71L241.43 970.70L241.45 970.68L241.48 970.67L241.50 970.66L241.53 970.64L241.55 970.63L241.58 970.62L241.60 970.60L241.63 970.59L241.65 970.58L241.68 970.56L241.70 970.55L241.73 970.53L241.75 970.52L241.78 970.51L241.80 970.49L241.83 970.48L241.85 970.46L241.88 970.45L241.90 970.43L241.93 970.42L241.95 970.40L241.98 970.39L242.00 970.37L242.03 970.36L242.05 970.34L242.08 970.33L242.10 970.31L242.13 970.30L242.15 970.28L242.18 970.27L242.20 970.25L242.23 970.24L242.26 970.22L242.28 970.20L242.31 970.19L242.33 970.17L242.36 970.16L242.38 970.14L242.41 970.12L242.43 970.11L242.46 970.09L242.48 970.07L242.51 970.06L242.53 970.04L242.56 970.02L242.58 970.00L242.61 969.99L242.63 969.97L242.66 969.95L242.68 969.93L242.71 969.92L242.73 969.90L242.76 969.88L242.78 969.86L242.81 969.84L242.83 969.83L242.86 969.81L242.88 969.79L242.91 969.77L242.93 969.75L242.96 969.73L242.98 969.71L243.01 969.69L243.03 969.68L243.06 969.66L243.08 969.64L243.11 969.62L243.13 969.60L243.16 969.58L243.18 969.56L243.21 969.54L243.23 969.52L243.26 969.50L243.28 969.48L243.31 969.45L243.33 969.43L243.36 969.41L243.38 969.39L243.41 969.37L243.44 969.35L243.46 969.33L243.49 969.31L243.51 969.28L243.54 969.26L243.56 969.24L243.59 969.22L243.61 969.20L243.64 969.17L243.66 969.15L243.69 969.13L243.71 969.10L243.74 969.08L243.76 969.06L243.79 969.04L243.81 969.01L243.84 968.99L243.86 968.96L243.89 968.94L243.91 968.92L243.94 968.89L243.96 968.87L243.99 968.84L244.01 968.82L244.04 968.79L244.06 968.77L244.09 968.74L244.11 968.72L244.14 968.69L244.16 968.66L244.19 968.64L244.21 968.61L244.24 968.59L244.26 968.56L244.29 968.53L244.31 968.51L244.34 968.48L244.36 968.45L244.39 968.42L244.41 968.40L244.44 968.37L244.46 968.34L244.49 968.31L244.51 968.28L244.54 968.26L244.57 968.23L244.59 968.20L244.62 968.17L244.64 968.14L244.67 968.11L244.69 968.08L244.72 968.05L244.74 968.02L244.77 967.99L244.79 967.96L244.82 967.93L244.84 967.90L244.87 967.86L244.89 967.83L244.92 967.80L244.94 967.77L244.97 967.74L244.99 967.71L245.02 967.67L245.04 967.64L245.07 967.61L245.09 967.57L245.12 967.54L245.14 967.51L245.17 967.47L245.19 967.44L245.22 967.40L245.24 967.37L245.27 967.33L245.29 967.30L245.32 967.26L245.34 967.23L245.37 967.19L245.39 967.16L245.42 967.12L245.44 967.08L245.47 967.05L245.49 967.01L245.52 966.97L245.54 966.93L245.57 966.89L245.59 966.86L245.62 966.82L245.64 966.78L245.67 966.74L245.70 966.70L245.72 966.66L245.75 966.62L245.77 966.58L245.80 966.54L245.82 966.50L245.85 966.46L245.87 966.42L245.90 966.37L245.92 966.33L245.95 966.29L245.97 966.25L246.00 966.20L246.02 966.16L246.05 966.12L246.07 966.07L246.10 966.03L246.12 965.98L246.15 965.94L246.17 965.89L246.20 965.85L246.22 965.80L246.25 965.76L246.27 965.71L246.30 965.66L246.32 965.62L246.35 965.57L246.37 965.52L246.40 965.47L246.42 965.42L246.45 965.37L246.47 965.32L246.50 965.28L246.52 965.22L246.55 965.17L246.57 965.12L246.60 965.07L246.62 965.02L246.65 964.97L246.67 964.92L246.70 964.86L246.72 964.81L246.75 964.76L246.77 964.70L246.80 964.65L246.82 964.59L246.85 964.54L246.88 964.48L246.90 964.43L246.93 964.37L246.95 964.31L246.98 964.26L247.00 964.20L247.03 964.14L247.05 964.08L247.08 964.02L247.10 963.96L247.13 963.90L247.15 963.84L247.18 963.78L247.20 963.72L247.23 963.66L247.25 963.59L247.28 963.53L247.30 963.47L247.33 963.40L247.35 963.34L247.38 963.27L247.40 963.21L247.43 963.14L247.45 963.08L247.48 963.01L247.50 962.94L247.53 962.88L247.55 962.81L247.58 962.74L247.60 962.67L247.63 962.60L247.65 962.53L247.68 962.46L247.70 962.38L247.73 962.31L247.75 962.24L247.78 962.17L247.80 962.09L247.83 962.02L247.85 961.94L247.88 961.87L247.90 961.79L247.93 961.71L247.95 961.64L247.98 961.56L248.01 961.48L248.03 961.40L248.06 961.32L248.08 961.24L248.11 961.16L248.13 961.07L248.16 960.99L248.18 960.91L248.21 960.82L248.23 960.74L248.26 960.65L248.28 960.57L248.31 960.48L248.33 960.39L248.36 960.31L248.38 960.22L248.41 960.13L248.43 960.04L248.46 959.95L248.48 959.85L248.51 959.76L248.53 959.67L248.56 959.57L248.58 959.48L248.61 959.38L248.63 959.29L248.66 959.19L248.68 959.09L248.71 958.99L248.73 958.89L248.76 958.79L248.78 958.69L248.81 958.59L248.83 958.49L248.86 958.38L248.88 958.28L248.91 958.17L248.93 958.07L248.96 957.96L248.98 957.85L249.01 957.74L249.03 957.63L249.06 957.52L249.08 957.41L249.11 957.30L249.13 957.18L249.16 957.07L249.19 956.95L249.21 956.84L249.24 956.72L249.26 956.60L249.29 956.48L249.31 956.36L249.34 956.24L249.36 956.12L249.39 956.00L249.41 955.87L249.44 955.75L249.46 955.62L249.49 955.49L249.51 955.36L249.54 955.23L249.56 955.10L249.59 954.97L249.61 954.84L249.64 954.70L249.66 954.57L249.69 954.43L249.71 954.29L249.74 954.15L249.76 954.01L249.79 953.87L249.81 953.73L249.84 953.58L249.86 953.44L249.89 953.29L249.91 953.15L249.94 953.00L249.96 952.85L249.99 952.70L250.01 952.54L250.04 952.39L250.06 952.23L250.09 952.08L250.11 951.92L250.14 951.76L250.16 951.60L250.19 951.44L250.21 951.27L250.24 951.11L250.26 950.94L250.29 950.77L250.32 950.60L250.34 950.43L250.37 950.26L250.39 950.09L250.42 949.91L250.44 949.73L250.47 949.56L250.49 949.38L250.52 949.19L250.54 949.01L250.57 948.83L250.59 948.64L250.62 948.45L250.64 948.26L250.67 948.07L250.69 947.88L250.72 947.68L250.74 947.49L250.77 947.29L250.79 947.09L250.82 946.89L250.84 946.68L250.87 946.48L250.89 946.27L250.92 946.06L250.94 945.85L250.97 945.64L250.99 945.42L251.02 945.21L251.04 944.99L251.07 944.77L251.09 944.54L251.12 944.32L251.14 944.09L251.17 943.86L251.19 943.63L251.22 943.40L251.24 943.17L251.27 942.93L251.29 942.69L251.32 942.45L251.34 942.21L251.37 941.96L251.39 941.71L251.42 941.46L251.44 941.21L251.47 940.95L251.50 940.70L251.52 940.44L251.55 940.18L251.57 939.91L251.60 939.65L251.62 939.38L251.65 939.11L251.67 938.83L251.70 938.56L251.72 938.28L251.75 938.00L251.77 937.71L251.80 937.43L251.82 937.14L251.85 936.85L251.87 936.55L251.90 936.26L251.92 935.96L251.95 935.65L251.97 935.35L252.00 935.04L252.02 934.73L252.05 934.42L252.07 934.10L252.10 933.78L252.12 933.46L252.15 933.13L252.17 932.80L252.20 932.47L252.22 932.14L252.25 931.80L252.27 931.46L252.30 931.12L252.32 930.77L252.35 930.42L252.37 930.07L252.40 929.71L252.42 929.35L252.45 928.99L252.47 928.62L252.50 928.25L252.52 927.88L252.55 927.50L252.57 927.12L252.60 926.74L252.63 926.35L252.65 925.96L252.68 925.56L252.70 925.17L252.73 924.76L252.75 924.36L252.78 923.95L252.80 923.54L252.83 923.12L252.85 922.70L252.88 922.28L252.90 921.85L252.93 921.41L252.95 920.98L252.98 920.54L253.00 920.09L253.03 919.64L253.05 919.19L253.08 918.73L253.10 918.27L253.13 917.81L253.15 917.34L253.18 916.86L253.20 916.39L253.23 915.90L253.25 915.42L253.28 914.92L253.30 914.43L253.33 913.93L253.35 913.42L253.38 912.91L253.40 912.39L253.43 911.88L253.45 911.35L253.48 910.82L253.50 910.29L253.53 909.75L253.55 909.20L253.58 908.65L253.60 908.10L253.63 907.54L253.65 906.98L253.68 906.41L253.70 905.83L253.73 905.25L253.76 904.67L253.78 904.08L253.81 903.48L253.83 902.88L253.86 902.27L253.88 901.66L253.91 901.04L253.93 900.42L253.96 899.79L253.98 899.15L254.01 898.51L254.03 897.87L254.06 897.21L254.08 896.55L254.11 895.89L254.13 895.22L254.16 894.54L254.18 893.86L254.21 893.17L254.23 892.48L254.26 891.78L254.28 891.07L254.31 890.35L254.33 889.63L254.36 888.91L254.38 888.17L254.41 887.43L254.43 886.69L254.46 885.94L254.48 885.18L254.51 884.41L254.53 883.64L254.56 882.86L254.58 882.07L254.61 881.28L254.63 880.48L254.66 879.67L254.68 878.86L254.71 878.03L254.73 877.21L254.76 876.37L254.78 875.53L254.81 874.68L254.83 873.82L254.86 872.96L254.88 872.08L254.91 871.20L254.94 870.32L254.96 869.42L254.99 868.52L255.01 867.61L255.04 866.69L255.06 865.77L255.09 864.83L255.11 863.89L255.14 862.94L255.16 861.99L255.19 861.02L255.21 860.05L255.24 859.07L255.26 858.08L255.29 857.09L255.31 856.08L255.34 855.07L255.36 854.05L255.39 853.02L255.41 851.99L255.44 850.94L255.46 849.89L255.49 848.83L255.51 847.76L255.54 846.68L255.56 845.59L255.59 844.50L255.61 843.40L255.64 842.29L255.66 841.17L255.69 840.04L255.71 838.90L255.74 837.76L255.76 836.60L255.79 835.44L255.81 834.27L255.84 833.09L255.86 831.91L255.89 830.71L255.91 829.51L255.94 828.29L255.96 827.07L255.99 825.84L256.01 824.60L256.04 823.36L256.07 822.10L256.09 820.84L256.12 819.57L256.14 818.29L256.17 817.00L256.19 815.70L256.22 814.40L256.24 813.08L256.27 811.76L256.29 810.43L256.32 809.09L256.34 807.75L256.37 806.39L256.39 805.03L256.42 803.66L256.44 802.28L256.47 800.89L256.49 799.50L256.52 798.10L256.54 796.69L256.57 795.27L256.59 793.85L256.62 792.42L256.64 790.98L256.67 789.53L256.69 788.08L256.72 786.62L256.74 785.15L256.77 783.68L256.79 782.20L256.82 780.71L256.84 779.21L256.87 777.71L256.89 776.21L256.92 774.69L256.94 773.17L256.97 771.65L256.99 770.12L257.02 768.58L257.04 767.04L257.07 765.50L257.09 763.94L257.12 762.39L257.14 760.83L257.17 759.26L257.19 757.69L257.22 756.12L257.25 754.54L257.27 752.96L257.30 751.37L257.32 749.79L257.35 748.19L257.37 746.60L257.40 745.00L257.42 743.40L257.45 741.80L257.47 740.20L257.50 738.59L257.52 736.99L257.55 735.38L257.57 733.77L257.60 732.17L257.62 730.56L257.65 728.95L257.67 727.34L257.70 725.73L257.72 724.13L257.75 722.52L257.77 720.92L257.80 719.32L257.82 717.72L257.85 716.12L257.87 714.53L257.90 712.94L257.92 711.35L257.95 709.77L257.97 708.19L258.00 706.62L258.02 705.05L258.05 703.49L258.07 701.93L258.10 700.38L258.12 698.84L258.15 697.30L258.17 695.77L258.20 694.25L258.22 692.74L258.25 691.23L258.27 689.74L258.30 688.25L258.32 686.78L258.35 685.31L258.38 683.86L258.40 682.41L258.43 680.98L258.45 679.56L258.48 678.16L258.50 676.77L258.53 675.39L258.55 674.02L258.58 672.67L258.60 671.33L258.63 670.01L258.65 668.70L258.68 667.41L258.70 666.14L258.73 664.88L258.75 663.65L258.78 662.42L258.80 661.22L258.83 660.04L258.85 658.87L258.88 657.73L258.90 656.60L258.93 655.50L258.95 654.41L258.98 653.35L259.00 652.31L259.03 651.29L259.05 650.30L259.08 649.32L259.10 648.37L259.13 647.45L259.15 646.54L259.18 645.66L259.20 644.81L259.23 643.98L259.25 643.18L259.28 642.40L259.30 641.65L259.33 640.93L259.35 640.23L259.38 639.56L259.40 638.91L259.43 638.30L259.45 637.71L259.48 637.15L259.50 636.61L259.53 636.11L259.56 635.64L259.58 635.19L259.61 634.77L259.63 634.38L259.66 634.03L259.68 633.70L259.71 633.40L259.73 633.13L259.76 632.89L259.78 632.68L259.81 632.50L259.83 632.36L259.86 632.24L259.88 632.15L259.91 632.09L259.93 632.07L259.96 632.07L259.98 632.11L260.01 632.17L260.03 632.27L260.06 632.39L260.08 632.55L260.11 632.74L260.13 632.96L260.16 633.20L260.18 633.48L260.21 633.79L260.23 634.12L260.26 634.49L260.28 634.89L260.31 635.31L260.33 635.77L260.36 636.25L260.38 636.76L260.41 637.30L260.43 637.87L260.46 638.47L260.48 639.09L260.51 639.74L260.53 640.42L260.56 641.13L260.58 641.86L260.61 642.62L260.63 643.40L260.66 644.22L260.69 645.05L260.71 645.91L260.74 646.80L260.76 647.71L260.79 648.64L260.81 649.60L260.84 650.58L260.86 651.58L260.89 652.60L260.91 653.65L260.94 654.72L260.96 655.81L260.99 656.92L261.01 658.05L261.04 659.20L261.06 660.37L261.09 661.56L261.11 662.77L261.14 663.99L261.16 665.24L261.19 666.50L261.21 667.78L261.24 669.07L261.26 670.38L261.29 671.71L261.31 673.05L261.34 674.41L261.36 675.78L261.39 677.16L261.41 678.56L261.44 679.97L261.46 681.39L261.49 682.82L261.51 684.27L261.54 685.73L261.56 687.19L261.59 688.67L261.61 690.16L261.64 691.66L261.66 693.16L261.69 694.68L261.71 696.20L261.74 697.73L261.76 699.27L261.79 700.82L261.82 702.37L261.84 703.93L261.87 705.49L261.89 707.06L261.92 708.64L261.94 710.22L261.97 711.80L261.99 713.39L262.02 714.98L262.04 716.57L262.07 718.17L262.09 719.77L262.12 721.37L262.14 722.98L262.17 724.58L262.19 726.19L262.22 727.80L262.24 729.41L262.27 731.01L262.29 732.62L262.32 734.23L262.34 735.84L262.37 737.44L262.39 739.05L262.42 740.65L262.44 742.26L262.47 743.86L262.49 745.46L262.52 747.05L262.54 748.65L262.57 750.24L262.59 751.82L262.62 753.41L262.64 754.99L262.67 756.56L262.69 758.14L262.72 759.71L262.74 761.27L262.77 762.83L262.79 764.39L262.82 765.94L262.84 767.48L262.87 769.02L262.89 770.55L262.92 772.08L262.94 773.61L262.97 775.12L263.00 776.63L263.02 778.14L263.05 779.64L263.07 781.13L263.10 782.62L263.12 784.09L263.15 785.57L263.17 787.03L263.20 788.49L263.22 789.94L263.25 791.39L263.27 792.82L263.30 794.25L263.32 795.68L263.35 797.09L263.37 798.50L263.40 799.90L263.42 801.29L263.45 802.67L263.47 804.05L263.50 805.42L263.52 806.78L263.55 808.13L263.57 809.47L263.60 810.81L263.62 812.14L263.65 813.46L263.67 814.77L263.70 816.07L263.72 817.36L263.75 818.65L263.77 819.93L263.80 821.20L263.82 822.46L263.85 823.71L263.87 824.96L263.90 826.19L263.92 827.42L263.95 828.64L263.97 829.85L264.00 831.05L264.02 832.24L264.05 833.43L264.07 834.60L264.10 835.77L264.13 836.93L264.15 838.08L264.18 839.23L264.20 840.36L264.23 841.49L264.25 842.60L264.28 843.71L264.30 844.81L264.33 845.90L264.35 846.99L264.38 848.06L264.40 849.13L264.43 850.19L264.45 851.24L264.48 852.28L264.50 853.32L264.53 854.34L264.55 855.36L264.58 856.37L264.60 857.37L264.63 858.37L264.65 859.35L264.68 860.33L264.70 861.30L264.73 862.26L264.75 863.21L264.78 864.16L264.80 865.10L264.83 866.03L264.85 866.95L264.88 867.87L264.90 868.78L264.93 869.68L264.95 870.57L264.98 871.45L265.00 872.33L265.03 873.20L265.05 874.06L265.08 874.92L265.10 875.77L265.13 876.61L265.15 877.44L265.18 878.27L265.20 879.09L265.23 879.90L265.25 880.71L265.28 881.50L265.31 882.30L265.33 883.08L265.36 883.86L265.38 884.63L265.41 885.39L265.43 886.15L265.46 886.90L265.48 887.65L265.51 888.38L265.53 889.11L265.56 889.84L265.58 890.56L265.61 891.27L265.63 891.97L265.66 892.67L265.68 893.37L265.71 894.05L265.73 894.74L265.76 895.41L265.78 896.08L265.81 896.74L265.83 897.40L265.86 898.05L265.88 898.69L265.91 899.33L265.93 899.97L265.96 900.59L265.98 901.22L266.01 901.83L266.03 902.44L266.06 903.05L266.08 903.65L266.11 904.24L266.13 904.83L266.16 905.42L266.18 906.00L266.21 906.57L266.23 907.14L266.26 907.70L266.28 908.26L266.31 908.81L266.33 909.36L266.36 909.90L266.38 910.44L266.41 910.97L266.44 911.50L266.46 912.02L266.49 912.54L266.51 913.06L266.54 913.56L266.56 914.07L266.59 914.57L266.61 915.06L266.64 915.55L266.66 916.04L266.69 916.52L266.71 917.00L266.74 917.47L266.76 917.94L266.79 918.40L266.81 918.86L266.84 919.32L266.86 919.77L266.89 920.22L266.91 920.66L266.94 921.10L266.96 921.54L266.99 921.97L267.01 922.40L267.04 922.82L267.06 923.24L267.09 923.65L267.11 924.07L267.14 924.47L267.16 924.88L267.19 925.28L267.21 925.68L267.24 926.07L267.26 926.46L267.29 926.85L267.31 927.23L267.34 927.61L267.36 927.98L267.39 928.36L267.41 928.73L267.44 929.09L267.46 929.45L267.49 929.81L267.51 930.17L267.54 930.52L267.56 930.87L267.59 931.21L267.62 931.56L267.64 931.90L267.67 932.23L267.69 932.57L267.72 932.90L267.74 933.23L267.77 933.55L267.79 933.87L267.82 934.19L267.84 934.51L267.87 934.82L267.89 935.13L267.92 935.44L267.94 935.74L267.97 936.04L267.99 936.34L268.02 936.64L268.04 936.93L268.07 937.22L268.09 937.51L268.12 937.79L268.14 938.08L268.17 938.36L268.19 938.64L268.22 938.91L268.24 939.18L268.27 939.45L268.29 939.72L268.32 939.99L268.34 940.25L268.37 940.51L268.39 940.77L268.42 941.03L268.44 941.28L268.47 941.53L268.49 941.78L268.52 942.03L268.54 942.27L268.57 942.52L268.59 942.76L268.62 943.00L268.64 943.23L268.67 943.47L268.69 943.70L268.72 943.93L268.75 944.16L268.77 944.38L268.80 944.61L268.82 944.83L268.85 945.05L268.87 945.27L268.90 945.48L268.92 945.70L268.95 945.91L268.97 946.12L269.00 946.33L269.02 946.54L269.05 946.74L269.07 946.94L269.10 947.14L269.12 947.34L269.15 947.54L269.17 947.74L269.20 947.93L269.22 948.13L269.25 948.32L269.27 948.51L269.30 948.69L269.32 948.88L269.35 949.06L269.37 949.25L269.40 949.43L269.42 949.61L269.45 949.79L269.47 949.96L269.50 950.14L269.52 950.31L269.55 950.48L269.57 950.65L269.60 950.82L269.62 950.99L269.65 951.15L269.67 951.32L269.70 951.48L269.72 951.64L269.75 951.80L269.77 951.96L269.80 952.12L269.82 952.28L269.85 952.43L269.88 952.59L269.90 952.74L269.93 952.89L269.95 953.04L269.98 953.19L270.00 953.34L270.03 953.48L270.05 953.63L270.08 953.77L270.10 953.91L270.13 954.05L270.15 954.19L270.18 954.33L270.20 954.47L270.23 954.60L270.25 954.74L270.28 954.87L270.30 955.01L270.33 955.14L270.35 955.27L270.38 955.40L270.40 955.53L270.43 955.65L270.45 955.78L270.48 955.91L270.50 956.03L270.53 956.15L270.55 956.28L270.58 956.40L270.60 956.52L270.63 956.64L270.65 956.75L270.68 956.87L270.70 956.99L270.73 957.10L270.75 957.22L270.78 957.33L270.80 957.44L270.83 957.55L270.85 957.66L270.88 957.77L270.90 957.88L270.93 957.99L270.95 958.10L270.98 958.20L271.00 958.31L271.03 958.41L271.06 958.52L271.08 958.62L271.11 958.72L271.13 958.82L271.16 958.92L271.18 959.02L271.21 959.12L271.23 959.22L271.26 959.32L271.28 959.41L271.31 959.51L271.33 959.60L271.36 959.69L271.38 959.79L271.41 959.88L271.43 959.97L271.46 960.06L271.48 960.15L271.51 960.24L271.53 960.33L271.56 960.42L271.58 960.51L271.61 960.59L271.63 960.68L271.66 960.76L271.68 960.85L271.71 960.93L271.73 961.02L271.76 961.10L271.78 961.18L271.81 961.26L271.83 961.34L271.86 961.42L271.88 961.50L271.91 961.58L271.93 961.66L271.96 961.73L271.98 961.81L272.01 961.89L272.03 961.96L272.06 962.04L272.08 962.11L272.11 962.19L272.13 962.26L272.16 962.33L272.19 962.40L272.21 962.48L272.24 962.55L272.26 962.62L272.29 962.69L272.31 962.76L272.34 962.83L272.36 962.89L272.39 962.96L272.41 963.03L272.44 963.10L272.46 963.16L272.49 963.23L272.51 963.29L272.54 963.36L272.56 963.42L272.59 963.49L272.61 963.55L272.64 963.61L272.66 963.67L272.69 963.74L272.71 963.80L272.74 963.86L272.76 963.92L272.79 963.98L272.81 964.04L272.84 964.10L272.86 964.16L272.89 964.21L272.91 964.27L272.94 964.33L272.96 964.39L272.99 964.44L273.01 964.50L273.04 964.55L273.06 964.61L273.09 964.66L273.11 964.72L273.14 964.77L273.16 964.83L273.19 964.88L273.21 964.93L273.24 964.98L273.26 965.04L273.29 965.09L273.31 965.14L273.34 965.19L273.37 965.24L273.39 965.29L273.42 965.34L273.44 965.39L273.47 965.44L273.49 965.49L273.52 965.53L273.54 965.58L273.57 965.63L273.59 965.68L273.62 965.72L273.64 965.77L273.67 965.82L273.69 965.86L273.72 965.91L273.74 965.95L273.77 966.00L273.79 966.04L273.82 966.09L273.84 966.13L273.87 966.17L273.89 966.22L273.92 966.26L273.94 966.30L273.97 966.34L273.99 966.39L274.02 966.43L274.04 966.47L274.07 966.51L274.09 966.55L274.12 966.59L274.14 966.63L274.17 966.67L274.19 966.71L274.22 966.75L274.24 966.79L274.27 966.83L274.29 966.87L274.32 966.91L274.34 966.94L274.37 966.98L274.39 967.02L274.42 967.06L274.44 967.09L274.47 967.13L274.50 967.17L274.52 967.20L274.55 967.24L274.57 967.27L274.60 967.31L274.62 967.34L274.65 967.38L274.67 967.41L274.70 967.45L274.72 967.48L274.75 967.52L274.77 967.55L274.80 967.58L274.82 967.62L274.85 967.65L274.87 967.68L274.90 967.71L274.92 967.75L274.95 967.78L274.97 967.81L275.00 967.84L275.02 967.87L275.05 967.91L275.07 967.94L275.10 967.97L275.12 968.00L275.15 968.03L275.17 968.06L275.20 968.09L275.22 968.12L275.25 968.15L275.27 968.18L275.30 968.21L275.32 968.23L275.35 968.26L275.37 968.29L275.40 968.32L275.42 968.35L275.45 968.38L275.47 968.40L275.50 968.43L275.52 968.46L275.55 968.49L275.57 968.51L275.60 968.54L275.63 968.57L275.65 968.59L275.68 968.62L275.70 968.65L275.73 968.67L275.75 968.70L275.78 968.72L275.80 968.75L275.83 968.77L275.85 968.80L275.88 968.82L275.90 968.85L275.93 968.87L275.95 968.90L275.98 968.92L276.00 968.95L276.03 968.97L276.05 968.99L276.08 969.02L276.10 969.04L276.13 969.07L276.15 969.09L276.18 969.11L276.20 969.13L276.23 969.16L276.25 969.18L276.28 969.20L276.30 969.22L276.33 969.25L276.35 969.27L276.38 969.29L276.40 969.31L276.43 969.33L276.45 969.36L276.48 969.38L276.50 969.40L276.53 969.42L276.55 969.44L276.58 969.46L276.60 969.48L276.63 969.50L276.65 969.52L276.68 969.54L276.70 969.56L276.73 969.58L276.75 969.60L276.78 969.62L276.81 969.64L276.83 969.66L276.86 969.68L276.88 969.70L276.91 969.72L276.93 969.74L276.96 969.76L276.98 969.78L277.01 969.79L277.03 969.81L277.06 969.83L277.08 969.85L277.11 969.87L277.13 969.89L277.16 969.90L277.18 969.92L277.21 969.94L277.23 969.96L277.26 969.97L277.28 969.99L277.31 970.01L277.33 970.03L277.36 970.04L277.38 970.06L277.41 970.08L277.43 970.09L277.46 970.11L277.48 970.13L277.51 970.14L277.53 970.16L277.56 970.18L277.58 970.19L277.61 970.21L277.63 970.22L277.66 970.24L277.68 970.26L277.71 970.27L277.73 970.29L277.76 970.30L277.78 970.32L277.81 970.33L277.83 970.35L277.86 970.36L277.88 970.38L277.91 970.39L277.94 970.41L277.96 970.42L277.99 970.44L278.01 970.45L278.04 970.47L278.06 970.48L278.09 970.49L278.11 970.51L278.14 970.52L278.16 970.54L278.19 970.55L278.21 970.57L278.24 970.58L278.26 970.59L278.29 970.61L278.31 970.62L278.34 970.63L278.36 970.65L278.39 970.66L278.41 970.67L278.44 970.69L278.46 970.70L278.49 970.71L278.51 970.73L278.54 970.74L278.56 970.75L278.59 970.76L278.61 970.78L278.64 970.79L278.66 970.80L278.69 970.81L278.71 970.83L278.74 970.84L278.76 970.85" stroke="#000" stroke-width="3.2" fill="none" stroke-dasharray="4.8 2.5"/>
<path d="M741.84 691.24L741.87 691.24L741.89 691.24L741.92 691.24L741.95 691.24L741.97 691.23L742.00 691.23L742.02 691.23L742.05 691.23L742.08 691.23L742.10 691.23L742.13 691.23L742.16 691.23L742.18 691.23L742.21 691.22L742.23 691.22L742.26 691.22L742.29 691.22L742.31 691.22L742.34 691.22L742.37 691.22L742.39 691.22L742.42 691.21L742.44 691.21L742.47 691.21L742.50 691.21L742.52 691.21L742.55 691.21L742.58 691.21L742.60 691.21L742.63 691.20L742.65 691.20L742.68 691.20L742.71 691.20L742.73 691.20L742.76 691.20L742.79 691.20L742.81 691.20L742.84 691.19L742.86 691.19L742.89 691.19L742.92 691.19L742.94 691.19L742.97 691.19L743.00 691.19L743.02 691.18L743.05 691.18L743.07 691.18L743.10 691.18L743.13 691.18L743.15 691.18L743.18 691.18L743.20 691.17L743.23 691.17L743.26 691.17L743.28 691.17L743.31 691.17L743.34 691.17L743.36 691.17L743.39 691.16L743.41 691.16L743.44 691.16L743.47 691.16L743.49 691.16L743.52 691.16L743.55 691.15L743.57 691.15L743.60 691.15L743.62 691.15L743.65 691.15L743.68 691.15L743.70 691.14L743.73 691.14L743.76 691.14L743.78 691.14L743.81 691.14L743.83 691.14L743.86 691.13L743.89 691.13L743.91 691.13L743.94 691.13L743.97 691.13L743.99 691.13L744.02 691.12L744.04 691.12L744.07 691.12L744.10 691.12L744.12 691.12L744.15 691.12L744.18 691.11L744.20 691.11L744.23 691.11L744.25 691.11L744.28 691.11L744.31 691.10L744.33 691.10L744.36 691.10L744.39 691.10L744.41 691.10L744.44 691.09L744.46 691.09L744.49 691.09L744.52 691.09L744.54 691.09L744.57 691.08L744.60 691.08L744.62 691.08L744.65 691.08L744.67 691.08L744.70 691.07L744.73 691.07L744.75 691.07L744.78 691.07L744.80 691.06L744.83 691.06L744.86 691.06L744.88 691.06L744.91 691.06L744.94 691.05L744.96 691.05L744.99 691.05L745.01 691.05L745.04 691.04L745.07 691.04L745.09 691.04L745.12 691.04L745.15 691.04L745.17 691.03L745.20 691.03L745.22 691.03L745.25 691.03L745.28 691.02L745.30 691.02L745.33 691.02L745.36 691.02L745.38 691.01L745.41 691.01L745.43 691.01L745.46 691.01L745.49 691.00L745.51 691.00L745.54 691.00L745.57 690.99L745.59 690.99L745.62 690.99L745.64 690.99L745.67 690.98L745.70 690.98L745.72 690.98L745.75 690.98L745.78 690.97L745.80 690.97L745.83 690.97L745.85 690.96L745.88 690.96L745.91 690.96L745.93 690.96L745.96 690.95L745.99 690.95L746.01 690.95L746.04 690.94L746.06 690.94L746.09 690.94L746.12 690.94L746.14 690.93L746.17 690.93L746.20 690.93L746.22 690.92L746.25 690.92L746.27 690.92L746.30 690.91L746.33 690.91L746.35 690.91L746.38 690.90L746.40 690.90L746.43 690.90L746.46 690.89L746.48 690.89L746.51 690.89L746.54 690.88L746.56 690.88L746.59 690.88L746.61 690.87L746.64 690.87L746.67 690.87L746.69 690.86L746.72 690.86L746.75 690.85L746.77 690.85L746.80 690.85L746.82 690.84L746.85 690.84L746.88 690.84L746.90 690.83L746.93 690.83L746.96 690.82L746.98 690.82L747.01 690.82L747.03 690.81L747.06 690.81L747.09 690.81L747.11 690.80L747.14 690.80L747.17 690.79L747.19 690.79L747.22 690.78L747.24 690.78L747.27 690.78L747.30 690.77L747.32 690.77L747.35 690.76L747.38 690.76L747.40 690.76L747.43 690.75L747.45 690.75L747.48 690.74L747.51 690.74L747.53 690.73L747.56 690.73L747.59 690.72L747.61 690.72L747.64 690.71L747.66 690.71L747.69 690.71L747.72 690.70L747.74 690.70L747.77 690.69L747.80 690.69L747.82 690.68L747.85 690.68L747.87 690.67L747.90 690.67L747.93 690.66L747.95 690.66L747.98 690.65L748.00 690.65L748.03 690.64L748.06 690.64L748.08 690.63L748.11 690.62L748.14 690.62L748.16 690.61L748.19 690.61L748.21 690.60L748.24 690.60L748.27 690.59L748.29 690.59L748.32 690.58L748.35 690.57L748.37 690.57L748.40 690.56L748.42 690.56L748.45 690.55L748.48 690.55L748.50 690.54L748.53 690.53L748.56 690.53L748.58 690.52L748.61 690.52L748.63 690.51L748.66 690.50L748.69 690.50L748.71 690.49L748.74 690.48L748.77 690.48L748.79 690.47L748.82 690.46L748.84 690.46L748.87 690.45L748.90 690.44L748.92 690.44L748.95 690.43L748.98 690.42L749.00 690.42L749.03 690.41L749.05 690.40L749.08 690.40L749.11 690.39L749.13 690.38L749.16 690.37L749.19 690.37L749.21 690.36L749.24 690.35L749.26 690.34L749.29 690.34L749.32 690.33L749.34 690.32L749.37 690.31L749.40 690.31L749.42 690.30L749.45 690.29L749.47 690.28L749.50 690.27L749.53 690.27L749.55 690.26L749.58 690.25L749.60 690.24L749.63 690.23L749.66 690.22L749.68 690.22L749.71 690.21L749.74 690.20L749.76 690.19L749.79 690.18L749.81 690.17L749.84 690.16L749.87 690.15L749.89 690.14L749.92 690.14L749.95 690.13L749.97 690.12L750.00 690.11L750.02 690.10L750.05 690.09L750.08 690.08L750.10 690.07L750.13 690.06L750.16 690.05L750.18 690.04L750.21 690.03L750.23 690.02L750.26 690.01L750.29 690.00L750.31 689.99L750.34 689.98L750.37 689.97L750.39 689.96L750.42 689.95L750.44 689.93L750.47 689.92L750.50 689.91L750.52 689.90L750.55 689.89L750.58 689.88L750.60 689.87L750.63 689.86L750.65 689.84L750.68 689.83L750.71 689.82L750.73 689.81L750.76 689.80L750.79 689.78L750.81 689.77L750.84 689.76L750.86 689.75L750.89 689.74L750.92 689.72L750.94 689.71L750.97 689.70L751.00 689.68L751.02 689.67L751.05 689.66L751.07 689.64L751.10 689.63L751.13 689.62L751.15 689.60L751.18 689.59L751.20 689.58L751.23 689.56L751.26 689.55L751.28 689.53L751.31 689.52L751.34 689.50L751.36 689.49L751.39 689.48L751.41 689.46L751.44 689.45L751.47 689.43L751.49 689.41L751.52 689.40L751.55 689.38L751.57 689.37L751.60 689.35L751.62 689.34L751.65 689.32L751.68 689.30L751.70 689.29L751.73 689.27L751.76 689.25L751.78 689.24L751.81 689.22L751.83 689.20L751.86 689.19L751.89 689.17L751.91 689.15L751.94 689.13L751.97 689.12L751.99 689.10L752.02 689.08L752.04 689.06L752.07 689.04L752.10 689.02L752.12 689.00L752.15 688.99L752.18 688.97L752.20 688.95L752.23 688.93L752.25 688.91L752.28 688.89L752.31 688.87L752.33 688.85L752.36 688.83L752.39 688.81L752.41 688.79L752.44 688.76L752.46 688.74L752.49 688.72L752.52 688.70L752.54 688.68L752.57 688.66L752.60 688.63L752.62 688.61L752.65 688.59L752.67 688.57L752.70 688.54L752.73 688.52L752.75 688.50L752.78 688.47L752.80 688.45L752.83 688.43L752.86 688.40L752.88 688.38L752.91 688.35L752.94 688.33L752.96 688.30L752.99 688.28L753.01 688.25L753.04 688.23L753.07 688.20L753.09 688.17L753.12 688.15L753.15 688.12L753.17 688.09L753.20 688.07L753.22 688.04L753.25 688.01L753.28 687.98L753.30 687.95L753.33 687.92L753.36 687.90L753.38 687.87L753.41 687.84L753.43 687.81L753.46 687.78L753.49 687.75L753.51 687.72L753.54 687.69L753.57 687.66L753.59 687.62L753.62 687.59L753.64 687.56L753.67 687.53L753.70 687.50L753.72 687.46L753.75 687.43L753.78 687.40L753.80 687.36L753.83 687.33L753.85 687.29L753.88 687.26L753.91 687.23L753.93 687.19L753.96 687.15L753.99 687.12L754.01 687.08L754.04 687.05L754.06 687.01L754.09 686.97L754.12 686.93L754.14 686.90L754.17 686.86L754.20 686.82L754.22 686.78L754.25 686.74L754.27 686.70L754.30 686.66L754.33 686.62L754.35 686.58L754.38 686.54L754.41 686.50L754.43 686.45L754.46 686.41L754.48 686.37L754.51 686.33L754.54 686.28L754.56 686.24L754.59 686.19L754.61 686.15L754.64 686.10L754.67 686.06L754.69 686.01L754.72 685.96L754.75 685.92L754.77 685.87L754.80 685.82L754.82 685.77L754.85 685.73L754.88 685.68L754.90 685.63L754.93 685.58L754.96 685.53L754.98 685.48L755.01 685.42L755.03 685.37L755.06 685.32L755.09 685.27L755.11 685.21L755.14 685.16L755.17 685.11L755.19 685.05L755.22 685.00L755.24 684.94L755.27 684.88L755.30 684.83L755.32 684.77L755.35 684.71L755.38 684.65L755.40 684.59L755.43 684.53L755.45 684.47L755.48 684.41L755.51 684.35L755.53 684.29L755.56 684.23L755.59 684.17L755.61 684.10L755.64 684.04L755.66 683.97L755.69 683.91L755.72 683.84L755.74 683.78L755.77 683.71L755.80 683.64L755.82 683.58L755.85 683.51L755.87 683.44L755.90 683.37L755.93 683.30L755.95 683.23L755.98 683.16L756.01 683.08L756.03 683.01L756.06 682.94L756.08 682.86L756.11 682.79L756.14 682.71L756.16 682.64L756.19 682.56L756.21 682.48L756.24 682.40L756.27 682.33L756.29 682.25L756.32 682.17L756.35 682.09L756.37 682.00L756.40 681.92L756.42 681.84L756.45 681.76L756.48 681.67L756.50 681.59L756.53 681.50L756.56 681.42L756.58 681.33L756.61 681.24L756.63 681.15L756.66 681.06L756.69 680.97L756.71 680.88L756.74 680.79L756.77 680.70L756.79 680.61L756.82 680.51L756.84 680.42L756.87 680.33L756.90 680.23L756.92 680.13L756.95 680.04L756.98 679.94L757.00 679.84L757.03 679.74L757.05 679.64L757.08 679.54L757.11 679.44L757.13 679.34L757.16 679.23L757.19 679.13L757.21 679.03L757.24 678.92L757.26 678.81L757.29 678.71L757.32 678.60L757.34 678.49L757.37 678.38L757.40 678.27L757.42 678.16L757.45 678.05L757.47 677.94L757.50 677.83L757.53 677.71L757.55 677.60L757.58 677.48L757.61 677.37L757.63 677.25L757.66 677.13L757.68 677.02L757.71 676.90L757.74 676.78L757.76 676.66L757.79 676.54L757.81 676.42L757.84 676.29L757.87 676.17L757.89 676.05L757.92 675.92L757.95 675.80L757.97 675.67L758.00 675.55L758.02 675.42L758.05 675.29L758.08 675.16L758.10 675.03L758.13 674.90L758.16 674.77L758.18 674.64L758.21 674.51L758.23 674.38L758.26 674.25L758.29 674.11L758.31 673.98L758.34 673.85L758.37 673.71L758.39 673.58L758.42 673.44L758.44 673.31L758.47 673.17L758.50 673.03L758.52 672.89L758.55 672.76L758.58 672.62L758.60 672.48L758.63 672.34L758.65 672.20L758.68 672.06L758.71 671.92L758.73 671.78L758.76 671.64L758.79 671.50L758.81 671.36L758.84 671.21L758.86 671.07L758.89 670.93L758.92 670.79L758.94 670.65L758.97 670.50L759.00 670.36L759.02 670.22L759.05 670.08L759.07 669.93L759.10 669.79L759.13 669.65L759.15 669.51L759.18 669.36L759.21 669.22L759.23 669.08L759.26 668.94L759.28 668.79L759.31 668.65L759.34 668.51L759.36 668.37L759.39 668.23L759.41 668.09L759.44 667.95L759.47 667.81L759.49 667.67L759.52 667.53L759.55 667.39L759.57 667.26L759.60 667.12L759.62 666.98L759.65 666.85L759.68 666.71L759.70 666.58L759.73 666.45L759.76 666.31L759.78 666.18L759.81 666.05L759.83 665.92L759.86 665.79L759.89 665.66L759.91 665.54L759.94 665.41L759.97 665.29L759.99 665.16L760.02 665.04L760.04 664.92L760.07 664.80L760.10 664.68L760.12 664.56L760.15 664.45L760.18 664.33L760.20 664.22L760.23 664.11L760.25 664.00L760.28 663.89L760.31 663.79L760.33 663.68L760.36 663.58L760.39 663.48L760.41 663.38L760.44 663.28L760.46 663.18L760.49 663.09L760.52 663.00L760.54 662.90L760.57 662.82L760.60 662.73L760.62 662.65L760.65 662.56L760.67 662.48L760.70 662.41L760.73 662.33L760.75 662.26L760.78 662.19L760.81 662.12L760.83 662.05L760.86 661.99L760.88 661.92L760.91 661.86L760.94 661.81L760.96 661.75L760.99 661.70L761.01 661.65L761.04 661.60L761.07 661.56L761.09 661.52L761.12 661.48L761.15 661.44L761.17 661.41L761.20 661.37L761.22 661.34L761.25 661.32L761.28 661.29L761.30 661.27L761.33 661.25L761.36 661.24L761.38 661.23L761.41 661.22L761.43 661.21L761.46 661.20L761.49 661.20L761.51 661.20L761.54 661.20L761.57 661.21L761.59 661.22L761.62 661.23L761.64 661.24L761.67 661.26L761.70 661.28L761.72 661.30L761.75 661.33L761.78 661.35L761.80 661.38L761.83 661.41L761.85 661.45L761.88 661.49L761.91 661.53L761.93 661.57L761.96 661.62L761.99 661.66L762.01 661.71L762.04 661.77L762.06 661.82L762.09 661.88L762.12 661.94L762.14 662.00L762.17 662.07L762.20 662.14L762.22 662.21L762.25 662.28L762.27 662.35L762.30 662.43L762.33 662.51L762.35 662.59L762.38 662.67L762.41 662.75L762.43 662.84L762.46 662.93L762.48 663.02L762.51 663.11L762.54 663.21L762.56 663.31L762.59 663.40L762.61 663.50L762.64 663.61L762.67 663.71L762.69 663.82L762.72 663.92L762.75 664.03L762.77 664.14L762.80 664.25L762.82 664.37L762.85 664.48L762.88 664.60L762.90 664.72L762.93 664.83L762.96 664.95L762.98 665.08L763.01 665.20L763.03 665.32L763.06 665.45L763.09 665.57L763.11 665.70L763.14 665.83L763.17 665.96L763.19 666.09L763.22 666.22L763.24 666.35L763.27 666.48L763.30 666.62L763.32 666.75L763.35 666.89L763.38 667.02L763.40 667.16L763.43 667.30L763.45 667.43L763.48 667.57L763.51 667.71L763.53 667.85L763.56 667.99L763.59 668.13L763.61 668.27L763.64 668.41L763.66 668.55L763.69 668.69L763.72 668.84L763.74 668.98L763.77 669.12L763.80 669.26L763.82 669.40L763.85 669.55L763.87 669.69L763.90 669.83L763.93 669.97L763.95 670.12L763.98 670.26L764.01 670.40L764.03 670.54L764.06 670.69L764.08 670.83L764.11 670.97L764.14 671.11L764.16 671.25L764.19 671.40L764.21 671.54L764.24 671.68L764.27 671.82L764.29 671.96L764.32 672.10L764.35 672.24L764.37 672.38L764.40 672.52L764.42 672.66L764.45 672.80L764.48 672.93L764.50 673.07L764.53 673.21L764.56 673.34L764.58 673.48L764.61 673.62L764.63 673.75L764.66 673.89L764.69 674.02L764.71 674.15L764.74 674.29L764.77 674.42L764.79 674.55L764.82 674.68L764.84 674.81L764.87 674.94L764.90 675.07L764.92 675.20L764.95 675.33L764.98 675.45L765.00 675.58L765.03 675.71L765.05 675.83L765.08 675.96L765.11 676.08L765.13 676.21L765.16 676.33L765.19 676.45L765.21 676.57L765.24 676.69L765.26 676.81L765.29 676.93L765.32 677.05L765.34 677.17L765.37 677.28L765.40 677.40L765.42 677.52L765.45 677.63L765.47 677.74L765.50 677.86L765.53 677.97L765.55 678.08L765.58 678.19L765.61 678.30L765.63 678.41L765.66 678.52L765.68 678.63L765.71 678.74L765.74 678.84L765.76 678.95L765.79 679.06L765.82 679.16L765.84 679.26L765.87 679.37L765.89 679.47L765.92 679.57L765.95 679.67L765.97 679.77L766.00 679.87L766.02 679.97L766.05 680.06L766.08 680.16L766.10 680.26L766.13 680.35L766.16 680.45L766.18 680.54L766.21 680.63L766.23 680.73L766.26 680.82L766.29 680.91L766.31 681.00L766.34 681.09L766.37 681.18L766.39 681.27L766.42 681.35L766.44 681.44L766.47 681.53L766.50 681.61L766.52 681.70L766.55 681.78L766.58 681.86L766.60 681.95L766.63 682.03L766.65 682.11L766.68 682.19L766.71 682.27L766.73 682.35L766.76 682.43L766.79 682.50L766.81 682.58L766.84 682.66L766.86 682.73L766.89 682.81L766.92 682.88L766.94 682.96L766.97 683.03L767.00 683.10L767.02 683.18L767.05 683.25L767.07 683.32L767.10 683.39L767.13 683.46L767.15 683.53L767.18 683.60L767.21 683.66L767.23 683.73L767.26 683.80L767.28 683.86L767.31 683.93L767.34 683.99L767.36 684.06L767.39 684.12L767.42 684.18L767.44 684.25L767.47 684.31L767.49 684.37L767.52 684.43L767.55 684.49L767.57 684.55L767.60 684.61L767.62 684.67L767.65 684.73L767.68 684.79L767.70 684.84L767.73 684.90L767.76 684.96L767.78 685.01L767.81 685.07L767.83 685.12L767.86 685.17L767.89 685.23L767.91 685.28L767.94 685.33L767.97 685.39L767.99 685.44L768.02 685.49L768.04 685.54L768.07 685.59L768.10 685.64L768.12 685.69L768.15 685.74L768.18 685.79L768.20 685.84L768.23 685.88L768.25 685.93L768.28 685.98L768.31 686.02L768.33 686.07L768.36 686.12L768.39 686.16L768.41 686.21L768.44 686.25L768.46 686.29L768.49 686.34L768.52 686.38L768.54 686.42L768.57 686.47L768.60 686.51L768.62 686.55L768.65 686.59L768.67 686.63L768.70 686.67L768.73 686.71L768.75 686.75L768.78 686.79L768.81 686.83L768.83 686.87L768.86 686.91L768.88 686.94L768.91 686.98L768.94 687.02L768.96 687.06L768.99 687.09L769.02 687.13L769.04 687.16L769.07 687.20L769.09 687.24L769.12 687.27L769.15 687.30L769.17 687.34L769.20 687.37L769.22 687.41L769.25 687.44L769.28 687.47L769.30 687.51L769.33 687.54L769.36 687.57L769.38 687.60L769.41 687.63L769.43 687.66L769.46 687.70L769.49 687.73L769.51 687.76L769.54 687.79L769.57 687.82L769.59 687.85L769.62 687.88L769.64 687.90L769.67 687.93L769.70 687.96L769.72 687.99L769.75 688.02L769.78 688.05L769.80 688.07L769.83 688.10L769.85 688.13L769.88 688.15L769.91 688.18L769.93 688.21L769.96 688.23L769.99 688.26L770.01 688.28L770.04 688.31L770.06 688.33L770.09 688.36L770.12 688.38L770.14 688.41L770.17 688.43L770.20 688.46L770.22 688.48L770.25 688.50L770.27 688.53L770.30 688.55L770.33 688.57L770.35 688.60L770.38 688.62L770.41 688.64L770.43 688.66L770.46 688.69L770.48 688.71L770.51 688.73L770.54 688.75L770.56 688.77L770.59 688.79L770.62 688.81L770.64 688.83L770.67 688.85L770.69 688.87L770.72 688.89L770.75 688.91L770.77 688.93L770.80 688.95L770.82 688.97L770.85 688.99L770.88 689.01L770.90 689.03L770.93 689.05L770.96 689.07L770.98 689.08L771.01 689.10L771.03 689.12L771.06 689.14L771.09 689.16L771.11 689.17L771.14 689.19L771.17 689.21L771.19 689.23L771.22 689.24L771.24 689.26L771.27 689.28L771.30 689.29L771.32 689.31L771.35 689.32L771.38 689.34L771.40 689.36L771.43 689.37L771.45 689.39L771.48 689.40L771.51 689.42L771.53 689.43L771.56 689.45L771.59 689.46L771.61 689.48L771.64 689.49L771.66 689.51L771.69 689.52L771.72 689.54L771.74 689.55L771.77 689.57L771.80 689.58L771.82 689.59L771.85 689.61L771.87 689.62L771.90 689.63L771.93 689.65L771.95 689.66L771.98 689.67L772.01 689.69L772.03 689.70L772.06 689.71L772.08 689.73L772.11 689.74L772.14 689.75L772.16 689.76L772.19 689.78L772.22 689.79L772.24 689.80L772.27 689.81L772.29 689.82L772.32 689.84L772.35 689.85L772.37 689.86L772.40 689.87L772.42 689.88L772.45 689.89L772.48 689.90L772.50 689.92L772.53 689.93L772.56 689.94L772.58 689.95L772.61 689.96L772.63 689.97L772.66 689.98L772.69 689.99L772.71 690.00L772.74 690.01L772.77 690.02L772.79 690.03L772.82 690.04L772.84 690.05L772.87 690.06L772.90 690.07L772.92 690.08L772.95 690.09L772.98 690.10L773.00 690.11L773.03 690.12L773.05 690.13L773.08 690.14L773.11 690.15L773.13 690.16L773.16 690.17L773.19 690.17L773.21 690.18L773.24 690.19L773.26 690.20L773.29 690.21L773.32 690.22L773.34 690.23L773.37 690.23L773.40 690.24L773.42 690.25L773.45 690.26L773.47 690.27L773.50 690.28L773.53 690.28L773.55 690.29L773.58 690.30L773.61 690.31L773.63 690.32L773.66 690.32L773.68 690.33L773.71 690.34L773.74 690.35L773.76 690.35L773.79 690.36L773.82 690.37L773.84 690.38L773.87 690.38L773.89 690.39L773.92 690.40L773.95 690.40L773.97 690.41L774.00 690.42L774.02 690.43L774.05 690.43L774.08 690.44L774.10 690.45L774.13 690.45L774.16 690.46L774.18 690.47L774.21 690.47L774.23 690.48L774.26 690.49L774.29 690.49L774.31 690.50L774.34 690.50L774.37 690.51L774.39 690.52L774.42 690.52L774.44 690.53L774.47 690.54L774.50 690.54L774.52 690.55L774.55 690.55L774.58 690.56L774.60 690.56L774.63 690.57L774.65 690.58L774.68 690.58L774.71 690.59L774.73 690.59L774.76 690.60L774.79 690.60L774.81 690.61L774.84 690.62L774.86 690.62L774.89 690.63L774.92 690.63L774.94 690.64L774.97 690.64L775.00 690.65L775.02 690.65L775.05 690.66L775.07 690.66L775.10 690.67L775.13 690.67L775.15 690.68L775.18 690.68L775.21 690.69L775.23 690.69L775.26 690.70L775.28 690.70L775.31 690.71L775.34 690.71L775.36 690.72L775.39 690.72L775.42 690.73L775.44 690.73L775.47 690.73L775.49 690.74L775.52 690.74L775.55 690.75L775.57 690.75L775.60 690.76L775.62 690.76L775.65 690.76L775.68 690.77L775.70 690.77L775.73 690.78L775.76 690.78L775.78 690.79L775.81 690.79L775.83 690.79L775.86 690.80L775.89 690.80L775.91 690.81L775.94 690.81L775.97 690.81L775.99 690.82L776.02 690.82L776.04 690.83L776.07 690.83L776.10 690.83L776.12 690.84L776.15 690.84L776.18 690.84L776.20 690.85L776.23 690.85L776.25 690.86L776.28 690.86L776.31 690.86L776.33 690.87L776.36 690.87L776.39 690.87L776.41 690.88L776.44 690.88L776.46 690.88L776.49 690.89L776.52 690.89L776.54 690.89L776.57 690.90L776.60 690.90L776.62 690.90L776.65 690.91L776.67 690.91L776.70 690.91L776.73 690.92L776.75 690.92L776.78 690.92L776.81 690.93L776.83 690.93L776.86 690.93L776.88 690.94L776.91 690.94L776.94 690.94L776.96 690.94L776.99 690.95L777.02 690.95L777.04 690.95L777.07 690.96L777.09 690.96L777.12 690.96L777.15 690.97L777.17 690.97L777.20 690.97L777.23 690.97L777.25 690.98L777.28 690.98L777.30 690.98L777.33 690.98L777.36 690.99L777.38 690.99L777.41 690.99L777.43 691.00L777.46 691.00L777.49 691.00L777.51 691.00L777.54 691.01L777.57 691.01L777.59 691.01L777.62 691.01L777.64 691.02L777.67 691.02L777.70 691.02L777.72 691.02L777.75 691.03L777.78 691.03L777.80 691.03L777.83 691.03L777.85 691.04L777.88 691.04L777.91 691.04L777.93 691.04L777.96 691.05L777.99 691.05L778.01 691.05L778.04 691.05L778.06 691.05L778.09 691.06L778.12 691.06L778.14 691.06L778.17 691.06L778.20 691.07L778.22 691.07L778.25 691.07L778.27 691.07L778.30 691.07L778.33 691.08L778.35 691.08L778.38 691.08L778.41 691.08L778.43 691.08L778.46 691.09L778.48 691.09L778.51 691.09L778.54 691.09L778.56 691.09L778.59 691.10L778.62 691.10L778.64 691.10L778.67 691.10L778.69 691.10L778.72 691.11L778.75 691.11L778.77 691.11L778.80 691.11L778.83 691.11L778.85 691.12L778.88 691.12L778.90 691.12L778.93 691.12L778.96 691.12L778.98 691.12L779.01 691.13L779.03 691.13L779.06 691.13L779.09 691.13L779.11 691.13L779.14 691.14L779.17 691.14L779.19 691.14L779.22 691.14L779.24 691.14L779.27 691.14L779.30 691.15L779.32 691.15L779.35 691.15L779.38 691.15L779.40 691.15L779.43 691.15L779.45 691.16L779.48 691.16L779.51 691.16L779.53 691.16L779.56 691.16L779.59 691.16L779.61 691.16L779.64 691.17L779.66 691.17L779.69 691.17L779.72 691.17L779.74 691.17L779.77 691.17L779.80 691.18L779.82 691.18L779.85 691.18L779.87 691.18L779.90 691.18L779.93 691.18L779.95 691.18L779.98 691.19L780.01 691.19L780.03 691.19L780.06 691.19L780.08 691.19L780.11 691.19L780.14 691.19L780.16 691.19L780.19 691.20L780.22 691.20L780.24 691.20L780.27 691.20L780.29 691.20L780.32 691.20L780.35 691.20L780.37 691.21L780.40 691.21L780.43 691.21L780.45 691.21L780.48 691.21L780.50 691.21L780.53 691.21L780.56 691.21L780.58 691.22L780.61 691.22L780.63 691.22L780.66 691.22L780.69 691.22L780.71 691.22L780.74 691.22L780.77 691.22L780.79 691.22L780.82 691.23L780.84 691.23L780.87 691.23L780.90 691.23L780.92 691.23L780.95 691.23L780.98 691.23L781.00 691.23L781.03 691.24L781.05 691.24L781.08 691.24L781.11 691.24L781.13 691.24L781.16 691.24" stroke="#000" stroke-width="3.2" fill="none" stroke-dasharray="4.8 2.5"/>
<rect x="131.0" y="49.5" width="356.20" height="429.00" fill="none" stroke="#858585" stroke-width="1.6" style="mix-blend-mode:multiply"/><rect x="626.8" y="49.5" width="372.10" height="429.00" fill="none" stroke="#858585" stroke-width="1.6" style="mix-blend-mode:multiply"/><rect x="131.0" y="532.0" width="356.20" height="438.50" fill="none" stroke="#858585" stroke-width="1.6" style="mix-blend-mode:multiply"/><rect x="626.8" y="532.0" width="372.10" height="438.50" fill="none" stroke="#858585" stroke-width="1.6" style="mix-blend-mode:multiply"/>
<text x="309.2" y="30.1" font-size="16.7" text-anchor="middle">BLG02M2911.1866</text>
<text x="812.6" y="30.1" font-size="16.55" text-anchor="middle" xml:space="preserve">5464  18.90  0.10  698</text>
<text transform="translate(39,264.3) rotate(-90)" text-anchor="middle">d flux</text>
<text transform="translate(39,751.8) rotate(-90)" text-anchor="middle">d flux</text>
<text x="309" y="1017.8" text-anchor="middle">time (HJD-2450000)</text>
<text x="812.5" y="1017.8" text-anchor="middle">time (HJD-2450000)</text>
</svg></body></html>
